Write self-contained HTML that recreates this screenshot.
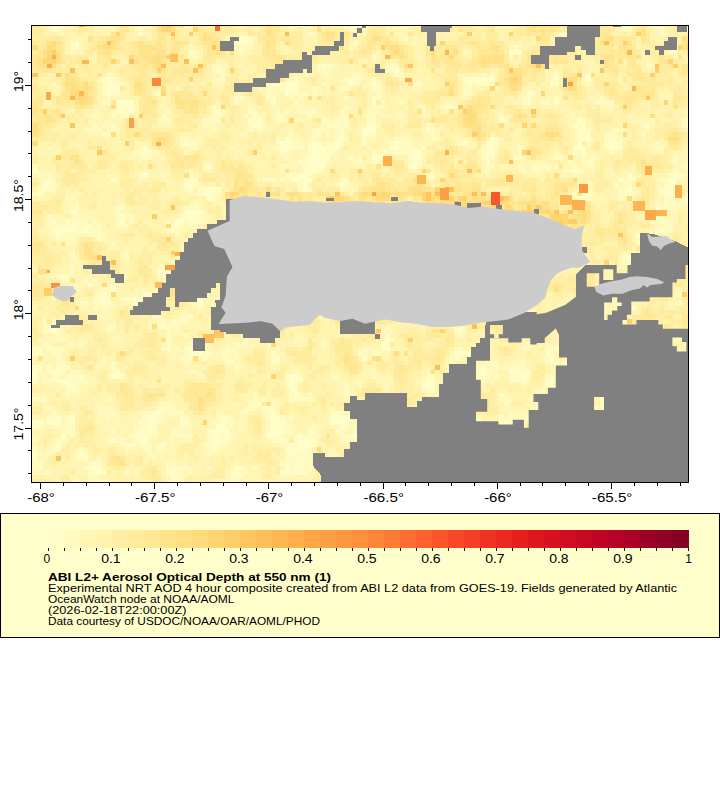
<!DOCTYPE html><html><head><meta charset="utf-8"><style>html,body{margin:0;padding:0;background:#fff;}svg{display:block;}text{font-family:"Liberation Sans",sans-serif;}</style></head><body><svg width="720" height="800" viewBox="0 0 720 800" shape-rendering="crispEdges"><rect width="720" height="800" fill="#fff"/><defs><clipPath id="mc"><rect x="32" y="26" width="656" height="456"/></clipPath></defs><g clip-path="url(#mc)"><rect x="32" y="26" width="656" height="456" fill="#ffeea6"/><g id="cells"><path fill="#fffdc8" d="M61 26h4v1h-4zM294 26h4v1h-4zM349 26h13v1h-13zM408 26h5v1h-5zM682 26h6v1h-6zM52 27h4v5h-4zM358 27h4v5h-4zM139 32h4v4h-4zM239 36h9v5h-9zM75 41h4v4h-4zM239 41h9v4h-9zM75 45h4v5h-4zM668 45h10v5h-10zM189 50h4v5h-4zM509 50h13v5h-13zM193 55h5v4h-5zM509 55h4v4h-4zM321 64h5v4h-5zM390 64h4v4h-4zM216 68h5v5h-5zM394 68h5v5h-5zM394 73h5v4h-5zM554 73h5v4h-5zM102 77h9v5h-9zM349 77h4v5h-4zM463 77h32v5h-32zM554 77h5v5h-5zM586 77h5v5h-5zM107 82h13v4h-13zM262 82h4v4h-4zM285 82h13v4h-13zM349 82h4v4h-4zM372 82h4v4h-4zM417 82h5v4h-5zM467 82h5v4h-5zM477 82h13v4h-13zM550 82h4v4h-4zM107 86h13v5h-13zM285 86h13v5h-13zM372 86h4v5h-4zM107 91h4v5h-4zM285 91h4v5h-4zM527 91h4v5h-4zM271 96h5v4h-5zM372 96h4v4h-4zM527 96h4v4h-4zM116 100h18v5h-18zM372 100h4v5h-4zM554 100h5v5h-5zM120 105h14v4h-14zM445 105h9v4h-9zM120 109h5v5h-5zM129 109h5v5h-5zM216 109h5v5h-5zM253 114h4v4h-4zM248 118h5v5h-5zM257 118h5v5h-5zM499 118h5v5h-5zM577 118h5v5h-5zM687 118h1v5h-1zM253 123h9v5h-9zM335 123h5v5h-5zM367 123h9v5h-9zM573 123h4v5h-4zM582 123h4v5h-4zM646 123h4v5h-4zM687 123h1v5h-1zM317 128h4v4h-4zM362 128h14v4h-14zM426 128h5v4h-5zM577 128h9v4h-9zM340 132h4v5h-4zM362 132h5v5h-5zM577 132h5v5h-5zM586 132h5v5h-5zM285 137h4v4h-4zM335 137h9v4h-9zM431 137h4v4h-4zM490 137h5v4h-5zM582 137h9v4h-9zM184 141h5v5h-5zM280 141h14v5h-14zM312 141h9v5h-9zM335 141h5v5h-5zM394 141h5v5h-5zM404 141h4v5h-4zM463 141h4v5h-4zM486 141h9v5h-9zM577 141h5v5h-5zM609 141h9v5h-9zM143 146h5v4h-5zM280 146h14v4h-14zM308 146h18v4h-18zM330 146h10v4h-10zM390 146h9v4h-9zM486 146h9v4h-9zM573 146h13v4h-13zM609 146h9v4h-9zM143 150h5v5h-5zM280 150h5v5h-5zM312 150h14v5h-14zM413 150h9v5h-9zM486 150h9v5h-9zM582 150h4v5h-4zM308 155h13v5h-13zM326 155h4v5h-4zM372 155h13v5h-13zM413 155h9v5h-9zM486 155h4v5h-4zM308 160h18v4h-18zM413 160h4v4h-4zM486 160h4v4h-4zM207 164h5v5h-5zM303 164h23v5h-23zM408 164h9v5h-9zM32 169h6v4h-6zM303 169h14v4h-14zM573 169h4v4h-4zM143 173h5v5h-5zM289 173h5v5h-5zM298 173h10v5h-10zM627 173h5v5h-5zM673 173h9v5h-9zM111 178h5v4h-5zM294 178h4v4h-4zM303 178h9v4h-9zM618 178h5v4h-5zM668 178h10v4h-10zM43 182h9v5h-9zM184 182h9v5h-9zM303 182h5v5h-5zM340 182h4v5h-4zM668 182h10v5h-10zM43 187h4v5h-4zM189 187h4v5h-4zM203 187h18v5h-18zM303 187h5v5h-5zM582 187h9v5h-9zM627 187h5v5h-5zM659 187h14v5h-14zM38 192h5v4h-5zM203 192h13v4h-13zM582 192h9v4h-9zM623 192h4v4h-4zM664 192h9v4h-9zM207 196h5v5h-5zM577 196h9v5h-9zM687 196h1v5h-1zM664 201h4v4h-4zM687 201h1v4h-1zM404 205h13v5h-13zM655 205h4v5h-4zM687 205h1v5h-1zM70 210h5v4h-5zM184 210h19v4h-19zM650 210h14v4h-14zM120 214h5v5h-5zM184 214h19v5h-19zM285 214h4v5h-4zM404 214h4v5h-4zM417 214h5v5h-5zM655 214h9v5h-9zM52 219h4v5h-4zM65 219h5v5h-5zM120 219h5v5h-5zM175 219h9v5h-9zM189 219h9v5h-9zM659 219h5v5h-5zM70 224h9v4h-9zM84 224h4v4h-4zM171 224h9v4h-9zM52 228h23v5h-23zM79 228h9v5h-9zM253 228h4v5h-4zM353 228h5v5h-5zM472 228h5v5h-5zM659 228h5v5h-5zM56 233h5v4h-5zM262 233h4v4h-4zM358 233h4v4h-4zM636 233h5v4h-5zM212 237h4v5h-4zM257 237h5v5h-5zM317 237h9v5h-9zM486 237h4v5h-4zM207 242h14v4h-14zM262 242h4v4h-4zM317 242h9v4h-9zM330 242h5v4h-5zM486 242h4v4h-4zM317 246h18v5h-18zM486 246h9v5h-9zM330 255h5v5h-5zM422 255h4v5h-4zM623 255h13v5h-13zM422 260h4v5h-4zM577 260h9v5h-9zM166 265h5v4h-5zM321 265h9v4h-9zM417 265h5v4h-5zM527 265h9v4h-9zM157 269h4v5h-4zM326 269h4v5h-4zM527 269h4v5h-4zM326 274h4v4h-4zM522 274h5v4h-5zM312 278h5v5h-5zM477 278h18v5h-18zM88 283h5v4h-5zM477 283h18v4h-18zM111 287h5v5h-5zM385 287h5v5h-5zM618 287h14v5h-14zM102 292h5v5h-5zM143 292h5v5h-5zM152 292h5v5h-5zM376 292h5v5h-5zM97 297h10v4h-10zM134 297h5v4h-5zM143 297h9v4h-9zM198 297h5v4h-5zM102 301h9v5h-9zM134 301h18v5h-18zM198 301h5v5h-5zM618 301h5v5h-5zM568 306h5v4h-5zM623 306h4v4h-4zM632 306h4v4h-4zM326 310h4v5h-4zM623 310h4v5h-4zM189 315h4v4h-4zM326 315h4v4h-4zM404 315h13v4h-13zM527 315h4v4h-4zM614 315h4v4h-4zM408 319h5v5h-5zM527 319h4v5h-4zM52 324h4v5h-4zM161 324h5v5h-5zM522 324h9v5h-9zM52 329h4v4h-4zM458 329h5v4h-5zM623 329h4v4h-4zM623 333h4v5h-4zM385 338h5v4h-5zM381 342h9v5h-9zM586 342h5v5h-5zM47 347h5v4h-5zM184 347h9v4h-9zM385 347h5v4h-5zM582 347h13v4h-13zM189 351h14v5h-14zM358 351h4v5h-4zM454 351h13v5h-13zM545 351h5v5h-5zM582 351h13v5h-13zM276 356h4v5h-4zM362 356h5v5h-5zM454 356h4v5h-4zM550 356h4v5h-4zM591 356h9v5h-9zM563 361h5v4h-5zM582 361h4v4h-4zM56 365h9v5h-9zM481 365h5v5h-5zM604 365h5v5h-5zM32 370h6v4h-6zM52 370h9v4h-9zM116 370h4v4h-4zM481 370h5v4h-5zM509 370h18v4h-18zM32 374h6v5h-6zM70 374h5v5h-5zM79 374h5v5h-5zM111 374h9v5h-9zM289 374h9v5h-9zM481 374h5v5h-5zM518 374h9v5h-9zM56 379h14v4h-14zM289 379h9v4h-9zM426 379h9v4h-9zM467 379h14v4h-14zM522 379h5v4h-5zM550 379h4v4h-4zM65 383h10v5h-10zM289 383h5v5h-5zM422 383h13v5h-13zM458 383h5v5h-5zM545 383h9v5h-9zM636 383h5v5h-5zM294 388h4v5h-4zM431 388h4v5h-4zM294 393h4v4h-4zM499 393h5v4h-5zM604 393h5v4h-5zM655 393h4v4h-4zM600 397h9v5h-9zM664 397h4v5h-4zM257 402h5v4h-5zM664 402h4v4h-4zM161 406h5v5h-5zM266 406h5v5h-5zM390 406h4v5h-4zM467 406h5v5h-5zM152 411h9v4h-9zM271 411h5v4h-5zM335 411h5v4h-5zM641 411h9v4h-9zM56 415h5v5h-5zM70 415h5v5h-5zM143 415h18v5h-18zM271 415h9v5h-9zM330 415h19v5h-19zM499 415h5v5h-5zM545 415h5v5h-5zM586 415h5v5h-5zM595 415h5v5h-5zM32 420h11v5h-11zM47 420h14v5h-14zM148 420h9v5h-9zM180 420h9v5h-9zM221 420h4v5h-4zM271 420h14v5h-14zM330 420h19v5h-19zM376 420h14v5h-14zM394 420h5v5h-5zM477 420h4v5h-4zM504 420h5v5h-5zM591 420h4v5h-4zM32 425h6v4h-6zM143 425h9v4h-9zM216 425h9v4h-9zM271 425h18v4h-18zM340 425h4v4h-4zM376 425h18v4h-18zM477 425h9v4h-9zM499 425h19v4h-19zM586 425h5v4h-5zM627 425h5v4h-5zM139 429h4v5h-4zM148 429h4v5h-4zM207 429h23v5h-23zM271 429h14v5h-14zM308 429h4v5h-4zM376 429h18v5h-18zM477 429h4v5h-4zM495 429h18v5h-18zM586 429h14v5h-14zM618 429h18v5h-18zM61 434h4v4h-4zM134 434h14v4h-14zM212 434h9v4h-9zM225 434h5v4h-5zM266 434h14v4h-14zM298 434h5v4h-5zM353 434h5v4h-5zM376 434h14v4h-14zM417 434h14v4h-14zM618 434h23v4h-23zM111 438h5v5h-5zM139 438h9v5h-9zM212 438h13v5h-13zM280 438h5v5h-5zM298 438h19v5h-19zM385 438h5v5h-5zM413 438h22v5h-22zM454 438h4v5h-4zM595 438h5v5h-5zM623 438h4v5h-4zM56 443h5v4h-5zM129 443h5v4h-5zM143 443h5v4h-5zM161 443h5v4h-5zM207 443h14v4h-14zM289 443h5v4h-5zM298 443h19v4h-19zM413 443h18v4h-18zM454 443h9v4h-9zM490 443h9v4h-9zM595 443h5v4h-5zM604 443h5v4h-5zM212 447h4v5h-4zM285 447h23v5h-23zM413 447h9v5h-9zM454 447h9v5h-9zM486 447h9v5h-9zM32 452h6v4h-6zM79 452h5v4h-5zM289 452h9v4h-9zM417 452h9v4h-9zM440 452h9v4h-9zM458 452h5v4h-5zM499 452h14v4h-14zM32 456h6v5h-6zM84 456h4v5h-4zM294 456h4v5h-4zM445 456h4v5h-4zM609 456h9v5h-9zM93 461h4v5h-4zM298 461h5v5h-5zM568 461h14v5h-14zM614 461h4v5h-4zM88 466h14v4h-14zM234 466h10v4h-10zM285 466h4v4h-4zM294 466h4v4h-4zM376 466h9v4h-9zM568 466h9v4h-9zM636 466h10v4h-10zM93 470h9v5h-9zM166 470h9v5h-9zM234 470h5v5h-5zM285 470h4v5h-4zM294 470h9v5h-9zM394 470h5v5h-5zM568 470h5v5h-5zM591 470h4v5h-4zM636 470h10v5h-10zM230 475h4v4h-4zM344 475h5v4h-5zM390 475h18v4h-18zM604 475h5v4h-5zM646 475h4v4h-4zM678 475h9v4h-9zM390 479h18v3h-18zM604 479h14v3h-14zM682 479h6v3h-6z"/><path fill="#fffac0" d="M52 26h9v1h-9zM289 26h5v1h-5zM298 26h5v1h-5zM330 26h5v1h-5zM344 26h5v1h-5zM362 26h5v1h-5zM404 26h4v1h-4zM627 26h5v1h-5zM655 26h4v1h-4zM56 27h5v5h-5zM139 27h4v5h-4zM349 27h9v5h-9zM577 27h9v5h-9zM623 27h9v5h-9zM659 27h5v5h-5zM687 27h1v5h-1zM308 32h9v4h-9zM399 32h5v4h-5zM559 32h9v4h-9zM577 32h9v4h-9zM659 32h9v4h-9zM248 36h5v5h-5zM404 36h4v5h-4zM559 36h9v5h-9zM577 36h9v5h-9zM70 41h5v4h-5zM234 41h5v4h-5zM248 41h5v4h-5zM353 41h5v4h-5zM518 41h4v4h-4zM668 41h10v4h-10zM70 45h5v5h-5zM239 45h14v5h-14zM513 45h5v5h-5zM70 50h5v5h-5zM193 50h5v5h-5zM239 50h5v5h-5zM463 50h4v5h-4zM668 50h10v5h-10zM189 55h4v4h-4zM372 55h4v4h-4zM212 64h13v4h-13zM317 64h4v4h-4zM326 64h9v4h-9zM385 64h5v4h-5zM394 64h5v4h-5zM646 64h9v4h-9zM212 68h4v5h-4zM221 68h4v5h-4zM317 68h13v5h-13zM385 68h9v5h-9zM107 73h4v4h-4zM221 73h4v4h-4zM303 73h5v4h-5zM321 73h9v4h-9zM353 73h9v4h-9zM399 73h5v4h-5zM481 73h5v4h-5zM490 73h5v4h-5zM586 73h5v4h-5zM97 77h5v5h-5zM111 77h9v5h-9zM216 77h9v5h-9zM294 77h4v5h-4zM344 77h5v5h-5zM353 77h9v5h-9zM372 77h4v5h-4zM550 77h4v5h-4zM582 77h4v5h-4zM52 82h4v4h-4zM102 82h5v4h-5zM120 82h5v4h-5zM266 82h19v4h-19zM321 82h9v4h-9zM353 82h5v4h-5zM367 82h5v4h-5zM376 82h5v4h-5zM413 82h4v4h-4zM463 82h4v4h-4zM472 82h5v4h-5zM490 82h5v4h-5zM554 82h5v4h-5zM586 82h5v4h-5zM102 86h5v5h-5zM266 86h10v5h-10zM280 86h5v5h-5zM312 86h5v5h-5zM326 86h4v5h-4zM340 86h9v5h-9zM376 86h5v5h-5zM463 86h9v5h-9zM102 91h5v5h-5zM111 91h9v5h-9zM157 91h4v5h-4zM266 91h10v5h-10zM289 91h19v5h-19zM312 91h5v5h-5zM376 91h5v5h-5zM463 91h9v5h-9zM531 91h5v5h-5zM107 96h4v4h-4zM234 96h10v4h-10zM266 96h5v4h-5zM289 96h5v4h-5zM298 96h5v4h-5zM344 96h5v4h-5zM376 96h5v4h-5zM522 96h5v4h-5zM554 96h5v4h-5zM600 96h4v4h-4zM102 100h9v5h-9zM234 100h5v5h-5zM271 100h5v5h-5zM294 100h4v5h-4zM381 100h4v5h-4zM399 100h5v5h-5zM445 100h4v5h-4zM522 100h9v5h-9zM541 100h9v5h-9zM595 100h19v5h-19zM116 105h4v4h-4zM134 105h5v4h-5zM212 105h4v4h-4zM248 105h5v4h-5zM298 105h5v4h-5zM344 105h5v4h-5zM372 105h13v4h-13zM422 105h4v4h-4zM440 105h5v4h-5zM454 105h4v4h-4zM609 105h5v4h-5zM111 109h9v5h-9zM125 109h4v5h-4zM166 109h5v5h-5zM212 109h4v5h-4zM221 109h4v5h-4zM248 109h9v5h-9zM276 109h4v5h-4zM285 109h4v5h-4zM298 109h19v5h-19zM340 109h4v5h-4zM367 109h14v5h-14zM422 109h4v5h-4zM93 114h4v4h-4zM111 114h5v4h-5zM120 114h9v4h-9zM161 114h5v4h-5zM212 114h9v4h-9zM244 114h4v4h-4zM257 114h5v4h-5zM276 114h9v4h-9zM308 114h4v4h-4zM340 114h9v4h-9zM367 114h9v4h-9zM381 114h4v4h-4zM399 114h5v4h-5zM422 114h4v4h-4zM499 114h5v4h-5zM687 114h1v4h-1zM161 118h10v5h-10zM203 118h18v5h-18zM253 118h4v5h-4zM276 118h9v5h-9zM294 118h4v5h-4zM321 118h9v5h-9zM335 118h14v5h-14zM367 118h9v5h-9zM504 118h5v5h-5zM582 118h4v5h-4zM650 118h5v5h-5zM682 118h5v5h-5zM93 123h4v5h-4zM102 123h14v5h-14zM203 123h4v5h-4zM248 123h5v5h-5zM262 123h4v5h-4zM321 123h14v5h-14zM340 123h9v5h-9zM426 123h5v5h-5zM577 123h5v5h-5zM641 123h5v5h-5zM682 123h5v5h-5zM84 128h18v4h-18zM107 128h9v4h-9zM212 128h4v4h-4zM248 128h5v4h-5zM257 128h5v4h-5zM312 128h5v4h-5zM321 128h5v4h-5zM335 128h9v4h-9zM431 128h4v4h-4zM586 128h5v4h-5zM614 128h9v4h-9zM646 128h4v4h-4zM102 132h9v5h-9zM239 132h5v5h-5zM289 132h5v5h-5zM312 132h9v5h-9zM326 132h4v5h-4zM335 132h5v5h-5zM367 132h9v5h-9zM431 132h4v5h-4zM582 132h4v5h-4zM604 132h14v5h-14zM641 132h5v5h-5zM180 137h9v4h-9zM198 137h5v4h-5zM276 137h4v4h-4zM289 137h9v4h-9zM312 137h5v4h-5zM344 137h5v4h-5zM362 137h5v4h-5zM394 137h14v4h-14zM435 137h5v4h-5zM495 137h4v4h-4zM577 137h5v4h-5zM604 137h19v4h-19zM180 141h4v5h-4zM189 141h9v5h-9zM276 141h4v5h-4zM294 141h9v5h-9zM308 141h4v5h-4zM326 141h9v5h-9zM340 141h4v5h-4zM362 141h5v5h-5zM390 141h4v5h-4zM399 141h5v5h-5zM408 141h5v5h-5zM458 141h5v5h-5zM495 141h4v5h-4zM586 141h5v5h-5zM604 141h5v5h-5zM618 141h5v5h-5zM655 141h4v5h-4zM47 146h5v4h-5zM139 146h4v4h-4zM189 146h9v4h-9zM230 146h4v4h-4zM276 146h4v4h-4zM294 146h9v4h-9zM326 146h4v4h-4zM399 146h18v4h-18zM422 146h4v4h-4zM481 146h5v4h-5zM495 146h4v4h-4zM518 146h4v4h-4zM604 146h5v4h-5zM618 146h5v4h-5zM655 146h9v4h-9zM134 150h9v5h-9zM148 150h4v5h-4zM184 150h5v5h-5zM285 150h4v5h-4zM308 150h4v5h-4zM326 150h9v5h-9zM372 150h4v5h-4zM381 150h9v5h-9zM394 150h19v5h-19zM481 150h5v5h-5zM518 150h4v5h-4zM573 150h9v5h-9zM609 150h5v5h-5zM139 155h13v5h-13zM285 155h4v5h-4zM303 155h5v5h-5zM321 155h5v5h-5zM349 155h4v5h-4zM358 155h4v5h-4zM408 155h5v5h-5zM481 155h5v5h-5zM490 155h5v5h-5zM513 155h9v5h-9zM554 155h9v5h-9zM582 155h4v5h-4zM591 155h4v5h-4zM673 155h5v5h-5zM298 160h10v4h-10zM326 160h4v4h-4zM353 160h9v4h-9zM372 160h9v4h-9zM408 160h5v4h-5zM417 160h5v4h-5zM568 160h5v4h-5zM582 160h13v4h-13zM673 160h5v4h-5zM687 160h1v4h-1zM32 164h6v5h-6zM203 164h4v5h-4zM280 164h9v5h-9zM417 164h5v5h-5zM486 164h9v5h-9zM518 164h4v5h-4zM531 164h19v5h-19zM554 164h5v5h-5zM573 164h4v5h-4zM586 164h9v5h-9zM682 164h6v5h-6zM189 169h4v4h-4zM280 169h5v4h-5zM317 169h4v4h-4zM486 169h4v4h-4zM522 169h5v4h-5zM531 169h10v4h-10zM563 169h10v4h-10zM577 169h5v4h-5zM673 169h5v4h-5zM38 173h5v5h-5zM47 173h5v5h-5zM107 173h4v5h-4zM139 173h4v5h-4zM161 173h5v5h-5zM189 173h4v5h-4zM285 173h4v5h-4zM294 173h4v5h-4zM308 173h4v5h-4zM426 173h9v5h-9zM668 173h5v5h-5zM682 173h5v5h-5zM43 178h13v4h-13zM139 178h4v4h-4zM184 178h14v4h-14zM262 178h14v4h-14zM280 178h5v4h-5zM289 178h5v4h-5zM298 178h5v4h-5zM340 178h9v4h-9zM431 178h4v4h-4zM623 178h13v4h-13zM659 178h9v4h-9zM678 178h4v4h-4zM52 182h4v5h-4zM193 182h5v5h-5zM298 182h5v5h-5zM335 182h5v5h-5zM344 182h5v5h-5zM582 182h9v5h-9zM614 182h4v5h-4zM623 182h9v5h-9zM664 182h4v5h-4zM38 187h5v5h-5zM47 187h9v5h-9zM184 187h5v5h-5zM198 187h5v5h-5zM298 187h5v5h-5zM308 187h4v5h-4zM340 187h4v5h-4zM349 187h4v5h-4zM577 187h5v5h-5zM618 187h9v5h-9zM673 187h5v5h-5zM32 192h6v4h-6zM189 192h14v4h-14zM216 192h5v4h-5zM573 192h4v4h-4zM591 192h4v4h-4zM618 192h5v4h-5zM627 192h9v4h-9zM659 192h5v4h-5zM673 192h5v4h-5zM65 196h10v5h-10zM212 196h4v5h-4zM563 196h14v5h-14zM586 196h5v5h-5zM600 196h4v5h-4zM618 196h5v5h-5zM664 196h23v5h-23zM75 201h4v4h-4zM193 201h5v4h-5zM280 201h5v4h-5zM655 201h4v4h-4zM668 201h19v4h-19zM70 205h9v5h-9zM116 205h9v5h-9zM189 205h9v5h-9zM280 205h5v5h-5zM417 205h5v5h-5zM659 205h19v5h-19zM75 210h4v4h-4zM116 210h4v4h-4zM203 210h4v4h-4zM285 210h9v4h-9zM404 210h18v4h-18zM687 210h1v4h-1zM47 214h5v5h-5zM75 214h4v5h-4zM116 214h4v5h-4zM125 214h9v5h-9zM180 214h4v5h-4zM203 214h4v5h-4zM280 214h5v5h-5zM289 214h5v5h-5zM385 214h9v5h-9zM399 214h5v5h-5zM413 214h4v5h-4zM426 214h5v5h-5zM650 214h5v5h-5zM47 219h5v5h-5zM70 219h18v5h-18zM93 219h4v5h-4zM116 219h4v5h-4zM129 219h5v5h-5zM166 219h5v5h-5zM184 219h5v5h-5zM198 219h9v5h-9zM253 219h4v5h-4zM289 219h5v5h-5zM385 219h5v5h-5zM413 219h9v5h-9zM426 219h5v5h-5zM650 219h9v5h-9zM664 219h9v5h-9zM47 224h23v4h-23zM79 224h5v4h-5zM88 224h5v4h-5zM97 224h5v4h-5zM116 224h13v4h-13zM180 224h4v4h-4zM189 224h9v4h-9zM253 224h4v4h-4zM276 224h4v4h-4zM353 224h9v4h-9zM417 224h9v4h-9zM463 224h4v4h-4zM655 224h4v4h-4zM664 224h9v4h-9zM75 228h4v5h-4zM88 228h14v5h-14zM166 228h14v5h-14zM285 228h4v5h-4zM344 228h9v5h-9zM362 228h5v5h-5zM431 228h4v5h-4zM467 228h5v5h-5zM655 228h4v5h-4zM664 228h9v5h-9zM52 233h4v4h-4zM61 233h18v4h-18zM88 233h19v4h-19zM175 233h5v4h-5zM253 233h9v4h-9zM266 233h5v4h-5zM326 233h9v4h-9zM349 233h9v4h-9zM477 233h4v4h-4zM486 233h4v4h-4zM641 233h9v4h-9zM655 233h4v4h-4zM56 237h19v5h-19zM97 237h5v5h-5zM262 237h4v5h-4zM330 237h5v5h-5zM490 237h5v5h-5zM636 237h14v5h-14zM65 242h5v4h-5zM111 242h5v4h-5zM184 242h9v4h-9zM294 242h4v4h-4zM312 242h5v4h-5zM481 242h5v4h-5zM490 242h9v4h-9zM550 242h13v4h-13zM636 242h10v4h-10zM184 246h14v5h-14zM207 246h5v5h-5zM262 246h4v5h-4zM340 246h4v5h-4zM495 246h14v5h-14zM559 246h4v5h-4zM70 251h5v4h-5zM125 251h4v4h-4zM189 251h4v4h-4zM203 251h4v4h-4zM244 251h4v4h-4zM298 251h5v4h-5zM317 251h9v4h-9zM330 251h10v4h-10zM362 251h10v4h-10zM486 251h13v4h-13zM632 251h4v4h-4zM70 255h5v5h-5zM125 255h4v5h-4zM207 255h5v5h-5zM303 255h5v5h-5zM321 255h9v5h-9zM335 255h5v5h-5zM372 255h9v5h-9zM486 255h4v5h-4zM563 255h10v5h-10zM577 255h9v5h-9zM673 255h5v5h-5zM321 260h14v5h-14zM372 260h4v5h-4zM404 260h4v5h-4zM417 260h5v5h-5zM477 260h13v5h-13zM522 260h5v5h-5zM568 260h9v5h-9zM623 260h9v5h-9zM70 265h5v4h-5zM161 265h5v4h-5zM216 265h14v4h-14zM330 265h5v4h-5zM367 265h5v4h-5zM422 265h4v4h-4zM445 265h4v4h-4zM481 265h9v4h-9zM522 265h5v4h-5zM600 265h4v4h-4zM627 265h5v4h-5zM668 265h10v4h-10zM70 269h5v5h-5zM161 269h14v5h-14zM216 269h5v5h-5zM317 269h9v5h-9zM330 269h10v5h-10zM449 269h5v5h-5zM486 269h4v5h-4zM518 269h9v5h-9zM531 269h5v5h-5zM56 274h14v4h-14zM120 274h5v4h-5zM157 274h9v4h-9zM280 274h5v4h-5zM303 274h23v4h-23zM330 274h5v4h-5zM340 274h4v4h-4zM481 274h14v4h-14zM513 274h9v4h-9zM527 274h4v4h-4zM61 278h9v5h-9zM84 278h4v5h-4zM93 278h4v5h-4zM116 278h4v5h-4zM280 278h5v5h-5zM308 278h4v5h-4zM604 278h5v5h-5zM618 278h5v5h-5zM627 278h9v5h-9zM70 283h9v4h-9zM111 283h5v4h-5zM225 283h14v4h-14zM376 283h14v4h-14zM467 283h10v4h-10zM604 283h32v4h-32zM102 287h9v5h-9zM225 287h5v5h-5zM362 287h10v5h-10zM376 287h5v5h-5zM486 287h4v5h-4zM614 287h4v5h-4zM97 292h5v5h-5zM107 292h4v5h-4zM148 292h4v5h-4zM157 292h4v5h-4zM353 292h5v5h-5zM362 292h10v5h-10zM422 292h9v5h-9zM618 292h9v5h-9zM678 292h4v5h-4zM93 297h4v4h-4zM107 297h4v4h-4zM120 297h14v4h-14zM139 297h4v4h-4zM152 297h5v4h-5zM193 297h5v4h-5zM271 297h9v4h-9zM362 297h10v4h-10zM381 297h4v4h-4zM413 297h4v4h-4zM422 297h13v4h-13zM618 297h9v4h-9zM79 301h9v5h-9zM93 301h9v5h-9zM125 301h4v5h-4zM193 301h5v5h-5zM271 301h9v5h-9zM285 301h4v5h-4zM317 301h9v5h-9zM358 301h4v5h-4zM381 301h9v5h-9zM408 301h14v5h-14zM518 301h4v5h-4zM614 301h4v5h-4zM627 301h5v5h-5zM668 301h5v5h-5zM678 301h4v5h-4zM93 306h4v4h-4zM102 306h5v4h-5zM134 306h18v4h-18zM198 306h5v4h-5zM212 306h4v4h-4zM289 306h5v4h-5zM317 306h4v4h-4zM326 306h4v4h-4zM385 306h9v4h-9zM404 306h18v4h-18zM563 306h5v4h-5zM627 306h5v4h-5zM212 310h4v5h-4zM317 310h9v5h-9zM404 310h13v5h-13zM527 310h4v5h-4zM614 310h9v5h-9zM627 310h5v5h-5zM152 315h9v4h-9zM180 315h9v4h-9zM212 315h4v4h-4zM417 315h5v4h-5zM522 315h5v4h-5zM531 315h5v4h-5zM618 315h9v4h-9zM43 319h4v5h-4zM52 319h4v5h-4zM157 319h9v5h-9zM171 319h18v5h-18zM358 319h4v5h-4zM404 319h4v5h-4zM413 319h4v5h-4zM522 319h5v5h-5zM531 319h10v5h-10zM614 319h13v5h-13zM43 324h9v5h-9zM56 324h5v5h-5zM107 324h9v5h-9zM148 324h4v5h-4zM157 324h4v5h-4zM166 324h14v5h-14zM353 324h9v5h-9zM454 324h9v5h-9zM531 324h5v5h-5zM614 324h13v5h-13zM655 324h4v5h-4zM43 329h9v4h-9zM56 329h9v4h-9zM107 329h4v4h-4zM166 329h5v4h-5zM175 329h5v4h-5zM349 329h9v4h-9zM381 329h4v4h-4zM390 329h4v4h-4zM454 329h4v4h-4zM522 329h5v4h-5zM614 329h9v4h-9zM650 329h14v4h-14zM56 333h5v5h-5zM166 333h5v5h-5zM184 333h5v5h-5zM248 333h5v5h-5zM385 333h5v5h-5zM458 333h5v5h-5zM650 333h9v5h-9zM673 333h15v5h-15zM56 338h9v4h-9zM166 338h5v4h-5zM244 338h4v4h-4zM262 338h4v4h-4zM390 338h4v4h-4zM481 338h5v4h-5zM586 338h5v4h-5zM650 338h5v4h-5zM659 338h29v4h-29zM43 342h9v5h-9zM70 342h5v5h-5zM79 342h5v5h-5zM166 342h5v5h-5zM189 342h9v5h-9zM203 342h9v5h-9zM234 342h14v5h-14zM266 342h5v5h-5zM321 342h5v5h-5zM481 342h9v5h-9zM527 342h4v5h-4zM577 342h9v5h-9zM591 342h9v5h-9zM650 342h5v5h-5zM668 342h5v5h-5zM32 347h11v4h-11zM52 347h13v4h-13zM161 347h10v4h-10zM175 347h5v4h-5zM193 347h14v4h-14zM225 347h9v4h-9zM276 347h4v4h-4zM362 347h10v4h-10zM381 347h4v4h-4zM458 347h5v4h-5zM522 347h5v4h-5zM545 347h14v4h-14zM577 347h5v4h-5zM595 347h5v4h-5zM32 351h11v5h-11zM52 351h9v5h-9zM184 351h5v5h-5zM203 351h9v5h-9zM221 351h9v5h-9zM234 351h5v5h-5zM271 351h5v5h-5zM362 351h5v5h-5zM372 351h9v5h-9zM467 351h5v5h-5zM550 351h4v5h-4zM559 351h4v5h-4zM573 351h4v5h-4zM595 351h5v5h-5zM650 351h5v5h-5zM673 351h5v5h-5zM43 356h4v5h-4zM56 356h5v5h-5zM102 356h5v5h-5zM180 356h13v5h-13zM203 356h4v5h-4zM221 356h18v5h-18zM271 356h5v5h-5zM449 356h5v5h-5zM458 356h5v5h-5zM467 356h10v5h-10zM545 356h5v5h-5zM563 356h5v5h-5zM573 356h18v5h-18zM600 356h9v5h-9zM673 356h5v5h-5zM56 361h9v4h-9zM102 361h5v4h-5zM111 361h5v4h-5zM184 361h5v4h-5zM225 361h9v4h-9zM271 361h9v4h-9zM449 361h5v4h-5zM472 361h5v4h-5zM486 361h13v4h-13zM513 361h14v4h-14zM550 361h9v4h-9zM568 361h14v4h-14zM586 361h23v4h-23zM668 361h5v4h-5zM32 365h11v5h-11zM47 365h5v5h-5zM65 365h5v5h-5zM111 365h5v5h-5zM234 365h5v5h-5zM477 365h4v5h-4zM490 365h9v5h-9zM504 365h23v5h-23zM554 365h5v5h-5zM563 365h10v5h-10zM577 365h5v5h-5zM586 365h5v5h-5zM600 365h4v5h-4zM687 365h1v5h-1zM38 370h5v4h-5zM47 370h5v4h-5zM61 370h4v4h-4zM70 370h9v4h-9zM111 370h5v4h-5zM189 370h9v4h-9zM294 370h4v4h-4zM372 370h4v4h-4zM477 370h4v4h-4zM486 370h9v4h-9zM527 370h4v4h-4zM554 370h9v4h-9zM582 370h13v4h-13zM604 370h10v4h-10zM627 370h5v4h-5zM43 374h4v5h-4zM52 374h9v5h-9zM65 374h5v5h-5zM75 374h4v5h-4zM120 374h5v5h-5zM198 374h5v5h-5zM285 374h4v5h-4zM298 374h5v5h-5zM330 374h10v5h-10zM372 374h4v5h-4zM426 374h9v5h-9zM467 374h14v5h-14zM486 374h4v5h-4zM495 374h4v5h-4zM509 374h9v5h-9zM527 374h4v5h-4zM545 374h18v5h-18zM582 374h32v5h-32zM618 374h14v5h-14zM687 374h1v5h-1zM32 379h6v4h-6zM43 379h13v4h-13zM70 379h18v4h-18zM285 379h4v4h-4zM298 379h5v4h-5zM358 379h4v4h-4zM422 379h4v4h-4zM454 379h13v4h-13zM481 379h5v4h-5zM509 379h13v4h-13zM545 379h5v4h-5zM554 379h9v4h-9zM600 379h4v4h-4zM646 379h4v4h-4zM61 383h4v5h-4zM75 383h4v5h-4zM285 383h4v5h-4zM294 383h4v5h-4zM344 383h5v5h-5zM358 383h4v5h-4zM385 383h5v5h-5zM454 383h4v5h-4zM472 383h5v5h-5zM554 383h9v5h-9zM632 383h4v5h-4zM65 388h14v5h-14zM289 388h5v5h-5zM344 388h5v5h-5zM422 388h9v5h-9zM445 388h4v5h-4zM454 388h4v5h-4zM541 388h4v5h-4zM550 388h9v5h-9zM65 393h5v4h-5zM253 393h4v4h-4zM289 393h5v4h-5zM298 393h5v4h-5zM308 393h4v4h-4zM344 393h9v4h-9zM536 393h5v4h-5zM554 393h5v4h-5zM595 393h5v4h-5zM659 393h5v4h-5zM32 397h15v5h-15zM107 397h4v5h-4zM253 397h4v5h-4zM262 397h4v5h-4zM289 397h23v5h-23zM390 397h4v5h-4zM499 397h10v5h-10zM550 397h4v5h-4zM609 397h5v5h-5zM655 397h9v5h-9zM161 402h10v4h-10zM248 402h9v4h-9zM271 402h5v4h-5zM390 402h9v4h-9zM472 402h5v4h-5zM504 402h5v4h-5zM527 402h4v4h-4zM536 402h5v4h-5zM600 402h9v4h-9zM659 402h5v4h-5zM47 406h5v5h-5zM97 406h14v5h-14zM157 406h4v5h-4zM166 406h9v5h-9zM244 406h13v5h-13zM262 406h4v5h-4zM271 406h5v5h-5zM394 406h5v5h-5zM435 406h5v5h-5zM536 406h14v5h-14zM595 406h9v5h-9zM641 406h9v5h-9zM664 406h9v5h-9zM682 406h6v5h-6zM52 411h4v4h-4zM97 411h19v4h-19zM139 411h13v4h-13zM161 411h23v4h-23zM239 411h9v4h-9zM262 411h9v4h-9zM330 411h5v4h-5zM340 411h4v4h-4zM385 411h5v4h-5zM435 411h5v4h-5zM449 411h9v4h-9zM463 411h4v4h-4zM509 411h4v4h-4zM531 411h5v4h-5zM541 411h9v4h-9zM586 411h18v4h-18zM650 411h5v4h-5zM687 411h1v4h-1zM47 415h9v5h-9zM65 415h5v5h-5zM107 415h4v5h-4zM116 415h4v5h-4zM161 415h5v5h-5zM180 415h9v5h-9zM216 415h14v5h-14zM266 415h5v5h-5zM280 415h5v5h-5zM289 415h5v5h-5zM349 415h4v5h-4zM385 415h5v5h-5zM394 415h5v5h-5zM454 415h13v5h-13zM472 415h9v5h-9zM509 415h27v5h-27zM541 415h4v5h-4zM591 415h4v5h-4zM646 415h4v5h-4zM673 415h5v5h-5zM687 415h1v5h-1zM65 420h10v5h-10zM116 420h4v5h-4zM139 420h9v5h-9zM157 420h4v5h-4zM212 420h9v5h-9zM225 420h9v5h-9zM285 420h4v5h-4zM349 420h4v5h-4zM390 420h4v5h-4zM399 420h5v5h-5zM458 420h5v5h-5zM472 420h5v5h-5zM490 420h5v5h-5zM499 420h5v5h-5zM509 420h13v5h-13zM586 420h5v5h-5zM595 420h9v5h-9zM673 420h5v5h-5zM38 425h5v4h-5zM52 425h23v4h-23zM134 425h9v4h-9zM152 425h5v4h-5zM180 425h13v4h-13zM225 425h9v4h-9zM239 425h5v4h-5zM266 425h5v4h-5zM289 425h5v4h-5zM312 425h5v4h-5zM344 425h5v4h-5zM353 425h5v4h-5zM372 425h4v4h-4zM394 425h5v4h-5zM472 425h5v4h-5zM490 425h5v4h-5zM591 425h13v4h-13zM614 425h13v4h-13zM632 425h4v4h-4zM61 429h14v5h-14zM111 429h5v5h-5zM134 429h5v5h-5zM143 429h5v5h-5zM152 429h5v5h-5zM171 429h13v5h-13zM266 429h5v5h-5zM285 429h9v5h-9zM312 429h5v5h-5zM335 429h9v5h-9zM353 429h5v5h-5zM372 429h4v5h-4zM394 429h5v5h-5zM413 429h4v5h-4zM422 429h13v5h-13zM481 429h14v5h-14zM582 429h4v5h-4zM600 429h4v5h-4zM614 429h4v5h-4zM636 429h10v5h-10zM655 429h4v5h-4zM70 434h5v4h-5zM129 434h5v4h-5zM148 434h9v4h-9zM171 434h22v4h-22zM207 434h5v4h-5zM221 434h4v4h-4zM230 434h4v4h-4zM280 434h9v4h-9zM294 434h4v4h-4zM303 434h18v4h-18zM340 434h13v4h-13zM358 434h4v4h-4zM390 434h9v4h-9zM413 434h4v4h-4zM431 434h4v4h-4zM495 434h4v4h-4zM504 434h9v4h-9zM586 434h9v4h-9zM604 434h14v4h-14zM32 438h6v5h-6zM56 438h9v5h-9zM107 438h4v5h-4zM116 438h9v5h-9zM134 438h5v5h-5zM207 438h5v5h-5zM225 438h5v5h-5zM271 438h9v5h-9zM285 438h4v5h-4zM294 438h4v5h-4zM340 438h22v5h-22zM381 438h4v5h-4zM390 438h4v5h-4zM449 438h5v5h-5zM458 438h5v5h-5zM486 438h13v5h-13zM518 438h4v5h-4zM600 438h23v5h-23zM627 438h14v5h-14zM650 438h5v5h-5zM52 443h4v4h-4zM120 443h9v4h-9zM134 443h9v4h-9zM148 443h4v4h-4zM157 443h4v4h-4zM171 443h4v4h-4zM203 443h4v4h-4zM221 443h4v4h-4zM280 443h9v4h-9zM294 443h4v4h-4zM390 443h9v4h-9zM431 443h4v4h-4zM449 443h5v4h-5zM463 443h4v4h-4zM486 443h4v4h-4zM600 443h4v4h-4zM614 443h4v4h-4zM632 443h4v4h-4zM32 447h6v5h-6zM52 447h9v5h-9zM79 447h5v5h-5zM125 447h4v5h-4zM143 447h9v5h-9zM157 447h9v5h-9zM207 447h5v5h-5zM216 447h5v5h-5zM308 447h4v5h-4zM422 447h4v5h-4zM435 447h5v5h-5zM445 447h9v5h-9zM495 447h4v5h-4zM509 447h9v5h-9zM609 447h5v5h-5zM38 452h5v4h-5zM47 452h5v4h-5zM75 452h4v4h-4zM84 452h4v4h-4zM148 452h4v4h-4zM207 452h5v4h-5zM285 452h4v4h-4zM298 452h14v4h-14zM413 452h4v4h-4zM435 452h5v4h-5zM449 452h9v4h-9zM490 452h9v4h-9zM513 452h5v4h-5zM522 452h5v4h-5zM559 452h4v4h-4zM604 452h19v4h-19zM75 456h9v5h-9zM152 456h5v5h-5zM285 456h9v5h-9zM298 456h14v5h-14zM326 456h9v5h-9zM390 456h9v5h-9zM422 456h4v5h-4zM431 456h4v5h-4zM440 456h5v5h-5zM472 456h5v5h-5zM499 456h14v5h-14zM518 456h4v5h-4zM527 456h4v5h-4zM577 456h5v5h-5zM604 456h5v5h-5zM618 456h5v5h-5zM659 456h9v5h-9zM32 461h11v5h-11zM88 461h5v5h-5zM97 461h5v5h-5zM166 461h9v5h-9zM280 461h18v5h-18zM303 461h9v5h-9zM376 461h5v5h-5zM390 461h9v5h-9zM563 461h5v5h-5zM582 461h4v5h-4zM604 461h10v5h-10zM627 461h14v5h-14zM659 461h5v5h-5zM32 466h11v4h-11zM84 466h4v4h-4zM166 466h27v4h-27zM207 466h5v4h-5zM253 466h4v4h-4zM289 466h5v4h-5zM298 466h14v4h-14zM390 466h14v4h-14zM559 466h9v4h-9zM577 466h9v4h-9zM591 466h23v4h-23zM623 466h9v4h-9zM32 470h6v5h-6zM43 470h9v5h-9zM88 470h5v5h-5zM102 470h5v5h-5zM125 470h4v5h-4zM134 470h5v5h-5zM175 470h9v5h-9zM189 470h4v5h-4zM230 470h4v5h-4zM239 470h9v5h-9zM280 470h5v5h-5zM289 470h5v5h-5zM303 470h5v5h-5zM340 470h4v5h-4zM376 470h5v5h-5zM399 470h9v5h-9zM573 470h4v5h-4zM586 470h5v5h-5zM595 470h19v5h-19zM659 470h5v5h-5zM682 470h5v5h-5zM88 475h9v4h-9zM171 475h13v4h-13zM234 475h10v4h-10zM335 475h5v4h-5zM385 475h5v4h-5zM591 475h13v4h-13zM614 475h9v4h-9zM641 475h5v4h-5zM668 475h5v4h-5zM687 475h1v4h-1zM75 479h4v3h-4zM102 479h5v3h-5zM171 479h9v3h-9zM221 479h4v3h-4zM230 479h9v3h-9zM340 479h13v3h-13zM408 479h5v3h-5zM472 479h9v3h-9zM600 479h4v3h-4zM636 479h10v3h-10zM678 479h4v3h-4z"/><path fill="#fff6b6" d="M47 26h5v1h-5zM102 26h9v1h-9zM139 26h9v1h-9zM184 26h5v1h-5zM239 26h5v1h-5zM285 26h4v1h-4zM303 26h9v1h-9zM326 26h4v1h-4zM399 26h5v1h-5zM413 26h4v1h-4zM495 26h9v1h-9zM509 26h4v1h-4zM577 26h9v1h-9zM618 26h9v1h-9zM650 26h5v1h-5zM659 26h5v1h-5zM47 27h5v5h-5zM61 27h9v5h-9zM102 27h5v5h-5zM111 27h5v5h-5zM134 27h5v5h-5zM289 27h5v5h-5zM308 27h4v5h-4zM362 27h5v5h-5zM394 27h14v5h-14zM422 27h4v5h-4zM568 27h5v5h-5zM586 27h5v5h-5zM618 27h5v5h-5zM655 27h4v5h-4zM47 32h5v4h-5zM56 32h19v4h-19zM102 32h9v4h-9zM129 32h10v4h-10zM143 32h9v4h-9zM239 32h9v4h-9zM303 32h5v4h-5zM353 32h5v4h-5zM362 32h5v4h-5zM385 32h5v4h-5zM394 32h5v4h-5zM404 32h4v4h-4zM431 32h4v4h-4zM440 32h14v4h-14zM568 32h9v4h-9zM586 32h5v4h-5zM650 32h9v4h-9zM70 36h18v5h-18zM225 36h5v5h-5zM234 36h5v5h-5zM253 36h4v5h-4zM303 36h14v5h-14zM353 36h5v5h-5zM399 36h5v5h-5zM413 36h13v5h-13zM440 36h5v5h-5zM499 36h5v5h-5zM554 36h5v5h-5zM568 36h9v5h-9zM655 36h9v5h-9zM79 41h5v4h-5zM189 41h4v4h-4zM230 41h4v4h-4zM253 41h4v4h-4zM335 41h5v4h-5zM349 41h4v4h-4zM408 41h14v4h-14zM509 41h4v4h-4zM531 41h5v4h-5zM563 41h5v4h-5zM577 41h9v4h-9zM65 45h5v5h-5zM79 45h5v5h-5zM189 45h4v5h-4zM234 45h5v5h-5zM280 45h9v5h-9zM335 45h5v5h-5zM349 45h9v5h-9zM417 45h5v5h-5zM509 45h4v5h-4zM518 45h4v5h-4zM582 45h4v5h-4zM636 45h5v5h-5zM664 45h4v5h-4zM75 50h9v5h-9zM198 50h5v5h-5zM234 50h5v5h-5zM244 50h9v5h-9zM285 50h4v5h-4zM376 50h5v5h-5zM467 50h5v5h-5zM641 50h5v5h-5zM198 55h5v4h-5zM239 55h5v4h-5zM376 55h5v4h-5zM417 55h5v4h-5zM467 55h5v4h-5zM518 55h4v4h-4zM673 55h5v4h-5zM682 55h5v4h-5zM120 59h5v5h-5zM189 59h4v5h-4zM216 59h9v5h-9zM326 59h4v5h-4zM358 59h9v5h-9zM372 59h4v5h-4zM390 59h4v5h-4zM513 59h5v5h-5zM586 59h9v5h-9zM641 59h9v5h-9zM116 64h4v4h-4zM225 64h5v4h-5zM239 64h5v4h-5zM253 64h4v4h-4zM312 64h5v4h-5zM335 64h5v4h-5zM344 64h5v4h-5zM358 64h4v4h-4zM586 64h9v4h-9zM244 68h4v5h-4zM308 68h4v5h-4zM330 68h10v5h-10zM344 68h9v5h-9zM358 68h4v5h-4zM417 68h5v5h-5zM440 68h5v5h-5zM490 68h5v5h-5zM545 68h5v5h-5zM554 68h5v5h-5zM586 68h14v5h-14zM111 73h5v4h-5zM212 73h9v4h-9zM225 73h5v4h-5zM244 73h4v4h-4zM294 73h9v4h-9zM308 73h4v4h-4zM330 73h5v4h-5zM344 73h9v4h-9zM362 73h5v4h-5zM404 73h9v4h-9zM458 73h5v4h-5zM472 73h9v4h-9zM486 73h4v4h-4zM545 73h9v4h-9zM582 73h4v4h-4zM212 77h4v5h-4zM262 77h9v5h-9zM285 77h9v5h-9zM298 77h5v5h-5zM317 77h4v5h-4zM326 77h18v5h-18zM367 77h5v5h-5zM376 77h5v5h-5zM399 77h14v5h-14zM417 77h5v5h-5zM426 77h5v5h-5zM458 77h5v5h-5zM545 77h5v5h-5zM591 77h4v5h-4zM618 77h5v5h-5zM125 82h4v4h-4zM189 82h4v4h-4zM212 82h13v4h-13zM257 82h5v4h-5zM298 82h10v4h-10zM330 82h5v4h-5zM340 82h9v4h-9zM362 82h5v4h-5zM404 82h4v4h-4zM422 82h9v4h-9zM582 82h4v4h-4zM591 82h4v4h-4zM623 82h4v4h-4zM52 86h9v5h-9zM125 86h4v5h-4zM152 86h5v5h-5zM175 86h5v5h-5zM257 86h9v5h-9zM276 86h4v5h-4zM298 86h14v5h-14zM317 86h4v5h-4zM335 86h5v5h-5zM349 86h4v5h-4zM362 86h10v5h-10zM381 86h4v5h-4zM408 86h23v5h-23zM472 86h9v5h-9zM495 86h4v5h-4zM522 86h19v5h-19zM550 86h9v5h-9zM120 91h9v5h-9zM152 91h5v5h-5zM234 91h5v5h-5zM262 91h4v5h-4zM276 91h9v5h-9zM308 91h4v5h-4zM317 91h13v5h-13zM335 91h9v5h-9zM367 91h9v5h-9zM381 91h4v5h-4zM399 91h5v5h-5zM522 91h5v5h-5zM536 91h5v5h-5zM595 91h5v5h-5zM659 91h14v5h-14zM47 96h5v4h-5zM97 96h10v4h-10zM111 96h18v4h-18zM161 96h5v4h-5zM244 96h4v4h-4zM276 96h9v4h-9zM294 96h4v4h-4zM303 96h5v4h-5zM312 96h5v4h-5zM340 96h4v4h-4zM349 96h4v4h-4zM367 96h5v4h-5zM381 96h4v4h-4zM390 96h14v4h-14zM463 96h4v4h-4zM509 96h4v4h-4zM518 96h4v4h-4zM531 96h10v4h-10zM545 96h9v4h-9zM559 96h4v4h-4zM586 96h14v4h-14zM659 96h14v4h-14zM47 100h5v5h-5zM134 100h5v5h-5zM161 100h5v5h-5zM216 100h5v5h-5zM239 100h14v5h-14zM276 100h4v5h-4zM298 100h10v5h-10zM312 100h9v5h-9zM344 100h14v5h-14zM367 100h5v5h-5zM394 100h5v5h-5zM449 100h9v5h-9zM504 100h5v5h-5zM513 100h9v5h-9zM531 100h5v5h-5zM550 100h4v5h-4zM559 100h9v5h-9zM591 100h4v5h-4zM97 105h10v4h-10zM161 105h5v4h-5zM216 105h5v4h-5zM244 105h4v4h-4zM253 105h9v4h-9zM271 105h9v4h-9zM289 105h9v4h-9zM303 105h23v4h-23zM349 105h9v4h-9zM367 105h5v4h-5zM385 105h5v4h-5zM404 105h4v4h-4zM417 105h5v4h-5zM541 105h18v4h-18zM591 105h4v4h-4zM600 105h9v4h-9zM614 105h4v4h-4zM65 109h5v5h-5zM93 109h9v5h-9zM134 109h5v5h-5zM161 109h5v5h-5zM271 109h5v5h-5zM280 109h5v5h-5zM289 109h9v5h-9zM317 109h4v5h-4zM344 109h14v5h-14zM381 109h9v5h-9zM394 109h10v5h-10zM445 109h4v5h-4zM499 109h5v5h-5zM559 109h4v5h-4zM568 109h5v5h-5zM582 109h4v5h-4zM609 109h5v5h-5zM655 109h4v5h-4zM682 109h6v5h-6zM84 114h9v4h-9zM97 114h5v4h-5zM107 114h4v4h-4zM116 114h4v4h-4zM134 114h5v4h-5zM166 114h5v4h-5zM203 114h4v4h-4zM221 114h4v4h-4zM248 114h5v4h-5zM262 114h4v4h-4zM271 114h5v4h-5zM285 114h23v4h-23zM312 114h14v4h-14zM335 114h5v4h-5zM362 114h5v4h-5zM376 114h5v4h-5zM385 114h14v4h-14zM404 114h4v4h-4zM426 114h5v4h-5zM495 114h4v4h-4zM504 114h5v4h-5zM563 114h19v4h-19zM614 114h4v4h-4zM627 114h9v4h-9zM673 114h5v4h-5zM88 118h14v5h-14zM107 118h18v5h-18zM157 118h4v5h-4zM244 118h4v5h-4zM262 118h4v5h-4zM285 118h4v5h-4zM298 118h14v5h-14zM330 118h5v5h-5zM376 118h5v5h-5zM394 118h14v5h-14zM563 118h14v5h-14zM586 118h5v5h-5zM614 118h4v5h-4zM627 118h23v5h-23zM659 118h9v5h-9zM678 118h4v5h-4zM65 123h5v5h-5zM88 123h5v5h-5zM97 123h5v5h-5zM116 123h4v5h-4zM157 123h14v5h-14zM198 123h5v5h-5zM207 123h18v5h-18zM239 123h9v5h-9zM276 123h4v5h-4zM303 123h5v5h-5zM317 123h4v5h-4zM358 123h9v5h-9zM376 123h5v5h-5zM399 123h5v5h-5zM431 123h4v5h-4zM440 123h5v5h-5zM504 123h5v5h-5zM568 123h5v5h-5zM586 123h5v5h-5zM618 123h5v5h-5zM650 123h5v5h-5zM56 128h9v4h-9zM70 128h5v4h-5zM116 128h4v4h-4zM198 128h14v4h-14zM216 128h5v4h-5zM244 128h4v4h-4zM253 128h4v4h-4zM262 128h14v4h-14zM280 128h14v4h-14zM326 128h9v4h-9zM344 128h9v4h-9zM358 128h4v4h-4zM376 128h5v4h-5zM422 128h4v4h-4zM435 128h14v4h-14zM518 128h4v4h-4zM573 128h4v4h-4zM609 128h5v4h-5zM623 128h4v4h-4zM636 128h10v4h-10zM88 132h14v5h-14zM116 132h4v5h-4zM180 132h13v5h-13zM198 132h5v5h-5zM207 132h5v5h-5zM244 132h4v5h-4zM285 132h4v5h-4zM294 132h4v5h-4zM308 132h4v5h-4zM330 132h5v5h-5zM344 132h5v5h-5zM358 132h4v5h-4zM376 132h9v5h-9zM399 132h14v5h-14zM422 132h9v5h-9zM435 132h5v5h-5zM513 132h5v5h-5zM573 132h4v5h-4zM618 132h5v5h-5zM627 132h5v5h-5zM107 137h13v4h-13zM189 137h9v4h-9zM234 137h5v4h-5zM280 137h5v4h-5zM298 137h14v4h-14zM317 137h4v4h-4zM330 137h5v4h-5zM367 137h9v4h-9zM381 137h13v4h-13zM408 137h5v4h-5zM417 137h14v4h-14zM454 137h18v4h-18zM573 137h4v4h-4zM591 137h4v4h-4zM623 137h4v4h-4zM641 137h5v4h-5zM43 141h4v5h-4zM70 141h14v5h-14zM116 141h9v5h-9zM134 141h5v5h-5zM143 141h5v5h-5zM198 141h5v5h-5zM234 141h5v5h-5zM266 141h5v5h-5zM303 141h5v5h-5zM321 141h5v5h-5zM385 141h5v5h-5zM413 141h18v5h-18zM454 141h4v5h-4zM467 141h10v5h-10zM499 141h5v5h-5zM513 141h9v5h-9zM573 141h4v5h-4zM636 141h10v5h-10zM650 141h5v5h-5zM659 141h9v5h-9zM38 146h5v4h-5zM52 146h4v4h-4zM79 146h5v4h-5zM111 146h5v4h-5zM120 146h5v4h-5zM134 146h5v4h-5zM148 146h4v4h-4zM180 146h9v4h-9zM234 146h5v4h-5zM262 146h14v4h-14zM303 146h5v4h-5zM340 146h4v4h-4zM358 146h4v4h-4zM367 146h5v4h-5zM376 146h14v4h-14zM417 146h5v4h-5zM463 146h9v4h-9zM522 146h5v4h-5zM586 146h5v4h-5zM646 146h9v4h-9zM682 146h5v4h-5zM38 150h23v5h-23zM152 150h5v5h-5zM234 150h10v5h-10zM266 150h5v5h-5zM276 150h4v5h-4zM289 150h19v5h-19zM335 150h5v5h-5zM344 150h5v5h-5zM362 150h5v5h-5zM376 150h5v5h-5zM390 150h4v5h-4zM422 150h9v5h-9zM477 150h4v5h-4zM495 150h4v5h-4zM513 150h5v5h-5zM554 150h5v5h-5zM568 150h5v5h-5zM586 150h9v5h-9zM614 150h9v5h-9zM650 150h14v5h-14zM673 150h5v5h-5zM682 150h6v5h-6zM47 155h5v5h-5zM84 155h4v5h-4zM93 155h4v5h-4zM116 155h4v5h-4zM125 155h14v5h-14zM152 155h14v5h-14zM234 155h5v5h-5zM244 155h4v5h-4zM257 155h5v5h-5zM276 155h9v5h-9zM289 155h5v5h-5zM298 155h5v5h-5zM330 155h10v5h-10zM344 155h5v5h-5zM353 155h5v5h-5zM367 155h5v5h-5zM385 155h5v5h-5zM404 155h4v5h-4zM422 155h4v5h-4zM522 155h5v5h-5zM550 155h4v5h-4zM563 155h5v5h-5zM573 155h9v5h-9zM586 155h5v5h-5zM595 155h5v5h-5zM678 155h10v5h-10zM139 160h4v4h-4zM152 160h9v4h-9zM203 160h9v4h-9zM257 160h9v4h-9zM285 160h13v4h-13zM330 160h23v4h-23zM362 160h10v4h-10zM381 160h4v4h-4zM404 160h4v4h-4zM422 160h4v4h-4zM454 160h4v4h-4zM481 160h5v4h-5zM490 160h5v4h-5zM513 160h14v4h-14zM536 160h9v4h-9zM668 160h5v4h-5zM678 160h9v4h-9zM43 164h4v5h-4zM111 164h5v5h-5zM157 164h4v5h-4zM212 164h4v5h-4zM257 164h9v5h-9zM289 164h14v5h-14zM340 164h9v5h-9zM353 164h14v5h-14zM381 164h9v5h-9zM426 164h5v5h-5zM481 164h5v5h-5zM499 164h19v5h-19zM522 164h9v5h-9zM550 164h4v5h-4zM563 164h10v5h-10zM577 164h9v5h-9zM632 164h4v5h-4zM673 164h9v5h-9zM38 169h9v4h-9zM52 169h4v4h-4zM102 169h9v4h-9zM139 169h32v4h-32zM203 169h9v4h-9zM253 169h4v4h-4zM262 169h14v4h-14zM289 169h14v4h-14zM321 169h5v4h-5zM385 169h5v4h-5zM408 169h9v4h-9zM431 169h4v4h-4zM481 169h5v4h-5zM495 169h4v4h-4zM518 169h4v4h-4zM541 169h9v4h-9zM559 169h4v4h-4zM582 169h4v4h-4zM591 169h4v4h-4zM609 169h5v4h-5zM623 169h13v4h-13zM678 169h10v4h-10zM32 173h6v5h-6zM43 173h4v5h-4zM52 173h4v5h-4zM111 173h9v5h-9zM129 173h10v5h-10zM148 173h13v5h-13zM166 173h5v5h-5zM193 173h5v5h-5zM257 173h14v5h-14zM276 173h9v5h-9zM312 173h5v5h-5zM340 173h4v5h-4zM486 173h4v5h-4zM527 173h4v5h-4zM536 173h9v5h-9zM563 173h19v5h-19zM586 173h5v5h-5zM604 173h23v5h-23zM632 173h9v5h-9zM659 173h9v5h-9zM687 173h1v5h-1zM38 178h5v4h-5zM93 178h18v4h-18zM116 178h4v4h-4zM143 178h5v4h-5zM161 178h10v4h-10zM257 178h5v4h-5zM276 178h4v4h-4zM285 178h4v4h-4zM614 178h4v4h-4zM655 178h4v4h-4zM682 178h6v4h-6zM38 182h5v5h-5zM93 182h23v5h-23zM166 182h5v5h-5zM180 182h4v5h-4zM198 182h5v5h-5zM212 182h4v5h-4zM271 182h9v5h-9zM285 182h4v5h-4zM294 182h4v5h-4zM308 182h4v5h-4zM326 182h4v5h-4zM349 182h4v5h-4zM618 182h5v5h-5zM655 182h9v5h-9zM678 182h4v5h-4zM32 187h6v5h-6zM65 187h5v5h-5zM107 187h4v5h-4zM180 187h4v5h-4zM285 187h4v5h-4zM344 187h5v5h-5zM353 187h5v5h-5zM495 187h4v5h-4zM504 187h5v5h-5zM591 187h4v5h-4zM614 187h4v5h-4zM632 187h9v5h-9zM655 187h4v5h-4zM678 187h4v5h-4zM43 192h13v4h-13zM65 192h19v4h-19zM102 192h5v4h-5zM116 192h4v4h-4zM161 192h23v4h-23zM349 192h4v4h-4zM568 192h5v4h-5zM600 192h4v4h-4zM609 192h9v4h-9zM636 192h5v4h-5zM678 192h4v4h-4zM687 192h1v4h-1zM38 196h9v5h-9zM75 196h4v5h-4zM107 196h4v5h-4zM116 196h4v5h-4zM166 196h5v5h-5zM198 196h5v5h-5zM216 196h5v5h-5zM591 196h9v5h-9zM604 196h5v5h-5zM623 196h4v5h-4zM632 196h4v5h-4zM659 196h5v5h-5zM65 201h10v4h-10zM97 201h5v4h-5zM120 201h5v4h-5zM189 201h4v4h-4zM198 201h5v4h-5zM212 201h13v4h-13zM262 201h14v4h-14zM568 201h5v4h-5zM595 201h5v4h-5zM659 201h5v4h-5zM65 205h5v5h-5zM84 205h4v5h-4zM111 205h5v5h-5zM184 205h5v5h-5zM198 205h5v5h-5zM221 205h13v5h-13zM266 205h5v5h-5zM285 205h9v5h-9zM376 205h9v5h-9zM595 205h5v5h-5zM650 205h5v5h-5zM678 205h9v5h-9zM65 210h5v4h-5zM79 210h14v4h-14zM97 210h5v4h-5zM107 210h9v4h-9zM120 210h9v4h-9zM139 210h4v4h-4zM152 210h9v4h-9zM180 210h4v4h-4zM221 210h18v4h-18zM280 210h5v4h-5zM376 210h9v4h-9zM399 210h5v4h-5zM422 210h4v4h-4zM600 210h4v4h-4zM636 210h5v4h-5zM646 210h4v4h-4zM664 210h14v4h-14zM52 214h9v5h-9zM70 214h5v5h-5zM79 214h18v5h-18zM111 214h5v5h-5zM139 214h4v5h-4zM171 214h9v5h-9zM207 214h5v5h-5zM271 214h9v5h-9zM381 214h4v5h-4zM394 214h5v5h-5zM422 214h4v5h-4zM431 214h4v5h-4zM600 214h9v5h-9zM636 214h14v5h-14zM664 214h14v5h-14zM43 219h4v5h-4zM56 219h9v5h-9zM88 219h5v5h-5zM97 219h5v5h-5zM125 219h4v5h-4zM161 219h5v5h-5zM171 219h4v5h-4zM207 219h5v5h-5zM225 219h5v5h-5zM248 219h5v5h-5zM276 219h13v5h-13zM294 219h4v5h-4zM358 219h9v5h-9zM390 219h14v5h-14zM408 219h5v5h-5zM422 219h4v5h-4zM467 219h5v5h-5zM604 219h5v5h-5zM673 219h5v5h-5zM687 219h1v5h-1zM43 224h4v4h-4zM93 224h4v4h-4zM111 224h5v4h-5zM157 224h4v4h-4zM184 224h5v4h-5zM198 224h5v4h-5zM221 224h9v4h-9zM248 224h5v4h-5zM257 224h5v4h-5zM271 224h5v4h-5zM289 224h5v4h-5zM349 224h4v4h-4zM362 224h32v4h-32zM413 224h4v4h-4zM426 224h5v4h-5zM467 224h14v4h-14zM495 224h4v4h-4zM659 224h5v4h-5zM673 224h5v4h-5zM38 228h14v5h-14zM102 228h9v5h-9zM120 228h5v5h-5zM161 228h5v5h-5zM180 228h9v5h-9zM193 228h5v5h-5zM244 228h4v5h-4zM257 228h9v5h-9zM271 228h14v5h-14zM289 228h5v5h-5zM298 228h5v5h-5zM308 228h13v5h-13zM367 228h27v5h-27zM422 228h9v5h-9zM463 228h4v5h-4zM477 228h4v5h-4zM490 228h5v5h-5zM632 228h4v5h-4zM650 228h5v5h-5zM47 233h5v4h-5zM79 233h9v4h-9zM107 233h9v4h-9zM193 233h5v4h-5zM203 233h9v4h-9zM248 233h5v4h-5zM285 233h13v4h-13zM303 233h5v4h-5zM312 233h14v4h-14zM335 233h5v4h-5zM344 233h5v4h-5zM362 233h5v4h-5zM426 233h9v4h-9zM481 233h5v4h-5zM490 233h9v4h-9zM541 233h9v4h-9zM554 233h5v4h-5zM650 233h5v4h-5zM664 233h4v4h-4zM52 237h4v5h-4zM75 237h4v5h-4zM102 237h14v5h-14zM134 237h9v5h-9zM207 237h5v5h-5zM253 237h4v5h-4zM266 237h10v5h-10zM294 237h9v5h-9zM312 237h5v5h-5zM335 237h5v5h-5zM344 237h5v5h-5zM477 237h9v5h-9zM495 237h4v5h-4zM550 237h18v5h-18zM687 237h1v5h-1zM56 242h5v4h-5zM70 242h5v4h-5zM107 242h4v4h-4zM125 242h18v4h-18zM180 242h4v4h-4zM203 242h4v4h-4zM221 242h4v4h-4zM230 242h4v4h-4zM239 242h5v4h-5zM266 242h5v4h-5zM298 242h5v4h-5zM340 242h4v4h-4zM477 242h4v4h-4zM504 242h5v4h-5zM563 242h5v4h-5zM687 242h1v4h-1zM61 246h4v5h-4zM70 246h5v5h-5zM107 246h13v5h-13zM125 246h18v5h-18zM148 246h4v5h-4zM180 246h4v5h-4zM203 246h4v5h-4zM212 246h9v5h-9zM234 246h14v5h-14zM257 246h5v5h-5zM266 246h5v5h-5zM298 246h19v5h-19zM335 246h5v5h-5zM458 246h5v5h-5zM467 246h5v5h-5zM481 246h5v5h-5zM509 246h9v5h-9zM550 246h9v5h-9zM563 246h5v5h-5zM632 246h4v5h-4zM682 246h5v5h-5zM65 251h5v4h-5zM120 251h5v4h-5zM180 251h9v4h-9zM193 251h10v4h-10zM207 251h5v4h-5zM239 251h5v4h-5zM257 251h9v4h-9zM271 251h5v4h-5zM294 251h4v4h-4zM303 251h9v4h-9zM326 251h4v4h-4zM340 251h4v4h-4zM413 251h13v4h-13zM431 251h9v4h-9zM458 251h14v4h-14zM481 251h5v4h-5zM504 251h9v4h-9zM563 251h10v4h-10zM600 251h4v4h-4zM623 251h9v4h-9zM636 251h5v4h-5zM668 251h5v4h-5zM682 251h6v4h-6zM75 255h4v5h-4zM120 255h5v5h-5zM161 255h5v5h-5zM184 255h5v5h-5zM198 255h9v5h-9zM212 255h4v5h-4zM239 255h9v5h-9zM266 255h10v5h-10zM308 255h4v5h-4zM317 255h4v5h-4zM362 255h10v5h-10zM413 255h9v5h-9zM426 255h23v5h-23zM490 255h5v5h-5zM559 255h4v5h-4zM573 255h4v5h-4zM618 255h5v5h-5zM636 255h5v5h-5zM668 255h5v5h-5zM70 260h9v5h-9zM125 260h4v5h-4zM152 260h5v5h-5zM161 260h14v5h-14zM198 260h5v5h-5zM207 260h18v5h-18zM230 260h18v5h-18zM266 260h5v5h-5zM312 260h5v5h-5zM335 260h9v5h-9zM362 260h10v5h-10zM376 260h5v5h-5zM408 260h9v5h-9zM426 260h5v5h-5zM435 260h14v5h-14zM550 260h4v5h-4zM563 260h5v5h-5zM586 260h5v5h-5zM618 260h5v5h-5zM632 260h9v5h-9zM668 260h10v5h-10zM65 265h5v4h-5zM75 265h9v4h-9zM120 265h5v4h-5zM157 265h4v4h-4zM193 265h5v4h-5zM234 265h5v4h-5zM253 265h18v4h-18zM335 265h14v4h-14zM362 265h5v4h-5zM372 265h4v4h-4zM399 265h9v4h-9zM413 265h4v4h-4zM440 265h5v4h-5zM472 265h9v4h-9zM536 265h5v4h-5zM545 265h5v4h-5zM554 265h5v4h-5zM568 265h18v4h-18zM618 265h9v4h-9zM655 265h4v4h-4zM47 269h9v5h-9zM61 269h9v5h-9zM125 269h4v5h-4zM221 269h13v5h-13zM257 269h5v5h-5zM303 269h5v5h-5zM340 269h9v5h-9zM367 269h5v5h-5zM404 269h4v5h-4zM417 269h5v5h-5zM440 269h9v5h-9zM454 269h4v5h-4zM467 269h10v5h-10zM481 269h5v5h-5zM513 269h5v5h-5zM600 269h14v5h-14zM650 269h14v5h-14zM668 269h10v5h-10zM47 274h9v4h-9zM70 274h23v4h-23zM125 274h4v4h-4zM171 274h4v4h-4zM212 274h13v4h-13zM262 274h4v4h-4zM289 274h5v4h-5zM449 274h9v4h-9zM472 274h5v4h-5zM531 274h5v4h-5zM545 274h5v4h-5zM600 274h14v4h-14zM627 274h5v4h-5zM655 274h4v4h-4zM56 278h5v5h-5zM75 278h9v5h-9zM88 278h5v5h-5zM97 278h5v5h-5zM111 278h5v5h-5zM120 278h5v5h-5zM157 278h9v5h-9zM221 278h4v5h-4zM230 278h9v5h-9zM253 278h4v5h-4zM276 278h4v5h-4zM285 278h4v5h-4zM303 278h5v5h-5zM317 278h4v5h-4zM326 278h14v5h-14zM362 278h5v5h-5zM467 278h5v5h-5zM495 278h4v5h-4zM600 278h4v5h-4zM609 278h9v5h-9zM623 278h4v5h-4zM79 283h9v4h-9zM93 283h9v4h-9zM107 283h4v4h-4zM116 283h4v4h-4zM157 283h4v4h-4zM221 283h4v4h-4zM239 283h9v4h-9zM253 283h4v4h-4zM303 283h9v4h-9zM362 283h14v4h-14zM495 283h9v4h-9zM541 283h4v4h-4zM600 283h4v4h-4zM687 283h1v4h-1zM70 287h14v5h-14zM97 287h5v5h-5zM116 287h4v5h-4zM134 287h27v5h-27zM184 287h5v5h-5zM193 287h5v5h-5zM212 287h9v5h-9zM230 287h23v5h-23zM271 287h9v5h-9zM349 287h4v5h-4zM381 287h4v5h-4zM390 287h4v5h-4zM467 287h19v5h-19zM490 287h9v5h-9zM504 287h5v5h-5zM541 287h4v5h-4zM609 287h5v5h-5zM632 287h4v5h-4zM678 287h4v5h-4zM93 292h4v5h-4zM116 292h4v5h-4zM125 292h18v5h-18zM193 292h10v5h-10zM212 292h4v5h-4zM230 292h4v5h-4zM271 292h9v5h-9zM358 292h4v5h-4zM372 292h4v5h-4zM381 292h13v5h-13zM417 292h5v5h-5zM431 292h9v5h-9zM454 292h4v5h-4zM499 292h10v5h-10zM541 292h4v5h-4zM568 292h5v5h-5zM614 292h4v5h-4zM627 292h9v5h-9zM673 292h5v5h-5zM52 297h4v4h-4zM79 297h9v4h-9zM116 297h4v4h-4zM157 297h4v4h-4zM203 297h18v4h-18zM234 297h5v4h-5zM244 297h4v4h-4zM280 297h5v4h-5zM289 297h9v4h-9zM321 297h23v4h-23zM358 297h4v4h-4zM372 297h9v4h-9zM385 297h5v4h-5zM417 297h5v4h-5zM435 297h5v4h-5zM563 297h10v4h-10zM614 297h4v4h-4zM627 297h9v4h-9zM641 297h5v4h-5zM673 297h9v4h-9zM75 301h4v5h-4zM88 301h5v5h-5zM111 301h5v5h-5zM120 301h5v5h-5zM129 301h5v5h-5zM152 301h9v5h-9zM189 301h4v5h-4zM203 301h13v5h-13zM225 301h5v5h-5zM280 301h5v5h-5zM289 301h9v5h-9zM326 301h4v5h-4zM349 301h4v5h-4zM367 301h5v5h-5zM376 301h5v5h-5zM390 301h4v5h-4zM404 301h4v5h-4zM422 301h18v5h-18zM522 301h5v5h-5zM545 301h5v5h-5zM559 301h18v5h-18zM582 301h4v5h-4zM604 301h10v5h-10zM623 301h4v5h-4zM632 301h4v5h-4zM673 301h5v5h-5zM32 306h6v4h-6zM79 306h9v4h-9zM97 306h5v4h-5zM107 306h9v4h-9zM152 306h5v4h-5zM216 306h5v4h-5zM225 306h5v4h-5zM234 306h5v4h-5zM276 306h4v4h-4zM285 306h4v4h-4zM294 306h4v4h-4zM312 306h5v4h-5zM321 306h5v4h-5zM330 306h5v4h-5zM353 306h9v4h-9zM376 306h9v4h-9zM422 306h9v4h-9zM435 306h5v4h-5zM463 306h4v4h-4zM490 306h5v4h-5zM513 306h14v4h-14zM554 306h9v4h-9zM573 306h4v4h-4zM582 306h9v4h-9zM604 306h19v4h-19zM636 306h5v4h-5zM668 306h5v4h-5zM88 310h23v5h-23zM134 310h23v5h-23zM180 310h9v5h-9zM203 310h4v5h-4zM216 310h5v5h-5zM289 310h5v5h-5zM330 310h5v5h-5zM417 310h9v5h-9zM490 310h5v5h-5zM513 310h14v5h-14zM531 310h5v5h-5zM550 310h9v5h-9zM563 310h23v5h-23zM604 310h10v5h-10zM632 310h4v5h-4zM43 315h4v4h-4zM61 315h14v4h-14zM93 315h18v4h-18zM175 315h5v4h-5zM207 315h5v4h-5zM216 315h5v4h-5zM294 315h4v4h-4zM321 315h5v4h-5zM358 315h4v4h-4zM513 315h9v4h-9zM536 315h5v4h-5zM554 315h5v4h-5zM568 315h5v4h-5zM609 315h5v4h-5zM56 319h5v5h-5zM97 319h19v5h-19zM148 319h9v5h-9zM166 319h5v5h-5zM189 319h14v5h-14zM207 319h14v5h-14zM326 319h4v5h-4zM353 319h5v5h-5zM362 319h5v5h-5zM458 319h5v5h-5zM554 319h5v5h-5zM65 324h5v5h-5zM102 324h5v5h-5zM180 324h23v5h-23zM207 324h5v5h-5zM344 324h9v5h-9zM385 324h9v5h-9zM422 324h4v5h-4zM449 324h5v5h-5zM463 324h4v5h-4zM518 324h4v5h-4zM536 324h5v5h-5zM545 324h5v5h-5zM659 324h5v5h-5zM38 329h5v4h-5zM102 329h5v4h-5zM111 329h5v4h-5zM120 329h5v4h-5zM171 329h4v4h-4zM189 329h4v4h-4zM244 329h9v4h-9zM294 329h4v4h-4zM326 329h23v4h-23zM358 329h4v4h-4zM385 329h5v4h-5zM404 329h4v4h-4zM417 329h5v4h-5zM463 329h4v4h-4zM518 329h4v4h-4zM527 329h9v4h-9zM586 329h5v4h-5zM627 329h5v4h-5zM641 329h9v4h-9zM678 329h4v4h-4zM43 333h13v5h-13zM61 333h9v5h-9zM88 333h5v5h-5zM111 333h14v5h-14zM171 333h13v5h-13zM189 333h4v5h-4zM225 333h5v5h-5zM239 333h5v5h-5zM257 333h9v5h-9zM276 333h4v5h-4zM294 333h9v5h-9zM321 333h5v5h-5zM335 333h5v5h-5zM390 333h4v5h-4zM454 333h4v5h-4zM463 333h4v5h-4zM481 333h9v5h-9zM518 333h9v5h-9zM550 333h4v5h-4zM577 333h5v5h-5zM586 333h5v5h-5zM614 333h9v5h-9zM627 333h9v5h-9zM641 333h9v5h-9zM664 333h4v5h-4zM38 338h18v4h-18zM65 338h5v4h-5zM79 338h9v4h-9zM111 338h14v4h-14zM129 338h10v4h-10zM171 338h4v4h-4zM184 338h14v4h-14zM225 338h14v4h-14zM253 338h4v4h-4zM266 338h10v4h-10zM294 338h14v4h-14zM321 338h5v4h-5zM381 338h4v4h-4zM394 338h5v4h-5zM463 338h4v4h-4zM477 338h4v4h-4zM486 338h13v4h-13zM518 338h4v4h-4zM554 338h5v4h-5zM563 338h10v4h-10zM577 338h9v4h-9zM591 338h9v4h-9zM618 338h9v4h-9zM641 338h9v4h-9zM655 338h4v4h-4zM52 342h4v5h-4zM65 342h5v5h-5zM75 342h4v5h-4zM84 342h4v5h-4zM111 342h14v5h-14zM161 342h5v5h-5zM171 342h4v5h-4zM184 342h5v5h-5zM198 342h5v5h-5zM225 342h9v5h-9zM248 342h9v5h-9zM262 342h4v5h-4zM276 342h9v5h-9zM289 342h14v5h-14zM317 342h4v5h-4zM372 342h4v5h-4zM394 342h5v5h-5zM426 342h5v5h-5zM472 342h9v5h-9zM490 342h5v5h-5zM522 342h5v5h-5zM531 342h5v5h-5zM541 342h22v5h-22zM573 342h4v5h-4zM623 342h4v5h-4zM641 342h9v5h-9zM655 342h13v5h-13zM682 342h5v5h-5zM43 347h4v4h-4zM65 347h5v4h-5zM171 347h4v4h-4zM207 347h9v4h-9zM221 347h4v4h-4zM234 347h19v4h-19zM266 347h10v4h-10zM321 347h9v4h-9zM358 347h4v4h-4zM372 347h9v4h-9zM390 347h9v4h-9zM454 347h4v4h-4zM463 347h9v4h-9zM481 347h5v4h-5zM490 347h5v4h-5zM518 347h4v4h-4zM527 347h4v4h-4zM559 347h4v4h-4zM573 347h4v4h-4zM632 347h4v4h-4zM641 347h18v4h-18zM668 347h14v4h-14zM43 351h9v5h-9zM61 351h4v5h-4zM166 351h18v5h-18zM212 351h9v5h-9zM230 351h4v5h-4zM276 351h9v5h-9zM317 351h13v5h-13zM367 351h5v5h-5zM381 351h9v5h-9zM449 351h5v5h-5zM486 351h9v5h-9zM518 351h9v5h-9zM541 351h4v5h-4zM554 351h5v5h-5zM563 351h5v5h-5zM577 351h5v5h-5zM600 351h4v5h-4zM641 351h9v5h-9zM678 351h4v5h-4zM32 356h6v5h-6zM47 356h9v5h-9zM61 356h4v5h-4zM107 356h4v5h-4zM166 356h14v5h-14zM198 356h5v5h-5zM207 356h14v5h-14zM266 356h5v5h-5zM280 356h5v5h-5zM317 356h4v5h-4zM326 356h4v5h-4zM358 356h4v5h-4zM367 356h5v5h-5zM385 356h5v5h-5zM404 356h4v5h-4zM445 356h4v5h-4zM463 356h4v5h-4zM490 356h9v5h-9zM518 356h9v5h-9zM541 356h4v5h-4zM554 356h5v5h-5zM568 356h5v5h-5zM646 356h4v5h-4zM668 356h5v5h-5zM678 356h4v5h-4zM32 361h11v4h-11zM47 361h9v4h-9zM65 361h5v4h-5zM97 361h5v4h-5zM107 361h4v4h-4zM171 361h4v4h-4zM180 361h4v4h-4zM189 361h4v4h-4zM207 361h5v4h-5zM234 361h10v4h-10zM321 361h5v4h-5zM372 361h4v4h-4zM445 361h4v4h-4zM463 361h9v4h-9zM477 361h9v4h-9zM504 361h9v4h-9zM527 361h4v4h-4zM545 361h5v4h-5zM559 361h4v4h-4zM609 361h5v4h-5zM650 361h18v4h-18zM673 361h5v4h-5zM682 361h5v4h-5zM43 365h4v5h-4zM52 365h4v5h-4zM93 365h18v5h-18zM116 365h4v5h-4zM184 365h14v5h-14zM203 365h4v5h-4zM225 365h5v5h-5zM239 365h5v5h-5zM271 365h5v5h-5zM289 365h9v5h-9zM367 365h9v5h-9zM422 365h4v5h-4zM445 365h4v5h-4zM472 365h5v5h-5zM486 365h4v5h-4zM499 365h5v5h-5zM527 365h4v5h-4zM559 365h4v5h-4zM573 365h4v5h-4zM582 365h4v5h-4zM591 365h9v5h-9zM609 365h5v5h-5zM623 365h4v5h-4zM650 365h18v5h-18zM43 370h4v4h-4zM65 370h5v4h-5zM79 370h5v4h-5zM93 370h4v4h-4zM120 370h5v4h-5zM184 370h5v4h-5zM198 370h5v4h-5zM234 370h14v4h-14zM253 370h4v4h-4zM289 370h5v4h-5zM298 370h5v4h-5zM330 370h10v4h-10zM362 370h10v4h-10zM422 370h9v4h-9zM445 370h4v4h-4zM472 370h5v4h-5zM495 370h4v4h-4zM504 370h5v4h-5zM550 370h4v4h-4zM563 370h19v4h-19zM595 370h9v4h-9zM614 370h4v4h-4zM623 370h4v4h-4zM650 370h5v4h-5zM687 370h1v4h-1zM38 374h5v5h-5zM47 374h5v5h-5zM61 374h4v5h-4zM84 374h9v5h-9zM107 374h4v5h-4zM161 374h5v5h-5zM171 374h4v5h-4zM180 374h4v5h-4zM189 374h4v5h-4zM203 374h4v5h-4zM234 374h5v5h-5zM262 374h9v5h-9zM358 374h14v5h-14zM376 374h18v5h-18zM422 374h4v5h-4zM445 374h4v5h-4zM454 374h9v5h-9zM490 374h5v5h-5zM504 374h5v5h-5zM614 374h4v5h-4zM632 374h9v5h-9zM646 374h4v5h-4zM38 379h5v4h-5zM88 379h9v4h-9zM134 379h5v4h-5zM143 379h5v4h-5zM152 379h5v4h-5zM161 379h10v4h-10zM230 379h4v4h-4zM257 379h5v4h-5zM321 379h23v4h-23zM353 379h5v4h-5zM362 379h5v4h-5zM376 379h18v4h-18zM417 379h5v4h-5zM435 379h5v4h-5zM445 379h9v4h-9zM486 379h9v4h-9zM563 379h5v4h-5zM591 379h9v4h-9zM604 379h14v4h-14zM627 379h5v4h-5zM636 379h10v4h-10zM650 379h5v4h-5zM687 379h1v4h-1zM43 383h18v5h-18zM79 383h18v5h-18zM152 383h5v5h-5zM335 383h9v5h-9zM349 383h9v5h-9zM381 383h4v5h-4zM440 383h5v5h-5zM449 383h5v5h-5zM463 383h9v5h-9zM477 383h9v5h-9zM499 383h5v5h-5zM522 383h5v5h-5zM541 383h4v5h-4zM563 383h5v5h-5zM591 383h13v5h-13zM641 383h5v5h-5zM655 383h4v5h-4zM43 388h4v5h-4zM56 388h5v5h-5zM79 388h9v5h-9zM102 388h5v5h-5zM225 388h5v5h-5zM248 388h9v5h-9zM285 388h4v5h-4zM335 388h9v5h-9zM349 388h4v5h-4zM385 388h5v5h-5zM435 388h10v5h-10zM449 388h5v5h-5zM458 388h5v5h-5zM536 388h5v5h-5zM545 388h5v5h-5zM559 388h4v5h-4zM595 388h5v5h-5zM604 388h5v5h-5zM636 388h5v5h-5zM650 388h18v5h-18zM32 393h15v4h-15zM61 393h4v4h-4zM70 393h9v4h-9zM84 393h4v4h-4zM102 393h9v4h-9zM166 393h5v4h-5zM230 393h4v4h-4zM239 393h5v4h-5zM248 393h5v4h-5zM303 393h5v4h-5zM335 393h9v4h-9zM353 393h5v4h-5zM385 393h5v4h-5zM394 393h5v4h-5zM426 393h37v4h-37zM504 393h5v4h-5zM513 393h5v4h-5zM541 393h13v4h-13zM600 393h4v4h-4zM609 393h5v4h-5zM650 393h5v4h-5zM664 393h4v4h-4zM56 397h5v5h-5zM70 397h5v5h-5zM93 397h4v5h-4zM102 397h5v5h-5zM111 397h5v5h-5zM166 397h9v5h-9zM244 397h9v5h-9zM257 397h5v5h-5zM266 397h14v5h-14zM312 397h5v5h-5zM344 397h9v5h-9zM435 397h23v5h-23zM467 397h5v5h-5zM509 397h4v5h-4zM527 397h23v5h-23zM43 402h4v4h-4zM70 402h5v4h-5zM88 402h28v4h-28zM157 402h4v4h-4zM171 402h9v4h-9zM221 402h23v4h-23zM276 402h4v4h-4zM308 402h4v4h-4zM435 402h23v4h-23zM463 402h9v4h-9zM499 402h5v4h-5zM531 402h5v4h-5zM541 402h13v4h-13zM650 402h9v4h-9zM668 402h5v4h-5zM43 406h4v5h-4zM52 406h4v5h-4zM75 406h4v5h-4zM93 406h4v5h-4zM111 406h5v5h-5zM152 406h5v5h-5zM175 406h9v5h-9zM221 406h18v5h-18zM257 406h5v5h-5zM276 406h4v5h-4zM330 406h5v5h-5zM385 406h5v5h-5zM422 406h4v5h-4zM445 406h22v5h-22zM472 406h5v5h-5zM499 406h19v5h-19zM527 406h9v5h-9zM550 406h4v5h-4zM604 406h5v5h-5zM636 406h5v5h-5zM650 406h14v5h-14zM673 406h9v5h-9zM43 411h4v4h-4zM56 411h5v4h-5zM70 411h9v4h-9zM93 411h4v4h-4zM116 411h4v4h-4zM134 411h5v4h-5zM216 411h9v4h-9zM248 411h5v4h-5zM276 411h4v4h-4zM312 411h5v4h-5zM344 411h18v4h-18zM390 411h9v4h-9zM413 411h9v4h-9zM426 411h9v4h-9zM440 411h9v4h-9zM458 411h5v4h-5zM467 411h5v4h-5zM499 411h10v4h-10zM513 411h18v4h-18zM536 411h5v4h-5zM550 411h9v4h-9zM582 411h4v4h-4zM604 411h5v4h-5zM636 411h5v4h-5zM664 411h23v4h-23zM32 415h15v5h-15zM61 415h4v5h-4zM97 415h10v5h-10zM111 415h5v5h-5zM120 415h5v5h-5zM129 415h14v5h-14zM166 415h14v5h-14zM189 415h9v5h-9zM207 415h5v5h-5zM230 415h4v5h-4zM239 415h9v5h-9zM285 415h4v5h-4zM294 415h4v5h-4zM317 415h4v5h-4zM326 415h4v5h-4zM381 415h4v5h-4zM390 415h4v5h-4zM399 415h5v5h-5zM417 415h5v5h-5zM467 415h5v5h-5zM504 415h5v5h-5zM536 415h5v5h-5zM550 415h4v5h-4zM582 415h4v5h-4zM600 415h4v5h-4zM632 415h14v5h-14zM650 415h9v5h-9zM664 415h4v5h-4zM678 415h9v5h-9zM43 420h4v5h-4zM61 420h4v5h-4zM97 420h19v5h-19zM120 420h19v5h-19zM161 420h5v5h-5zM175 420h5v5h-5zM189 420h4v5h-4zM207 420h5v5h-5zM234 420h14v5h-14zM266 420h5v5h-5zM289 420h5v5h-5zM303 420h5v5h-5zM317 420h13v5h-13zM353 420h5v5h-5zM372 420h4v5h-4zM404 420h4v5h-4zM413 420h4v5h-4zM431 420h9v5h-9zM454 420h4v5h-4zM463 420h9v5h-9zM481 420h9v5h-9zM495 420h4v5h-4zM522 420h5v5h-5zM541 420h13v5h-13zM577 420h5v5h-5zM614 420h4v5h-4zM632 420h9v5h-9zM668 420h5v5h-5zM678 420h10v5h-10zM43 425h9v4h-9zM102 425h32v4h-32zM171 425h9v4h-9zM193 425h23v4h-23zM234 425h5v4h-5zM244 425h4v4h-4zM262 425h4v4h-4zM294 425h4v4h-4zM303 425h9v4h-9zM317 425h9v4h-9zM330 425h10v4h-10zM349 425h4v4h-4zM399 425h18v4h-18zM431 425h9v4h-9zM463 425h9v4h-9zM486 425h4v4h-4zM495 425h4v4h-4zM518 425h9v4h-9zM541 425h9v4h-9zM582 425h4v4h-4zM609 425h5v4h-5zM636 425h10v4h-10zM650 425h5v4h-5zM659 425h5v4h-5zM673 425h5v4h-5zM682 425h6v4h-6zM32 429h15v5h-15zM56 429h5v5h-5zM102 429h9v5h-9zM120 429h9v5h-9zM157 429h4v5h-4zM184 429h9v5h-9zM230 429h18v5h-18zM294 429h14v5h-14zM317 429h4v5h-4zM344 429h9v5h-9zM358 429h4v5h-4zM399 429h5v5h-5zM408 429h5v5h-5zM417 429h5v5h-5zM435 429h5v5h-5zM445 429h4v5h-4zM467 429h10v5h-10zM513 429h9v5h-9zM541 429h4v5h-4zM609 429h5v5h-5zM646 429h4v5h-4zM659 429h14v5h-14zM678 429h9v5h-9zM32 434h11v4h-11zM56 434h5v4h-5zM65 434h5v4h-5zM97 434h28v4h-28zM157 434h4v4h-4zM166 434h5v4h-5zM234 434h5v4h-5zM244 434h4v4h-4zM262 434h4v4h-4zM289 434h5v4h-5zM335 434h5v4h-5zM372 434h4v4h-4zM399 434h5v4h-5zM408 434h5v4h-5zM445 434h9v4h-9zM458 434h5v4h-5zM472 434h23v4h-23zM513 434h9v4h-9zM577 434h5v4h-5zM595 434h9v4h-9zM641 434h9v4h-9zM655 434h4v4h-4zM52 438h4v5h-4zM65 438h5v5h-5zM102 438h5v5h-5zM125 438h9v5h-9zM148 438h9v5h-9zM161 438h32v5h-32zM203 438h4v5h-4zM230 438h4v5h-4zM248 438h5v5h-5zM262 438h9v5h-9zM317 438h4v5h-4zM376 438h5v5h-5zM394 438h19v5h-19zM477 438h9v5h-9zM563 438h5v5h-5zM591 438h4v5h-4zM646 438h4v5h-4zM655 438h9v5h-9zM32 443h6v4h-6zM47 443h5v4h-5zM61 443h4v4h-4zM97 443h5v4h-5zM107 443h4v4h-4zM116 443h4v4h-4zM152 443h5v4h-5zM166 443h5v4h-5zM175 443h5v4h-5zM225 443h14v4h-14zM271 443h9v4h-9zM317 443h9v4h-9zM340 443h4v4h-4zM353 443h9v4h-9zM385 443h5v4h-5zM399 443h9v4h-9zM435 443h5v4h-5zM481 443h5v4h-5zM499 443h23v4h-23zM591 443h4v4h-4zM609 443h5v4h-5zM627 443h5v4h-5zM646 443h4v4h-4zM38 447h14v5h-14zM75 447h4v5h-4zM84 447h4v5h-4zM116 447h4v5h-4zM129 447h10v5h-10zM152 447h5v5h-5zM166 447h9v5h-9zM203 447h4v5h-4zM221 447h13v5h-13zM312 447h5v5h-5zM326 447h9v5h-9zM353 447h9v5h-9zM390 447h14v5h-14zM408 447h5v5h-5zM426 447h5v5h-5zM440 447h5v5h-5zM463 447h4v5h-4zM481 447h5v5h-5zM499 447h10v5h-10zM568 447h5v5h-5zM591 447h18v5h-18zM614 447h9v5h-9zM655 447h9v5h-9zM678 447h4v5h-4zM43 452h4v4h-4zM125 452h4v4h-4zM143 452h5v4h-5zM152 452h23v4h-23zM203 452h4v4h-4zM212 452h9v4h-9zM225 452h9v4h-9zM280 452h5v4h-5zM312 452h5v4h-5zM321 452h19v4h-19zM394 452h5v4h-5zM404 452h9v4h-9zM426 452h9v4h-9zM467 452h10v4h-10zM481 452h9v4h-9zM518 452h4v4h-4zM527 452h9v4h-9zM541 452h9v4h-9zM554 452h5v4h-5zM563 452h5v4h-5zM573 452h4v4h-4zM586 452h5v4h-5zM595 452h9v4h-9zM623 452h4v4h-4zM632 452h4v4h-4zM655 452h23v4h-23zM38 456h9v5h-9zM70 456h5v5h-5zM88 456h5v5h-5zM97 456h5v5h-5zM143 456h9v5h-9zM157 456h18v5h-18zM184 456h5v5h-5zM203 456h4v5h-4zM276 456h4v5h-4zM312 456h5v5h-5zM321 456h5v5h-5zM335 456h5v5h-5zM385 456h5v5h-5zM399 456h5v5h-5zM413 456h9v5h-9zM426 456h5v5h-5zM435 456h5v5h-5zM449 456h14v5h-14zM467 456h5v5h-5zM477 456h4v5h-4zM513 456h5v5h-5zM531 456h10v5h-10zM563 456h14v5h-14zM582 456h4v5h-4zM591 456h4v5h-4zM600 456h4v5h-4zM623 456h18v5h-18zM668 456h5v5h-5zM43 461h4v5h-4zM65 461h23v5h-23zM102 461h5v5h-5zM161 461h5v5h-5zM175 461h14v5h-14zM198 461h5v5h-5zM230 461h14v5h-14zM312 461h5v5h-5zM326 461h27v5h-27zM381 461h4v5h-4zM399 461h5v5h-5zM408 461h5v5h-5zM440 461h9v5h-9zM454 461h4v5h-4zM463 461h4v5h-4zM472 461h5v5h-5zM509 461h27v5h-27zM586 461h18v5h-18zM618 461h9v5h-9zM641 461h5v5h-5zM664 461h4v5h-4zM47 466h5v4h-5zM65 466h19v4h-19zM102 466h5v4h-5zM125 466h14v4h-14zM193 466h10v4h-10zM230 466h4v4h-4zM244 466h9v4h-9zM257 466h5v4h-5zM280 466h5v4h-5zM312 466h5v4h-5zM340 466h13v4h-13zM372 466h4v4h-4zM385 466h5v4h-5zM404 466h4v4h-4zM431 466h4v4h-4zM467 466h5v4h-5zM504 466h5v4h-5zM586 466h5v4h-5zM614 466h9v4h-9zM632 466h4v4h-4zM655 466h9v4h-9zM38 470h5v5h-5zM56 470h9v5h-9zM75 470h13v5h-13zM129 470h5v5h-5zM161 470h5v5h-5zM184 470h5v5h-5zM193 470h5v5h-5zM225 470h5v5h-5zM248 470h9v5h-9zM308 470h4v5h-4zM335 470h5v5h-5zM344 470h9v5h-9zM372 470h4v5h-4zM381 470h13v5h-13zM449 470h5v5h-5zM467 470h10v5h-10zM559 470h9v5h-9zM577 470h5v5h-5zM614 470h9v5h-9zM627 470h9v5h-9zM646 470h13v5h-13zM664 470h4v5h-4zM678 470h4v5h-4zM687 470h1v5h-1zM70 475h9v4h-9zM97 475h5v4h-5zM166 475h5v4h-5zM225 475h5v4h-5zM248 475h14v4h-14zM276 475h36v4h-36zM330 475h5v4h-5zM349 475h4v4h-4zM381 475h4v4h-4zM422 475h4v4h-4zM472 475h14v4h-14zM527 475h9v4h-9zM559 475h9v4h-9zM586 475h5v4h-5zM609 475h5v4h-5zM623 475h4v4h-4zM632 475h9v4h-9zM650 475h5v4h-5zM659 475h9v4h-9zM673 475h5v4h-5zM88 479h14v3h-14zM107 479h4v3h-4zM166 479h5v3h-5zM216 479h5v3h-5zM225 479h5v3h-5zM257 479h5v3h-5zM266 479h5v3h-5zM285 479h4v3h-4zM294 479h4v3h-4zM326 479h14v3h-14zM381 479h9v3h-9zM413 479h13v3h-13zM467 479h5v3h-5zM481 479h5v3h-5zM527 479h9v3h-9zM559 479h4v3h-4zM582 479h9v3h-9zM595 479h5v3h-5zM618 479h9v3h-9zM664 479h14v3h-14z"/><path fill="#fff3ae" d="M65 26h10v1h-10zM93 26h9v1h-9zM111 26h5v1h-5zM134 26h5v1h-5zM148 26h4v1h-4zM189 26h4v1h-4zM203 26h13v1h-13zM234 26h5v1h-5zM244 26h4v1h-4zM321 26h5v1h-5zM335 26h9v1h-9zM367 26h5v1h-5zM385 26h14v1h-14zM417 26h5v1h-5zM504 26h5v1h-5zM586 26h5v1h-5zM632 26h4v1h-4zM664 26h4v1h-4zM678 26h4v1h-4zM70 27h5v5h-5zM93 27h9v5h-9zM107 27h4v5h-4zM143 27h9v5h-9zM184 27h9v5h-9zM239 27h5v5h-5zM253 27h4v5h-4zM294 27h4v5h-4zM303 27h5v5h-5zM312 27h5v5h-5zM344 27h5v5h-5zM385 27h9v5h-9zM408 27h5v5h-5zM426 27h5v5h-5zM454 27h4v5h-4zM477 27h4v5h-4zM495 27h18v5h-18zM573 27h4v5h-4zM614 27h4v5h-4zM650 27h5v5h-5zM664 27h4v5h-4zM682 27h5v5h-5zM43 32h4v4h-4zM52 32h4v4h-4zM75 32h4v4h-4zM84 32h18v4h-18zM184 32h5v4h-5zM230 32h9v4h-9zM280 32h5v4h-5zM358 32h4v4h-4zM413 32h4v4h-4zM422 32h9v4h-9zM435 32h5v4h-5zM454 32h9v4h-9zM472 32h5v4h-5zM481 32h5v4h-5zM499 32h10v4h-10zM554 32h5v4h-5zM591 32h4v4h-4zM614 32h9v4h-9zM627 32h5v4h-5zM668 32h5v4h-5zM678 32h10v4h-10zM65 36h5v5h-5zM125 36h14v5h-14zM148 36h4v5h-4zM189 36h9v5h-9zM230 36h4v5h-4zM358 36h4v5h-4zM390 36h9v5h-9zM408 36h5v5h-5zM426 36h5v5h-5zM435 36h5v5h-5zM445 36h13v5h-13zM481 36h5v5h-5zM504 36h5v5h-5zM522 36h5v5h-5zM531 36h5v5h-5zM550 36h4v5h-4zM586 36h5v5h-5zM636 36h5v5h-5zM650 36h5v5h-5zM664 36h18v5h-18zM65 41h5v4h-5zM84 41h4v4h-4zM280 41h5v4h-5zM303 41h14v4h-14zM340 41h4v4h-4zM358 41h4v4h-4zM399 41h9v4h-9zM422 41h4v4h-4zM504 41h5v4h-5zM513 41h5v4h-5zM522 41h9v4h-9zM550 41h13v4h-13zM586 41h5v4h-5zM636 41h5v4h-5zM655 41h13v4h-13zM678 41h4v4h-4zM84 45h4v5h-4zM184 45h5v5h-5zM193 45h10v5h-10zM253 45h9v5h-9zM276 45h4v5h-4zM289 45h5v5h-5zM303 45h9v5h-9zM330 45h5v5h-5zM344 45h5v5h-5zM413 45h4v5h-4zM422 45h4v5h-4zM463 45h4v5h-4zM522 45h9v5h-9zM563 45h5v5h-5zM586 45h9v5h-9zM614 45h4v5h-4zM641 45h5v5h-5zM65 50h5v5h-5zM93 50h4v5h-4zM184 50h5v5h-5zM253 50h9v5h-9zM280 50h5v5h-5zM289 50h9v5h-9zM303 50h9v5h-9zM335 50h5v5h-5zM349 50h4v5h-4zM372 50h4v5h-4zM413 50h13v5h-13zM577 50h14v5h-14zM664 50h4v5h-4zM678 50h4v5h-4zM88 55h9v4h-9zM116 55h9v4h-9zM184 55h5v4h-5zM234 55h5v4h-5zM244 55h4v4h-4zM303 55h5v4h-5zM349 55h4v4h-4zM381 55h4v4h-4zM413 55h4v4h-4zM422 55h4v4h-4zM463 55h4v4h-4zM582 55h9v4h-9zM641 55h9v4h-9zM88 59h9v5h-9zM125 59h4v5h-4zM193 59h5v5h-5zM225 59h5v5h-5zM234 59h19v5h-19zM317 59h9v5h-9zM330 59h10v5h-10zM367 59h5v5h-5zM376 59h5v5h-5zM385 59h5v5h-5zM394 59h5v5h-5zM417 59h9v5h-9zM509 59h4v5h-4zM518 59h4v5h-4zM577 59h9v5h-9zM623 59h4v5h-4zM636 59h5v5h-5zM650 59h5v5h-5zM687 59h1v5h-1zM61 64h4v4h-4zM75 64h4v4h-4zM111 64h5v4h-5zM120 64h5v4h-5zM207 64h5v4h-5zM234 64h5v4h-5zM244 64h9v4h-9zM340 64h4v4h-4zM349 64h9v4h-9zM367 64h5v4h-5zM417 64h9v4h-9zM513 64h5v4h-5zM545 64h9v4h-9zM559 64h4v4h-4zM582 64h4v4h-4zM595 64h5v4h-5zM618 64h9v4h-9zM641 64h5v4h-5zM93 68h9v5h-9zM111 68h5v5h-5zM207 68h5v5h-5zM225 68h5v5h-5zM239 68h5v5h-5zM248 68h9v5h-9zM303 68h5v5h-5zM312 68h5v5h-5zM340 68h4v5h-4zM353 68h5v5h-5zM362 68h5v5h-5zM399 68h5v5h-5zM413 68h4v5h-4zM422 68h9v5h-9zM435 68h5v5h-5zM495 68h4v5h-4zM550 68h4v5h-4zM559 68h4v5h-4zM573 68h4v5h-4zM582 68h4v5h-4zM641 68h14v5h-14zM673 68h5v5h-5zM47 73h9v4h-9zM79 73h9v4h-9zM93 73h4v4h-4zM102 73h5v4h-5zM116 73h4v4h-4zM152 73h5v4h-5zM207 73h5v4h-5zM239 73h5v4h-5zM257 73h9v4h-9zM312 73h9v4h-9zM335 73h9v4h-9zM367 73h5v4h-5zM390 73h4v4h-4zM413 73h22v4h-22zM463 73h9v4h-9zM495 73h4v4h-4zM559 73h4v4h-4zM595 73h5v4h-5zM604 73h5v4h-5zM618 73h9v4h-9zM673 73h5v4h-5zM38 77h23v5h-23zM120 77h5v5h-5zM203 77h9v5h-9zM239 77h9v5h-9zM257 77h5v5h-5zM276 77h4v5h-4zM303 77h5v5h-5zM321 77h5v5h-5zM362 77h5v5h-5zM381 77h4v5h-4zM413 77h4v5h-4zM422 77h4v5h-4zM431 77h9v5h-9zM495 77h4v5h-4zM559 77h4v5h-4zM627 77h5v5h-5zM673 77h9v5h-9zM687 77h1v5h-1zM38 82h14v4h-14zM56 82h5v4h-5zM97 82h5v4h-5zM152 82h5v4h-5zM180 82h4v4h-4zM193 82h14v4h-14zM225 82h5v4h-5zM308 82h4v4h-4zM317 82h4v4h-4zM335 82h5v4h-5zM358 82h4v4h-4zM381 82h4v4h-4zM431 82h14v4h-14zM458 82h5v4h-5zM527 82h9v4h-9zM541 82h9v4h-9zM559 82h4v4h-4zM618 82h5v4h-5zM687 82h1v4h-1zM47 86h5v5h-5zM97 86h5v5h-5zM157 86h4v5h-4zM166 86h5v5h-5zM193 86h5v5h-5zM212 86h13v5h-13zM239 86h5v5h-5zM321 86h5v5h-5zM353 86h5v5h-5zM399 86h9v5h-9zM431 86h9v5h-9zM458 86h5v5h-5zM481 86h9v5h-9zM541 86h9v5h-9zM586 86h9v5h-9zM623 86h9v5h-9zM664 86h4v5h-4zM687 86h1v5h-1zM43 91h18v5h-18zM97 91h5v5h-5zM166 91h5v5h-5zM212 91h9v5h-9zM239 91h5v5h-5zM330 91h5v5h-5zM344 91h5v5h-5zM385 91h5v5h-5zM394 91h5v5h-5zM404 91h18v5h-18zM458 91h5v5h-5zM472 91h5v5h-5zM490 91h5v5h-5zM518 91h4v5h-4zM545 91h18v5h-18zM586 91h9v5h-9zM600 91h4v5h-4zM43 96h4v4h-4zM129 96h10v4h-10zM157 96h4v4h-4zM166 96h5v4h-5zM230 96h4v4h-4zM248 96h5v4h-5zM285 96h4v4h-4zM326 96h4v4h-4zM335 96h5v4h-5zM353 96h5v4h-5zM385 96h5v4h-5zM404 96h13v4h-13zM440 96h5v4h-5zM449 96h14v4h-14zM467 96h5v4h-5zM504 96h5v4h-5zM541 96h4v4h-4zM604 96h5v4h-5zM43 100h4v5h-4zM97 100h5v5h-5zM157 100h4v5h-4zM166 100h5v5h-5zM230 100h4v5h-4zM253 100h4v5h-4zM266 100h5v5h-5zM280 100h14v5h-14zM308 100h4v5h-4zM321 100h5v5h-5zM335 100h9v5h-9zM358 100h4v5h-4zM385 100h9v5h-9zM404 100h4v5h-4zM413 100h9v5h-9zM440 100h5v5h-5zM458 100h5v5h-5zM509 100h4v5h-4zM536 100h5v5h-5zM568 100h5v5h-5zM577 100h14v5h-14zM641 100h9v5h-9zM659 100h5v5h-5zM668 100h5v5h-5zM43 105h4v4h-4zM52 105h4v4h-4zM93 105h4v4h-4zM107 105h4v4h-4zM157 105h4v4h-4zM166 105h9v4h-9zM207 105h5v4h-5zM239 105h5v4h-5zM266 105h5v4h-5zM280 105h9v4h-9zM326 105h4v4h-4zM340 105h4v4h-4zM390 105h14v4h-14zM413 105h4v4h-4zM435 105h5v4h-5zM499 105h5v4h-5zM518 105h23v4h-23zM559 105h14v4h-14zM582 105h4v4h-4zM641 105h9v4h-9zM659 105h14v4h-14zM687 105h1v4h-1zM70 109h5v5h-5zM84 109h9v5h-9zM102 109h9v5h-9zM157 109h4v5h-4zM207 109h5v5h-5zM225 109h5v5h-5zM239 109h9v5h-9zM257 109h14v5h-14zM321 109h9v5h-9zM335 109h5v5h-5zM362 109h5v5h-5zM390 109h4v5h-4zM404 109h4v5h-4zM413 109h4v5h-4zM426 109h5v5h-5zM440 109h5v5h-5zM454 109h4v5h-4zM490 109h9v5h-9zM541 109h4v5h-4zM554 109h5v5h-5zM563 109h5v5h-5zM573 109h9v5h-9zM600 109h9v5h-9zM614 109h9v5h-9zM632 109h23v5h-23zM659 109h9v5h-9zM673 109h9v5h-9zM75 114h4v4h-4zM102 114h5v4h-5zM171 114h9v4h-9zM207 114h5v4h-5zM225 114h5v4h-5zM234 114h10v4h-10zM326 114h9v4h-9zM353 114h5v4h-5zM417 114h5v4h-5zM509 114h4v4h-4zM582 114h4v4h-4zM618 114h9v4h-9zM636 114h14v4h-14zM655 114h9v4h-9zM678 114h9v4h-9zM61 118h4v5h-4zM70 118h5v5h-5zM79 118h5v5h-5zM102 118h5v5h-5zM139 118h4v5h-4zM171 118h4v5h-4zM193 118h10v5h-10zM225 118h5v5h-5zM234 118h10v5h-10zM271 118h5v5h-5zM349 118h4v5h-4zM358 118h9v5h-9zM381 118h13v5h-13zM422 118h4v5h-4zM495 118h4v5h-4zM531 118h10v5h-10zM559 118h4v5h-4zM618 118h9v5h-9zM668 118h10v5h-10zM56 123h9v5h-9zM75 123h13v5h-13zM120 123h5v5h-5zM139 123h4v5h-4zM152 123h5v5h-5zM171 123h4v5h-4zM184 123h5v5h-5zM230 123h9v5h-9zM266 123h10v5h-10zM285 123h13v5h-13zM308 123h9v5h-9zM349 123h9v5h-9zM394 123h5v5h-5zM422 123h4v5h-4zM509 123h4v5h-4zM518 123h4v5h-4zM563 123h5v5h-5zM591 123h4v5h-4zM600 123h18v5h-18zM627 123h14v5h-14zM655 123h9v5h-9zM673 123h9v5h-9zM52 128h4v4h-4zM65 128h5v4h-5zM75 128h9v4h-9zM102 128h5v4h-5zM120 128h5v4h-5zM193 128h5v4h-5zM221 128h23v4h-23zM276 128h4v4h-4zM298 128h14v4h-14zM353 128h5v4h-5zM381 128h4v4h-4zM394 128h28v4h-28zM454 128h4v4h-4zM504 128h5v4h-5zM513 128h5v4h-5zM522 128h5v4h-5zM563 128h10v4h-10zM591 128h4v4h-4zM600 128h9v4h-9zM627 128h5v4h-5zM650 128h5v4h-5zM682 128h6v4h-6zM61 132h9v5h-9zM75 132h13v5h-13zM175 132h5v5h-5zM193 132h5v5h-5zM203 132h4v5h-4zM212 132h9v5h-9zM230 132h9v5h-9zM248 132h5v5h-5zM257 132h14v5h-14zM276 132h9v5h-9zM298 132h10v5h-10zM321 132h5v5h-5zM353 132h5v5h-5zM385 132h5v5h-5zM394 132h5v5h-5zM445 132h18v5h-18zM490 132h5v5h-5zM509 132h4v5h-4zM518 132h4v5h-4zM563 132h10v5h-10zM591 132h13v5h-13zM636 132h5v5h-5zM646 132h9v5h-9zM75 137h32v4h-32zM175 137h5v4h-5zM203 137h4v4h-4zM216 137h5v4h-5zM230 137h4v4h-4zM239 137h14v4h-14zM257 137h5v4h-5zM266 137h5v4h-5zM321 137h9v4h-9zM353 137h9v4h-9zM376 137h5v4h-5zM413 137h4v4h-4zM440 137h5v4h-5zM449 137h5v4h-5zM486 137h4v4h-4zM499 137h5v4h-5zM513 137h14v4h-14zM568 137h5v4h-5zM595 137h9v4h-9zM627 137h5v4h-5zM636 137h5v4h-5zM646 137h9v4h-9zM659 137h5v4h-5zM38 141h5v5h-5zM47 141h14v5h-14zM84 141h4v5h-4zM93 141h4v5h-4zM107 141h9v5h-9zM139 141h4v5h-4zM148 141h4v5h-4zM175 141h5v5h-5zM203 141h4v5h-4zM221 141h13v5h-13zM239 141h9v5h-9zM253 141h4v5h-4zM262 141h4v5h-4zM271 141h5v5h-5zM344 141h18v5h-18zM367 141h18v5h-18zM431 141h9v5h-9zM481 141h5v5h-5zM504 141h9v5h-9zM522 141h5v5h-5zM563 141h10v5h-10zM591 141h4v5h-4zM600 141h4v5h-4zM623 141h4v5h-4zM632 141h4v5h-4zM646 141h4v5h-4zM687 141h1v5h-1zM32 146h6v4h-6zM43 146h4v4h-4zM56 146h5v4h-5zM65 146h14v4h-14zM84 146h4v4h-4zM102 146h5v4h-5zM116 146h4v4h-4zM125 146h4v4h-4zM152 146h5v4h-5zM198 146h5v4h-5zM207 146h5v4h-5zM216 146h5v4h-5zM225 146h5v4h-5zM239 146h18v4h-18zM349 146h9v4h-9zM362 146h5v4h-5zM372 146h4v4h-4zM435 146h10v4h-10zM458 146h5v4h-5zM472 146h5v4h-5zM499 146h19v4h-19zM550 146h9v4h-9zM568 146h5v4h-5zM600 146h4v4h-4zM636 146h10v4h-10zM664 146h4v4h-4zM687 146h1v4h-1zM32 150h6v5h-6zM79 150h18v5h-18zM111 150h23v5h-23zM157 150h9v5h-9zM189 150h4v5h-4zM203 150h13v5h-13zM221 150h13v5h-13zM244 150h4v5h-4zM257 150h9v5h-9zM271 150h5v5h-5zM340 150h4v5h-4zM349 150h13v5h-13zM367 150h5v5h-5zM431 150h4v5h-4zM463 150h4v5h-4zM509 150h4v5h-4zM550 150h4v5h-4zM559 150h4v5h-4zM595 150h14v5h-14zM646 150h4v5h-4zM668 150h5v5h-5zM678 150h4v5h-4zM38 155h9v5h-9zM88 155h5v5h-5zM120 155h5v5h-5zM207 155h9v5h-9zM221 155h4v5h-4zM230 155h4v5h-4zM239 155h5v5h-5zM248 155h9v5h-9zM262 155h9v5h-9zM294 155h4v5h-4zM340 155h4v5h-4zM390 155h14v5h-14zM454 155h9v5h-9zM477 155h4v5h-4zM495 155h4v5h-4zM541 155h9v5h-9zM600 155h9v5h-9zM614 155h9v5h-9zM668 155h5v5h-5zM38 160h14v4h-14zM84 160h13v4h-13zM111 160h9v4h-9zM134 160h5v4h-5zM143 160h5v4h-5zM161 160h5v4h-5zM212 160h4v4h-4zM244 160h13v4h-13zM266 160h19v4h-19zM463 160h4v4h-4zM495 160h4v4h-4zM527 160h9v4h-9zM545 160h23v4h-23zM573 160h9v4h-9zM595 160h5v4h-5zM604 160h10v4h-10zM38 164h5v5h-5zM47 164h9v5h-9zM88 164h5v5h-5zM134 164h5v5h-5zM143 164h5v5h-5zM161 164h10v5h-10zM253 164h4v5h-4zM266 164h5v5h-5zM276 164h4v5h-4zM326 164h14v5h-14zM349 164h4v5h-4zM372 164h4v5h-4zM422 164h4v5h-4zM431 164h4v5h-4zM454 164h9v5h-9zM495 164h4v5h-4zM595 164h5v5h-5zM604 164h10v5h-10zM627 164h5v5h-5zM47 169h5v4h-5zM70 169h5v4h-5zM97 169h5v4h-5zM111 169h9v4h-9zM134 169h5v4h-5zM184 169h5v4h-5zM193 169h5v4h-5zM212 169h4v4h-4zM257 169h5v4h-5zM276 169h4v4h-4zM326 169h4v4h-4zM335 169h14v4h-14zM381 169h4v4h-4zM417 169h5v4h-5zM435 169h5v4h-5zM490 169h5v4h-5zM499 169h19v4h-19zM527 169h4v4h-4zM550 169h9v4h-9zM586 169h5v4h-5zM604 169h5v4h-5zM618 169h5v4h-5zM664 169h9v4h-9zM56 173h5v5h-5zM88 173h19v5h-19zM120 173h5v5h-5zM198 173h5v5h-5zM221 173h4v5h-4zM253 173h4v5h-4zM271 173h5v5h-5zM317 173h13v5h-13zM344 173h5v5h-5zM353 173h5v5h-5zM381 173h4v5h-4zM390 173h4v5h-4zM404 173h4v5h-4zM417 173h9v5h-9zM435 173h10v5h-10zM472 173h14v5h-14zM490 173h5v5h-5zM522 173h5v5h-5zM531 173h5v5h-5zM550 173h4v5h-4zM559 173h4v5h-4zM582 173h4v5h-4zM591 173h4v5h-4zM650 173h9v5h-9zM32 178h6v4h-6zM88 178h5v4h-5zM134 178h5v4h-5zM148 178h13v4h-13zM171 178h13v4h-13zM312 178h5v4h-5zM321 178h19v4h-19zM353 178h5v4h-5zM367 178h5v4h-5zM399 178h5v4h-5zM422 178h9v4h-9zM435 178h5v4h-5zM541 178h4v4h-4zM577 178h14v4h-14zM604 178h10v4h-10zM56 182h5v5h-5zM79 182h14v5h-14zM116 182h4v5h-4zM134 182h9v5h-9zM148 182h4v5h-4zM171 182h9v5h-9zM203 182h9v5h-9zM221 182h4v5h-4zM257 182h9v5h-9zM280 182h5v5h-5zM289 182h5v5h-5zM317 182h4v5h-4zM330 182h5v5h-5zM353 182h9v5h-9zM431 182h9v5h-9zM481 182h5v5h-5zM577 182h5v5h-5zM591 182h4v5h-4zM609 182h5v5h-5zM632 182h4v5h-4zM682 182h5v5h-5zM56 187h9v5h-9zM70 187h9v5h-9zM84 187h23v5h-23zM111 187h14v5h-14zM129 187h5v5h-5zM161 187h19v5h-19zM193 187h5v5h-5zM221 187h9v5h-9zM289 187h5v5h-5zM486 187h9v5h-9zM499 187h5v5h-5zM541 187h4v5h-4zM573 187h4v5h-4zM604 187h10v5h-10zM682 187h5v5h-5zM56 192h9v4h-9zM88 192h5v4h-5zM97 192h5v4h-5zM107 192h9v4h-9zM143 192h5v4h-5zM157 192h4v4h-4zM184 192h5v4h-5zM221 192h4v4h-4zM280 192h5v4h-5zM490 192h5v4h-5zM522 192h5v4h-5zM541 192h4v4h-4zM595 192h5v4h-5zM604 192h5v4h-5zM655 192h4v4h-4zM682 192h5v4h-5zM32 196h6v5h-6zM47 196h5v5h-5zM79 196h28v5h-28zM111 196h5v5h-5zM120 196h5v5h-5zM134 196h5v5h-5zM148 196h4v5h-4zM157 196h9v5h-9zM171 196h4v5h-4zM180 196h9v5h-9zM193 196h5v5h-5zM203 196h4v5h-4zM408 196h5v5h-5zM609 196h9v5h-9zM655 196h4v5h-4zM61 201h4v4h-4zM79 201h14v4h-14zM102 201h18v4h-18zM161 201h10v4h-10zM203 201h4v4h-4zM230 201h4v4h-4zM239 201h9v4h-9zM257 201h5v4h-5zM276 201h4v4h-4zM559 201h9v4h-9zM573 201h9v4h-9zM591 201h4v4h-4zM600 201h9v4h-9zM623 201h9v4h-9zM650 201h5v4h-5zM61 205h4v5h-4zM79 205h5v5h-5zM97 205h14v5h-14zM125 205h23v5h-23zM161 205h5v5h-5zM180 205h4v5h-4zM203 205h13v5h-13zM234 205h5v5h-5zM262 205h4v5h-4zM276 205h4v5h-4zM294 205h4v5h-4zM317 205h9v5h-9zM372 205h4v5h-4zM385 205h5v5h-5zM399 205h5v5h-5zM435 205h5v5h-5zM445 205h9v5h-9zM568 205h5v5h-5zM600 205h9v5h-9zM618 205h5v5h-5zM627 205h5v5h-5zM646 205h4v5h-4zM43 210h4v4h-4zM52 210h4v4h-4zM61 210h4v4h-4zM93 210h4v4h-4zM102 210h5v4h-5zM129 210h10v4h-10zM143 210h9v4h-9zM294 210h4v4h-4zM385 210h14v4h-14zM426 210h19v4h-19zM449 210h14v4h-14zM481 210h5v4h-5zM595 210h5v4h-5zM604 210h10v4h-10zM632 210h4v4h-4zM641 210h5v4h-5zM678 210h9v4h-9zM43 214h4v5h-4zM61 214h9v5h-9zM97 214h14v5h-14zM134 214h5v5h-5zM143 214h9v5h-9zM157 214h14v5h-14zM212 214h4v5h-4zM221 214h9v5h-9zM244 214h9v5h-9zM294 214h4v5h-4zM458 214h5v5h-5zM481 214h9v5h-9zM509 214h4v5h-4zM609 214h5v5h-5zM682 214h6v5h-6zM102 219h14v5h-14zM134 219h5v5h-5zM143 219h18v5h-18zM212 219h13v5h-13zM230 219h4v5h-4zM244 219h4v5h-4zM257 219h5v5h-5zM303 219h5v5h-5zM317 219h4v5h-4zM353 219h5v5h-5zM367 219h5v5h-5zM381 219h4v5h-4zM404 219h4v5h-4zM431 219h4v5h-4zM458 219h9v5h-9zM472 219h5v5h-5zM486 219h4v5h-4zM509 219h9v5h-9zM600 219h4v5h-4zM636 219h10v5h-10zM682 219h5v5h-5zM102 224h5v4h-5zM129 224h5v4h-5zM139 224h4v4h-4zM148 224h9v4h-9zM161 224h5v4h-5zM207 224h14v4h-14zM230 224h4v4h-4zM239 224h9v4h-9zM280 224h9v4h-9zM294 224h32v4h-32zM344 224h5v4h-5zM394 224h10v4h-10zM408 224h5v4h-5zM431 224h4v4h-4zM449 224h9v4h-9zM481 224h14v4h-14zM504 224h5v4h-5zM522 224h5v4h-5zM541 224h9v4h-9zM604 224h5v4h-5zM632 224h9v4h-9zM650 224h5v4h-5zM678 224h9v4h-9zM111 228h9v5h-9zM125 228h14v5h-14zM152 228h9v5h-9zM189 228h4v5h-4zM230 228h9v5h-9zM248 228h5v5h-5zM266 228h5v5h-5zM294 228h4v5h-4zM303 228h5v5h-5zM326 228h18v5h-18zM394 228h10v5h-10zM486 228h4v5h-4zM495 228h4v5h-4zM541 228h9v5h-9zM582 228h4v5h-4zM627 228h5v5h-5zM636 228h14v5h-14zM673 228h14v5h-14zM38 233h9v4h-9zM116 233h4v4h-4zM134 233h9v4h-9zM166 233h5v4h-5zM180 233h4v4h-4zM189 233h4v4h-4zM198 233h5v4h-5zM212 233h9v4h-9zM230 233h4v4h-4zM239 233h5v4h-5zM271 233h9v4h-9zM298 233h5v4h-5zM308 233h4v4h-4zM340 233h4v4h-4zM372 233h13v4h-13zM390 233h9v4h-9zM467 233h5v4h-5zM499 233h5v4h-5zM550 233h4v4h-4zM559 233h4v4h-4zM568 233h5v4h-5zM632 233h4v4h-4zM659 233h5v4h-5zM668 233h5v4h-5zM682 233h5v4h-5zM47 237h5v5h-5zM93 237h4v5h-4zM116 237h9v5h-9zM129 237h5v5h-5zM143 237h5v5h-5zM175 237h18v5h-18zM198 237h9v5h-9zM234 237h5v5h-5zM244 237h4v5h-4zM303 237h9v5h-9zM340 237h4v5h-4zM349 237h18v5h-18zM426 237h9v5h-9zM472 237h5v5h-5zM499 237h5v5h-5zM541 237h9v5h-9zM632 237h4v5h-4zM650 237h5v5h-5zM668 237h5v5h-5zM682 237h5v5h-5zM47 242h5v4h-5zM75 242h4v4h-4zM102 242h5v4h-5zM116 242h9v4h-9zM143 242h5v4h-5zM152 242h5v4h-5zM193 242h10v4h-10zM234 242h5v4h-5zM244 242h4v4h-4zM253 242h4v4h-4zM271 242h5v4h-5zM289 242h5v4h-5zM303 242h9v4h-9zM326 242h4v4h-4zM335 242h5v4h-5zM358 242h4v4h-4zM367 242h5v4h-5zM467 242h10v4h-10zM499 242h5v4h-5zM545 242h5v4h-5zM568 242h5v4h-5zM577 242h5v4h-5zM604 242h14v4h-14zM646 242h4v4h-4zM678 242h4v4h-4zM47 246h14v5h-14zM65 246h5v5h-5zM75 246h4v5h-4zM120 246h5v5h-5zM152 246h5v5h-5zM198 246h5v5h-5zM221 246h4v5h-4zM230 246h4v5h-4zM248 246h9v5h-9zM280 246h18v5h-18zM344 246h5v5h-5zM362 246h5v5h-5zM422 246h4v5h-4zM435 246h5v5h-5zM463 246h4v5h-4zM472 246h9v5h-9zM518 246h9v5h-9zM541 246h4v5h-4zM568 246h14v5h-14zM595 246h9v5h-9zM641 246h5v5h-5zM668 246h14v5h-14zM687 246h1v5h-1zM52 251h9v4h-9zM75 251h4v4h-4zM102 251h9v4h-9zM129 251h14v4h-14zM148 251h4v4h-4zM157 251h4v4h-4zM175 251h5v4h-5zM212 251h4v4h-4zM230 251h4v4h-4zM248 251h9v4h-9zM266 251h5v4h-5zM280 251h14v4h-14zM312 251h5v4h-5zM372 251h9v4h-9zM408 251h5v4h-5zM426 251h5v4h-5zM440 251h9v4h-9zM454 251h4v4h-4zM477 251h4v4h-4zM513 251h14v4h-14zM550 251h13v4h-13zM573 251h13v4h-13zM595 251h5v4h-5zM604 251h5v4h-5zM618 251h5v4h-5zM673 251h5v4h-5zM61 255h9v5h-9zM134 255h5v5h-5zM152 255h9v5h-9zM166 255h5v5h-5zM175 255h9v5h-9zM189 255h9v5h-9zM230 255h9v5h-9zM248 255h5v5h-5zM262 255h4v5h-4zM276 255h4v5h-4zM289 255h9v5h-9zM312 255h5v5h-5zM340 255h4v5h-4zM358 255h4v5h-4zM381 255h4v5h-4zM404 255h9v5h-9zM449 255h18v5h-18zM477 255h4v5h-4zM518 255h18v5h-18zM541 255h13v5h-13zM586 255h5v5h-5zM595 255h9v5h-9zM641 255h5v5h-5zM678 255h4v5h-4zM61 260h9v5h-9zM79 260h5v5h-5zM120 260h5v5h-5zM129 260h5v5h-5zM157 260h4v5h-4zM184 260h5v5h-5zM193 260h5v5h-5zM203 260h4v5h-4zM225 260h5v5h-5zM248 260h5v5h-5zM257 260h9v5h-9zM271 260h5v5h-5zM289 260h19v5h-19zM317 260h4v5h-4zM358 260h4v5h-4zM381 260h23v5h-23zM431 260h4v5h-4zM449 260h5v5h-5zM472 260h5v5h-5zM490 260h5v5h-5zM518 260h4v5h-4zM531 260h19v5h-19zM554 260h9v5h-9zM600 260h4v5h-4zM609 260h5v5h-5zM646 260h9v5h-9zM678 260h4v5h-4zM32 265h6v4h-6zM43 265h4v4h-4zM52 265h13v4h-13zM125 265h14v4h-14zM148 265h9v4h-9zM175 265h5v4h-5zM198 265h9v4h-9zM230 265h4v4h-4zM239 265h5v4h-5zM248 265h5v4h-5zM285 265h4v4h-4zM312 265h9v4h-9zM349 265h4v4h-4zM358 265h4v4h-4zM376 265h9v4h-9zM394 265h5v4h-5zM408 265h5v4h-5zM426 265h9v4h-9zM449 265h5v4h-5zM467 265h5v4h-5zM490 265h5v4h-5zM541 265h4v4h-4zM550 265h4v4h-4zM559 265h9v4h-9zM586 265h5v4h-5zM595 265h5v4h-5zM604 265h14v4h-14zM632 265h23v4h-23zM659 265h5v4h-5zM678 265h4v4h-4zM32 269h6v5h-6zM56 269h5v5h-5zM75 269h9v5h-9zM88 269h5v5h-5zM120 269h5v5h-5zM129 269h5v5h-5zM152 269h5v5h-5zM175 269h5v5h-5zM207 269h9v5h-9zM234 269h5v5h-5zM253 269h4v5h-4zM262 269h4v5h-4zM280 269h14v5h-14zM298 269h5v5h-5zM308 269h9v5h-9zM349 269h4v5h-4zM362 269h5v5h-5zM399 269h5v5h-5zM408 269h5v5h-5zM422 269h4v5h-4zM435 269h5v5h-5zM463 269h4v5h-4zM477 269h4v5h-4zM490 269h5v5h-5zM536 269h5v5h-5zM545 269h41v5h-41zM595 269h5v5h-5zM614 269h4v5h-4zM623 269h4v5h-4zM641 269h5v5h-5zM678 269h4v5h-4zM38 274h9v4h-9zM93 274h14v4h-14zM111 274h9v4h-9zM166 274h5v4h-5zM175 274h5v4h-5zM225 274h14v4h-14zM253 274h4v4h-4zM276 274h4v4h-4zM298 274h5v4h-5zM335 274h5v4h-5zM344 274h23v4h-23zM381 274h4v4h-4zM440 274h9v4h-9zM463 274h9v4h-9zM477 274h4v4h-4zM550 274h9v4h-9zM563 274h5v4h-5zM577 274h5v4h-5zM595 274h5v4h-5zM614 274h9v4h-9zM632 274h4v4h-4zM650 274h5v4h-5zM659 274h19v4h-19zM47 278h9v5h-9zM102 278h9v5h-9zM125 278h4v5h-4zM139 278h4v5h-4zM175 278h9v5h-9zM225 278h5v5h-5zM244 278h9v5h-9zM257 278h14v5h-14zM321 278h5v5h-5zM349 278h13v5h-13zM367 278h5v5h-5zM381 278h4v5h-4zM513 278h18v5h-18zM577 278h5v5h-5zM636 278h5v5h-5zM659 278h5v5h-5zM61 283h9v4h-9zM120 283h23v4h-23zM148 283h9v4h-9zM161 283h5v4h-5zM189 283h4v4h-4zM212 283h9v4h-9zM248 283h5v4h-5zM262 283h27v4h-27zM312 283h23v4h-23zM344 283h18v4h-18zM390 283h4v4h-4zM536 283h5v4h-5zM595 283h5v4h-5zM636 283h10v4h-10zM88 287h9v5h-9zM120 287h9v5h-9zM203 287h9v5h-9zM253 287h4v5h-4zM266 287h5v5h-5zM317 287h9v5h-9zM344 287h5v5h-5zM353 287h9v5h-9zM417 287h5v5h-5zM454 287h4v5h-4zM499 287h5v5h-5zM536 287h5v5h-5zM604 287h5v5h-5zM636 287h5v5h-5zM673 287h5v5h-5zM47 292h9v5h-9zM75 292h9v5h-9zM120 292h5v5h-5zM161 292h5v5h-5zM203 292h9v5h-9zM216 292h14v5h-14zM239 292h5v5h-5zM266 292h5v5h-5zM285 292h9v5h-9zM298 292h5v5h-5zM312 292h18v5h-18zM335 292h18v5h-18zM413 292h4v5h-4zM449 292h5v5h-5zM467 292h5v5h-5zM486 292h13v5h-13zM509 292h4v5h-4zM545 292h9v5h-9zM563 292h5v5h-5zM604 292h10v5h-10zM641 292h5v5h-5zM47 297h5v4h-5zM75 297h4v4h-4zM88 297h5v4h-5zM111 297h5v4h-5zM161 297h5v4h-5zM221 297h13v4h-13zM239 297h5v4h-5zM248 297h23v4h-23zM285 297h4v4h-4zM312 297h9v4h-9zM344 297h14v4h-14zM390 297h9v4h-9zM408 297h5v4h-5zM440 297h14v4h-14zM458 297h5v4h-5zM499 297h14v4h-14zM541 297h22v4h-22zM604 297h10v4h-10zM636 297h5v4h-5zM668 297h5v4h-5zM32 301h24v5h-24zM116 301h4v5h-4zM171 301h4v5h-4zM221 301h4v5h-4zM239 301h14v5h-14zM266 301h5v5h-5zM298 301h5v5h-5zM312 301h5v5h-5zM330 301h14v5h-14zM353 301h5v5h-5zM362 301h5v5h-5zM372 301h4v5h-4zM394 301h10v5h-10zM445 301h4v5h-4zM463 301h9v5h-9zM504 301h14v5h-14zM541 301h4v5h-4zM550 301h9v5h-9zM577 301h5v5h-5zM586 301h9v5h-9zM636 301h14v5h-14zM655 301h4v5h-4zM664 301h4v5h-4zM43 306h13v4h-13zM88 306h5v4h-5zM116 306h9v4h-9zM129 306h5v4h-5zM157 306h9v4h-9zM184 306h14v4h-14zM203 306h9v4h-9zM221 306h4v4h-4zM239 306h9v4h-9zM266 306h10v4h-10zM280 306h5v4h-5zM335 306h5v4h-5zM344 306h9v4h-9zM394 306h10v4h-10zM431 306h4v4h-4zM440 306h9v4h-9zM458 306h5v4h-5zM467 306h10v4h-10zM495 306h9v4h-9zM509 306h4v4h-4zM527 306h9v4h-9zM541 306h13v4h-13zM577 306h5v4h-5zM591 306h4v4h-4zM664 306h4v4h-4zM673 306h5v4h-5zM32 310h20v5h-20zM70 310h18v5h-18zM111 310h5v5h-5zM157 310h9v5h-9zM175 310h5v5h-5zM189 310h14v5h-14zM221 310h4v5h-4zM230 310h4v5h-4zM248 310h5v5h-5zM266 310h10v5h-10zM280 310h9v5h-9zM294 310h14v5h-14zM344 310h9v5h-9zM358 310h4v5h-4zM372 310h18v5h-18zM399 310h5v5h-5zM426 310h5v5h-5zM467 310h5v5h-5zM486 310h4v5h-4zM495 310h9v5h-9zM541 310h9v5h-9zM559 310h4v5h-4zM586 310h5v5h-5zM636 310h5v5h-5zM32 315h6v4h-6zM47 315h9v4h-9zM75 315h4v4h-4zM88 315h5v4h-5zM111 315h9v4h-9zM139 315h9v4h-9zM161 315h5v4h-5zM171 315h4v4h-4zM193 315h5v4h-5zM203 315h4v4h-4zM221 315h4v4h-4zM285 315h9v4h-9zM298 315h5v4h-5zM317 315h4v4h-4zM330 315h5v4h-5zM399 315h5v4h-5zM463 315h9v4h-9zM486 315h4v4h-4zM495 315h4v4h-4zM545 315h9v4h-9zM573 315h4v4h-4zM582 315h9v4h-9zM604 315h5v4h-5zM627 315h5v4h-5zM673 315h9v4h-9zM38 319h5v5h-5zM61 319h18v5h-18zM88 319h9v5h-9zM120 319h5v5h-5zM134 319h9v5h-9zM203 319h4v5h-4zM221 319h4v5h-4zM280 319h5v5h-5zM294 319h4v5h-4zM321 319h5v5h-5zM349 319h4v5h-4zM367 319h5v5h-5zM394 319h10v5h-10zM417 319h5v5h-5zM426 319h5v5h-5zM454 319h4v5h-4zM463 319h4v5h-4zM513 319h5v5h-5zM545 319h9v5h-9zM559 319h4v5h-4zM582 319h13v5h-13zM609 319h5v5h-5zM655 319h4v5h-4zM664 319h4v5h-4zM38 324h5v5h-5zM61 324h4v5h-4zM93 324h9v5h-9zM116 324h9v5h-9zM143 324h5v5h-5zM203 324h4v5h-4zM212 324h4v5h-4zM244 324h9v5h-9zM271 324h9v5h-9zM289 324h14v5h-14zM317 324h18v5h-18zM362 324h23v5h-23zM394 324h28v5h-28zM426 324h5v5h-5zM513 324h5v5h-5zM550 324h9v5h-9zM586 324h18v5h-18zM609 324h5v5h-5zM627 324h5v5h-5zM650 324h5v5h-5zM673 324h5v5h-5zM97 329h5v4h-5zM116 329h4v4h-4zM129 329h5v4h-5zM139 329h4v4h-4zM148 329h4v4h-4zM157 329h9v4h-9zM180 329h4v4h-4zM193 329h5v4h-5zM203 329h13v4h-13zM266 329h14v4h-14zM285 329h9v4h-9zM298 329h10v4h-10zM321 329h5v4h-5zM394 329h10v4h-10zM422 329h4v4h-4zM477 329h18v4h-18zM536 329h5v4h-5zM545 329h23v4h-23zM577 329h9v4h-9zM591 329h4v4h-4zM609 329h5v4h-5zM664 329h4v4h-4zM682 329h5v4h-5zM70 333h5v5h-5zM79 333h9v5h-9zM107 333h4v5h-4zM125 333h18v5h-18zM157 333h9v5h-9zM193 333h5v5h-5zM207 333h9v5h-9zM221 333h4v5h-4zM244 333h4v5h-4zM253 333h4v5h-4zM266 333h10v5h-10zM285 333h4v5h-4zM303 333h9v5h-9zM317 333h4v5h-4zM326 333h9v5h-9zM340 333h13v5h-13zM381 333h4v5h-4zM394 333h5v5h-5zM422 333h4v5h-4zM467 333h14v5h-14zM490 333h9v5h-9zM513 333h5v5h-5zM527 333h14v5h-14zM545 333h5v5h-5zM554 333h19v5h-19zM582 333h4v5h-4zM591 333h23v5h-23zM636 333h5v5h-5zM668 333h5v5h-5zM70 338h9v4h-9zM88 338h5v4h-5zM107 338h4v4h-4zM125 338h4v4h-4zM157 338h4v4h-4zM175 338h9v4h-9zM198 338h18v4h-18zM221 338h4v4h-4zM239 338h5v4h-5zM248 338h5v4h-5zM257 338h5v4h-5zM276 338h18v4h-18zM312 338h9v4h-9zM326 338h4v4h-4zM376 338h5v4h-5zM399 338h5v4h-5zM435 338h5v4h-5zM454 338h9v4h-9zM472 338h5v4h-5zM509 338h9v4h-9zM522 338h19v4h-19zM550 338h4v4h-4zM559 338h4v4h-4zM573 338h4v4h-4zM600 338h4v4h-4zM609 338h5v4h-5zM627 338h9v4h-9zM32 342h11v5h-11zM56 342h9v5h-9zM88 342h9v5h-9zM107 342h4v5h-4zM125 342h9v5h-9zM157 342h4v5h-4zM175 342h9v5h-9zM212 342h13v5h-13zM257 342h5v5h-5zM285 342h4v5h-4zM303 342h5v5h-5zM326 342h4v5h-4zM362 342h10v5h-10zM376 342h5v5h-5zM399 342h5v5h-5zM422 342h4v5h-4zM431 342h9v5h-9zM454 342h18v5h-18zM495 342h14v5h-14zM513 342h9v5h-9zM536 342h5v5h-5zM563 342h10v5h-10zM600 342h4v5h-4zM618 342h5v5h-5zM627 342h5v5h-5zM636 342h5v5h-5zM673 342h9v5h-9zM687 342h1v5h-1zM70 347h18v4h-18zM97 347h5v4h-5zM111 347h18v4h-18zM134 347h5v4h-5zM143 347h5v4h-5zM180 347h4v4h-4zM216 347h5v4h-5zM257 347h9v4h-9zM280 347h5v4h-5zM298 347h5v4h-5zM312 347h9v4h-9zM353 347h5v4h-5zM399 347h9v4h-9zM426 347h5v4h-5zM449 347h5v4h-5zM472 347h9v4h-9zM486 347h4v4h-4zM495 347h4v4h-4zM513 347h5v4h-5zM531 347h10v4h-10zM563 347h10v4h-10zM600 347h9v4h-9zM627 347h5v4h-5zM636 347h5v4h-5zM664 347h4v4h-4zM682 347h5v4h-5zM65 351h5v5h-5zM79 351h9v5h-9zM97 351h10v5h-10zM111 351h5v5h-5zM134 351h5v5h-5zM161 351h5v5h-5zM239 351h14v5h-14zM266 351h5v5h-5zM312 351h5v5h-5zM330 351h5v5h-5zM353 351h5v5h-5zM399 351h5v5h-5zM408 351h5v5h-5zM472 351h5v5h-5zM495 351h4v5h-4zM513 351h5v5h-5zM531 351h10v5h-10zM568 351h5v5h-5zM604 351h5v5h-5zM664 351h9v5h-9zM682 351h5v5h-5zM97 356h5v5h-5zM111 356h5v5h-5zM125 356h18v5h-18zM239 356h5v5h-5zM285 356h9v5h-9zM321 356h5v5h-5zM330 356h5v5h-5zM381 356h4v5h-4zM399 356h5v5h-5zM477 356h4v5h-4zM486 356h4v5h-4zM499 356h19v5h-19zM527 356h14v5h-14zM559 356h4v5h-4zM609 356h5v5h-5zM641 356h5v5h-5zM650 356h5v5h-5zM664 356h4v5h-4zM682 356h5v5h-5zM43 361h4v4h-4zM70 361h9v4h-9zM88 361h5v4h-5zM116 361h9v4h-9zM129 361h5v4h-5zM143 361h14v4h-14zM166 361h5v4h-5zM175 361h5v4h-5zM193 361h10v4h-10zM212 361h13v4h-13zM244 361h4v4h-4zM266 361h5v4h-5zM280 361h14v4h-14zM312 361h9v4h-9zM326 361h9v4h-9zM362 361h5v4h-5zM404 361h4v4h-4zM422 361h4v4h-4zM454 361h9v4h-9zM499 361h5v4h-5zM531 361h14v4h-14zM646 361h4v4h-4zM678 361h4v4h-4zM687 361h1v4h-1zM70 365h14v5h-14zM120 365h9v5h-9zM148 365h36v5h-36zM198 365h5v5h-5zM230 365h4v5h-4zM244 365h13v5h-13zM266 365h5v5h-5zM276 365h4v5h-4zM298 365h10v5h-10zM312 365h5v5h-5zM330 365h10v5h-10zM362 365h5v5h-5zM390 365h4v5h-4zM426 365h5v5h-5zM440 365h5v5h-5zM449 365h9v5h-9zM531 365h5v5h-5zM545 365h9v5h-9zM614 365h9v5h-9zM627 365h23v5h-23zM668 365h5v5h-5zM682 365h5v5h-5zM84 370h9v4h-9zM97 370h5v4h-5zM107 370h4v4h-4zM148 370h36v4h-36zM225 370h9v4h-9zM248 370h5v4h-5zM266 370h10v4h-10zM285 370h4v4h-4zM303 370h9v4h-9zM326 370h4v4h-4zM340 370h4v4h-4zM376 370h5v4h-5zM385 370h5v4h-5zM413 370h9v4h-9zM435 370h5v4h-5zM449 370h9v4h-9zM463 370h9v4h-9zM499 370h5v4h-5zM545 370h5v4h-5zM632 370h4v4h-4zM655 370h4v4h-4zM664 370h4v4h-4zM682 370h5v4h-5zM93 374h4v5h-4zM125 374h4v5h-4zM134 374h9v5h-9zM148 374h9v5h-9zM166 374h5v5h-5zM175 374h5v5h-5zM184 374h5v5h-5zM193 374h5v5h-5zM225 374h9v5h-9zM239 374h9v5h-9zM253 374h9v5h-9zM303 374h5v5h-5zM317 374h13v5h-13zM340 374h9v5h-9zM353 374h5v5h-5zM408 374h14v5h-14zM435 374h10v5h-10zM449 374h5v5h-5zM463 374h4v5h-4zM499 374h5v5h-5zM563 374h14v5h-14zM641 374h5v5h-5zM650 374h5v5h-5zM682 374h5v5h-5zM97 379h5v4h-5zM107 379h22v4h-22zM139 379h4v4h-4zM148 379h4v4h-4zM171 379h13v4h-13zM193 379h14v4h-14zM216 379h14v4h-14zM234 379h5v4h-5zM244 379h13v4h-13zM262 379h23v4h-23zM303 379h18v4h-18zM344 379h9v4h-9zM367 379h9v4h-9zM408 379h9v4h-9zM440 379h5v4h-5zM495 379h14v4h-14zM527 379h4v4h-4zM541 379h4v4h-4zM568 379h5v4h-5zM577 379h14v4h-14zM618 379h9v4h-9zM655 379h4v4h-4zM664 379h4v4h-4zM32 383h11v5h-11zM102 383h5v5h-5zM134 383h5v5h-5zM143 383h9v5h-9zM157 383h9v5h-9zM171 383h13v5h-13zM221 383h13v5h-13zM253 383h9v5h-9zM266 383h10v5h-10zM280 383h5v5h-5zM298 383h5v5h-5zM308 383h13v5h-13zM326 383h9v5h-9zM362 383h5v5h-5zM376 383h5v5h-5zM390 383h4v5h-4zM413 383h9v5h-9zM435 383h5v5h-5zM445 383h4v5h-4zM490 383h9v5h-9zM504 383h18v5h-18zM527 383h14v5h-14zM568 383h5v5h-5zM586 383h5v5h-5zM604 383h10v5h-10zM627 383h5v5h-5zM646 383h9v5h-9zM659 383h5v5h-5zM668 383h5v5h-5zM687 383h1v5h-1zM38 388h5v5h-5zM47 388h9v5h-9zM61 388h4v5h-4zM88 388h9v5h-9zM134 388h9v5h-9zM166 388h9v5h-9zM180 388h4v5h-4zM221 388h4v5h-4zM230 388h4v5h-4zM266 388h5v5h-5zM298 388h5v5h-5zM308 388h27v5h-27zM353 388h9v5h-9zM381 388h4v5h-4zM390 388h4v5h-4zM413 388h9v5h-9zM463 388h9v5h-9zM477 388h13v5h-13zM495 388h14v5h-14zM513 388h14v5h-14zM531 388h5v5h-5zM563 388h5v5h-5zM600 388h4v5h-4zM609 388h5v5h-5zM632 388h4v5h-4zM641 388h9v5h-9zM47 393h9v4h-9zM79 393h5v4h-5zM88 393h5v4h-5zM97 393h5v4h-5zM111 393h5v4h-5zM171 393h9v4h-9zM221 393h9v4h-9zM234 393h5v4h-5zM244 393h4v4h-4zM257 393h5v4h-5zM266 393h5v4h-5zM285 393h4v4h-4zM312 393h14v4h-14zM330 393h5v4h-5zM390 393h4v4h-4zM463 393h4v4h-4zM472 393h5v4h-5zM495 393h4v4h-4zM509 393h4v4h-4zM518 393h18v4h-18zM559 393h9v4h-9zM573 393h9v4h-9zM591 393h4v4h-4zM47 397h9v5h-9zM61 397h9v5h-9zM75 397h18v5h-18zM97 397h5v5h-5zM157 397h9v5h-9zM175 397h9v5h-9zM221 397h13v5h-13zM239 397h5v5h-5zM280 397h9v5h-9zM326 397h18v5h-18zM353 397h9v5h-9zM372 397h4v5h-4zM381 397h9v5h-9zM431 397h4v5h-4zM458 397h9v5h-9zM472 397h9v5h-9zM495 397h4v5h-4zM513 397h14v5h-14zM554 397h5v5h-5zM577 397h5v5h-5zM595 397h5v5h-5zM650 397h5v5h-5zM668 397h5v5h-5zM32 402h11v4h-11zM47 402h5v4h-5zM56 402h5v4h-5zM75 402h13v4h-13zM116 402h4v4h-4zM134 402h5v4h-5zM152 402h5v4h-5zM180 402h9v4h-9zM216 402h5v4h-5zM244 402h4v4h-4zM280 402h5v4h-5zM289 402h19v4h-19zM317 402h4v4h-4zM326 402h4v4h-4zM335 402h5v4h-5zM353 402h9v4h-9zM381 402h9v4h-9zM399 402h5v4h-5zM426 402h9v4h-9zM458 402h5v4h-5zM477 402h4v4h-4zM495 402h4v4h-4zM509 402h4v4h-4zM522 402h5v4h-5zM554 402h5v4h-5zM595 402h5v4h-5zM609 402h5v4h-5zM673 402h9v4h-9zM56 406h5v5h-5zM70 406h5v5h-5zM88 406h5v5h-5zM116 406h4v5h-4zM143 406h9v5h-9zM184 406h5v5h-5zM207 406h14v5h-14zM239 406h5v5h-5zM289 406h5v5h-5zM308 406h13v5h-13zM326 406h4v5h-4zM335 406h18v5h-18zM399 406h5v5h-5zM413 406h9v5h-9zM426 406h9v5h-9zM440 406h5v5h-5zM518 406h9v5h-9zM591 406h4v5h-4zM609 406h5v5h-5zM632 406h4v5h-4zM47 411h5v4h-5zM61 411h9v4h-9zM79 411h5v4h-5zM120 411h14v4h-14zM184 411h9v4h-9zM207 411h5v4h-5zM225 411h14v4h-14zM253 411h9v4h-9zM285 411h13v4h-13zM308 411h4v4h-4zM317 411h13v4h-13zM362 411h5v4h-5zM381 411h4v4h-4zM422 411h4v4h-4zM472 411h5v4h-5zM577 411h5v4h-5zM609 411h5v4h-5zM632 411h4v4h-4zM655 411h9v4h-9zM75 415h4v5h-4zM88 415h9v5h-9zM125 415h4v5h-4zM198 415h9v5h-9zM212 415h4v5h-4zM234 415h5v5h-5zM262 415h4v5h-4zM298 415h14v5h-14zM321 415h5v5h-5zM353 415h5v5h-5zM376 415h5v5h-5zM404 415h13v5h-13zM422 415h9v5h-9zM435 415h5v5h-5zM481 415h18v5h-18zM554 415h5v5h-5zM577 415h5v5h-5zM604 415h10v5h-10zM659 415h5v5h-5zM668 415h5v5h-5zM75 420h4v5h-4zM93 420h4v5h-4zM166 420h9v5h-9zM193 420h10v5h-10zM262 420h4v5h-4zM294 420h9v5h-9zM308 420h9v5h-9zM358 420h4v5h-4zM408 420h5v5h-5zM417 420h9v5h-9zM527 420h14v5h-14zM582 420h4v5h-4zM604 420h10v5h-10zM618 420h9v5h-9zM641 420h23v5h-23zM75 425h4v4h-4zM97 425h5v4h-5zM157 425h14v4h-14zM248 425h5v4h-5zM298 425h5v4h-5zM326 425h4v4h-4zM358 425h9v4h-9zM417 425h14v4h-14zM440 425h5v4h-5zM454 425h9v4h-9zM536 425h5v4h-5zM550 425h4v4h-4zM577 425h5v4h-5zM604 425h5v4h-5zM646 425h4v4h-4zM655 425h4v4h-4zM664 425h9v4h-9zM678 425h4v4h-4zM47 429h9v5h-9zM75 429h4v5h-4zM97 429h5v5h-5zM116 429h4v5h-4zM129 429h5v5h-5zM161 429h10v5h-10zM193 429h14v5h-14zM248 429h5v5h-5zM262 429h4v5h-4zM321 429h5v5h-5zM362 429h10v5h-10zM404 429h4v5h-4zM440 429h5v5h-5zM449 429h5v5h-5zM458 429h9v5h-9zM536 429h5v5h-5zM545 429h18v5h-18zM577 429h5v5h-5zM604 429h5v5h-5zM650 429h5v5h-5zM687 429h1v5h-1zM43 434h4v4h-4zM52 434h4v4h-4zM75 434h4v4h-4zM93 434h4v4h-4zM125 434h4v4h-4zM161 434h5v4h-5zM198 434h9v4h-9zM239 434h5v4h-5zM248 434h14v4h-14zM321 434h5v4h-5zM330 434h5v4h-5zM362 434h5v4h-5zM404 434h4v4h-4zM435 434h10v4h-10zM454 434h4v4h-4zM467 434h5v4h-5zM499 434h5v4h-5zM522 434h5v4h-5zM541 434h4v4h-4zM554 434h23v4h-23zM582 434h4v4h-4zM650 434h5v4h-5zM659 434h19v4h-19zM682 434h6v4h-6zM38 438h5v5h-5zM47 438h5v5h-5zM75 438h4v5h-4zM93 438h9v5h-9zM157 438h4v5h-4zM234 438h14v5h-14zM253 438h9v5h-9zM335 438h5v5h-5zM362 438h5v5h-5zM372 438h4v5h-4zM445 438h4v5h-4zM463 438h4v5h-4zM472 438h5v5h-5zM499 438h19v5h-19zM522 438h19v5h-19zM559 438h4v5h-4zM568 438h9v5h-9zM641 438h5v5h-5zM664 438h9v5h-9zM682 438h6v5h-6zM38 443h5v4h-5zM70 443h5v4h-5zM79 443h5v4h-5zM88 443h5v4h-5zM102 443h5v4h-5zM111 443h5v4h-5zM198 443h5v4h-5zM239 443h5v4h-5zM248 443h5v4h-5zM257 443h14v4h-14zM330 443h10v4h-10zM344 443h9v4h-9zM362 443h5v4h-5zM381 443h4v4h-4zM408 443h5v4h-5zM440 443h9v4h-9zM472 443h9v4h-9zM522 443h9v4h-9zM536 443h9v4h-9zM563 443h10v4h-10zM618 443h9v4h-9zM641 443h5v4h-5zM650 443h14v4h-14zM668 443h20v4h-20zM70 447h5v5h-5zM88 447h5v5h-5zM102 447h5v5h-5zM120 447h5v5h-5zM139 447h4v5h-4zM175 447h5v5h-5zM193 447h10v5h-10zM234 447h10v5h-10zM248 447h5v5h-5zM280 447h5v5h-5zM321 447h5v5h-5zM335 447h14v5h-14zM385 447h5v5h-5zM404 447h4v5h-4zM431 447h4v5h-4zM467 447h14v5h-14zM518 447h4v5h-4zM527 447h4v5h-4zM541 447h4v5h-4zM559 447h9v5h-9zM623 447h23v5h-23zM650 447h5v5h-5zM664 447h14v5h-14zM52 452h4v4h-4zM61 452h4v4h-4zM70 452h5v4h-5zM88 452h5v4h-5zM97 452h10v4h-10zM129 452h14v4h-14zM175 452h5v4h-5zM184 452h5v4h-5zM193 452h10v4h-10zM221 452h4v4h-4zM234 452h10v4h-10zM248 452h9v4h-9zM271 452h5v4h-5zM317 452h4v4h-4zM344 452h18v4h-18zM399 452h5v4h-5zM477 452h4v4h-4zM536 452h5v4h-5zM550 452h4v4h-4zM568 452h5v4h-5zM577 452h9v4h-9zM591 452h4v4h-4zM627 452h5v4h-5zM636 452h19v4h-19zM687 452h1v4h-1zM47 456h5v5h-5zM61 456h4v5h-4zM93 456h4v5h-4zM102 456h5v5h-5zM129 456h5v5h-5zM175 456h9v5h-9zM189 456h4v5h-4zM198 456h5v5h-5zM207 456h14v5h-14zM225 456h5v5h-5zM234 456h19v5h-19zM271 456h5v5h-5zM280 456h5v5h-5zM317 456h4v5h-4zM340 456h13v5h-13zM376 456h9v5h-9zM404 456h9v5h-9zM463 456h4v5h-4zM490 456h9v5h-9zM541 456h22v5h-22zM595 456h5v5h-5zM641 456h18v5h-18zM673 456h5v5h-5zM47 461h5v5h-5zM56 461h9v5h-9zM129 461h5v5h-5zM143 461h5v5h-5zM152 461h9v5h-9zM189 461h9v5h-9zM203 461h18v5h-18zM225 461h5v5h-5zM244 461h22v5h-22zM276 461h4v5h-4zM317 461h9v5h-9zM358 461h4v5h-4zM372 461h4v5h-4zM385 461h5v5h-5zM404 461h4v5h-4zM413 461h27v5h-27zM449 461h5v5h-5zM458 461h5v5h-5zM467 461h5v5h-5zM477 461h4v5h-4zM499 461h10v5h-10zM536 461h5v5h-5zM559 461h4v5h-4zM646 461h13v5h-13zM668 461h5v5h-5zM43 466h4v4h-4zM52 466h13v4h-13zM107 466h4v4h-4zM139 466h4v4h-4zM157 466h9v4h-9zM203 466h4v4h-4zM212 466h4v4h-4zM225 466h5v4h-5zM271 466h5v4h-5zM317 466h23v4h-23zM408 466h14v4h-14zM426 466h5v4h-5zM445 466h13v4h-13zM463 466h4v4h-4zM472 466h5v4h-5zM531 466h5v4h-5zM550 466h9v4h-9zM646 466h9v4h-9zM664 466h4v4h-4zM682 466h6v4h-6zM52 470h4v5h-4zM65 470h5v5h-5zM111 470h14v5h-14zM198 470h14v5h-14zM257 470h9v5h-9zM271 470h5v5h-5zM312 470h5v5h-5zM321 470h9v5h-9zM408 470h5v5h-5zM422 470h9v5h-9zM454 470h13v5h-13zM477 470h9v5h-9zM531 470h5v5h-5zM554 470h5v5h-5zM582 470h4v5h-4zM623 470h4v5h-4zM668 470h10v5h-10zM32 475h29v4h-29zM79 475h9v4h-9zM102 475h14v4h-14zM120 475h23v4h-23zM161 475h5v4h-5zM184 475h5v4h-5zM193 475h14v4h-14zM244 475h4v4h-4zM271 475h5v4h-5zM312 475h5v4h-5zM326 475h4v4h-4zM353 475h5v4h-5zM408 475h14v4h-14zM426 475h5v4h-5zM467 475h5v4h-5zM509 475h4v4h-4zM536 475h5v4h-5zM554 475h5v4h-5zM568 475h18v4h-18zM627 475h5v4h-5zM655 475h4v4h-4zM56 479h5v3h-5zM70 479h5v3h-5zM79 479h9v3h-9zM111 479h9v3h-9zM125 479h14v3h-14zM143 479h5v3h-5zM180 479h4v3h-4zM193 479h5v3h-5zM207 479h9v3h-9zM239 479h18v3h-18zM262 479h4v3h-4zM276 479h9v3h-9zM289 479h5v3h-5zM298 479h14v3h-14zM426 479h5v3h-5zM504 479h9v3h-9zM522 479h5v3h-5zM536 479h5v3h-5zM563 479h5v3h-5zM573 479h9v3h-9zM591 479h4v3h-4zM627 479h9v3h-9zM646 479h9v3h-9zM659 479h5v3h-5z"/><path fill="#ffefa5" d="M43 26h4v1h-4zM152 26h5v1h-5zM193 26h5v1h-5zM257 26h5v1h-5zM280 26h5v1h-5zM312 26h5v1h-5zM372 26h4v1h-4zM426 26h5v1h-5zM472 26h14v1h-14zM490 26h5v1h-5zM513 26h9v1h-9zM614 26h4v1h-4zM636 26h5v1h-5zM646 26h4v1h-4zM43 27h4v5h-4zM75 27h4v5h-4zM88 27h5v5h-5zM116 27h4v5h-4zM129 27h5v5h-5zM152 27h5v5h-5zM180 27h4v5h-4zM207 27h14v5h-14zM234 27h5v5h-5zM244 27h9v5h-9zM257 27h5v5h-5zM280 27h9v5h-9zM298 27h5v5h-5zM321 27h5v5h-5zM330 27h14v5h-14zM367 27h5v5h-5zM413 27h9v5h-9zM445 27h4v5h-4zM472 27h5v5h-5zM481 27h5v5h-5zM513 27h5v5h-5zM559 27h9v5h-9zM591 27h4v5h-4zM632 27h4v5h-4zM646 27h4v5h-4zM668 27h14v5h-14zM38 32h5v4h-5zM79 32h5v4h-5zM125 32h4v4h-4zM152 32h5v4h-5zM175 32h9v4h-9zM193 32h5v4h-5zM216 32h14v4h-14zM253 32h4v4h-4zM289 32h14v4h-14zM317 32h4v4h-4zM349 32h4v4h-4zM417 32h5v4h-5zM463 32h4v4h-4zM477 32h4v4h-4zM495 32h4v4h-4zM513 32h5v4h-5zM609 32h5v4h-5zM623 32h4v4h-4zM632 32h4v4h-4zM673 32h5v4h-5zM32 36h20v5h-20zM61 36h4v5h-4zM93 36h9v5h-9zM139 36h9v5h-9zM152 36h5v5h-5zM166 36h5v5h-5zM180 36h9v5h-9zM221 36h4v5h-4zM276 36h4v5h-4zM298 36h5v5h-5zM317 36h4v5h-4zM335 36h5v5h-5zM349 36h4v5h-4zM362 36h5v5h-5zM431 36h4v5h-4zM467 36h14v5h-14zM495 36h4v5h-4zM509 36h13v5h-13zM527 36h4v5h-4zM591 36h4v5h-4zM38 41h5v4h-5zM88 41h5v4h-5zM120 41h9v4h-9zM166 41h5v4h-5zM193 41h10v4h-10zM225 41h5v4h-5zM257 41h5v4h-5zM276 41h4v4h-4zM294 41h9v4h-9zM317 41h4v4h-4zM330 41h5v4h-5zM344 41h5v4h-5zM362 41h5v4h-5zM426 41h14v4h-14zM445 41h13v4h-13zM536 41h5v4h-5zM568 41h9v4h-9zM632 41h4v4h-4zM650 41h5v4h-5zM88 45h5v5h-5zM125 45h4v5h-4zM230 45h4v5h-4zM298 45h5v5h-5zM312 45h5v5h-5zM321 45h9v5h-9zM376 45h5v5h-5zM408 45h5v5h-5zM458 45h5v5h-5zM467 45h10v5h-10zM504 45h5v5h-5zM531 45h10v5h-10zM550 45h4v5h-4zM568 45h14v5h-14zM646 45h9v5h-9zM84 50h4v5h-4zM116 50h13v5h-13zM166 50h5v5h-5zM180 50h4v5h-4zM203 50h4v5h-4zM225 50h5v5h-5zM276 50h4v5h-4zM298 50h5v5h-5zM312 50h5v5h-5zM326 50h9v5h-9zM340 50h4v5h-4zM353 50h5v5h-5zM381 50h4v5h-4zM408 50h5v5h-5zM458 50h5v5h-5zM472 50h5v5h-5zM504 50h5v5h-5zM522 50h5v5h-5zM563 50h10v5h-10zM591 50h4v5h-4zM636 50h5v5h-5zM646 50h13v5h-13zM682 50h5v5h-5zM70 55h9v4h-9zM111 55h5v4h-5zM125 55h4v4h-4zM216 55h18v4h-18zM248 55h14v4h-14zM285 55h18v4h-18zM308 55h4v4h-4zM317 55h32v4h-32zM353 55h9v4h-9zM367 55h5v4h-5zM408 55h5v4h-5zM426 55h5v4h-5zM458 55h5v4h-5zM513 55h5v4h-5zM522 55h5v4h-5zM568 55h5v4h-5zM577 55h5v4h-5zM591 55h9v4h-9zM650 55h5v4h-5zM664 55h9v4h-9zM687 55h1v4h-1zM65 59h5v5h-5zM171 59h4v5h-4zM198 59h5v5h-5zM207 59h9v5h-9zM230 59h4v5h-4zM253 59h18v5h-18zM285 59h4v5h-4zM303 59h14v5h-14zM340 59h9v5h-9zM353 59h5v5h-5zM381 59h4v5h-4zM413 59h4v5h-4zM426 59h5v5h-5zM463 59h4v5h-4zM568 59h9v5h-9zM595 59h9v5h-9zM614 59h4v5h-4zM655 59h4v5h-4zM678 59h9v5h-9zM70 64h5v4h-5zM88 64h14v4h-14zM107 64h4v4h-4zM125 64h4v4h-4zM166 64h5v4h-5zM175 64h5v4h-5zM189 64h4v4h-4zM230 64h4v4h-4zM257 64h14v4h-14zM298 64h14v4h-14zM372 64h13v4h-13zM399 64h5v4h-5zM413 64h4v4h-4zM440 64h5v4h-5zM554 64h5v4h-5zM563 64h19v4h-19zM600 64h4v4h-4zM678 64h4v4h-4zM56 68h14v5h-14zM75 68h9v5h-9zM88 68h5v5h-5zM102 68h9v5h-9zM116 68h4v5h-4zM125 68h9v5h-9zM148 68h4v5h-4zM234 68h5v5h-5zM257 68h5v5h-5zM266 68h5v5h-5zM285 68h18v5h-18zM376 68h9v5h-9zM408 68h5v5h-5zM458 68h9v5h-9zM477 68h13v5h-13zM499 68h5v5h-5zM568 68h5v5h-5zM604 68h5v5h-5zM618 68h9v5h-9zM668 68h5v5h-5zM678 68h4v5h-4zM38 73h9v4h-9zM88 73h5v4h-5zM120 73h19v4h-19zM148 73h4v4h-4zM184 73h5v4h-5zM203 73h4v4h-4zM230 73h9v4h-9zM248 73h9v4h-9zM266 73h10v4h-10zM280 73h14v4h-14zM372 73h4v4h-4zM381 73h9v4h-9zM435 73h14v4h-14zM454 73h4v4h-4zM536 73h9v4h-9zM600 73h4v4h-4zM609 73h5v4h-5zM655 73h4v4h-4zM664 73h9v4h-9zM32 77h6v5h-6zM88 77h9v5h-9zM125 77h4v5h-4zM148 77h9v5h-9zM175 77h14v5h-14zM193 77h10v5h-10zM225 77h14v5h-14zM248 77h9v5h-9zM271 77h5v5h-5zM308 77h4v5h-4zM394 77h5v5h-5zM440 77h5v5h-5zM522 77h9v5h-9zM536 77h9v5h-9zM595 77h23v5h-23zM659 77h9v5h-9zM682 77h5v5h-5zM32 82h6v4h-6zM129 82h5v4h-5zM148 82h4v4h-4zM171 82h9v4h-9zM184 82h5v4h-5zM230 82h14v4h-14zM253 82h4v4h-4zM312 82h5v4h-5zM399 82h5v4h-5zM536 82h5v4h-5zM577 82h5v4h-5zM595 82h9v4h-9zM627 82h9v4h-9zM664 82h23v4h-23zM38 86h9v5h-9zM61 86h4v5h-4zM129 86h5v5h-5zM148 86h4v5h-4zM171 86h4v5h-4zM180 86h4v5h-4zM189 86h4v5h-4zM198 86h14v5h-14zM234 86h5v5h-5zM253 86h4v5h-4zM358 86h4v5h-4zM385 86h5v5h-5zM394 86h5v5h-5zM440 86h5v5h-5zM499 86h5v5h-5zM559 86h4v5h-4zM582 86h4v5h-4zM595 86h9v5h-9zM618 86h5v5h-5zM655 86h9v5h-9zM668 86h10v5h-10zM682 86h5v5h-5zM129 91h5v5h-5zM148 91h4v5h-4zM193 91h10v5h-10zM207 91h5v5h-5zM225 91h9v5h-9zM253 91h9v5h-9zM353 91h14v5h-14zM390 91h4v5h-4zM422 91h13v5h-13zM477 91h9v5h-9zM495 91h9v5h-9zM563 91h5v5h-5zM582 91h4v5h-4zM618 91h5v5h-5zM655 91h4v5h-4zM682 91h6v5h-6zM52 96h4v4h-4zM93 96h4v4h-4zM139 96h4v4h-4zM152 96h5v4h-5zM203 96h4v4h-4zM212 96h9v4h-9zM253 96h4v4h-4zM262 96h4v4h-4zM321 96h5v4h-5zM330 96h5v4h-5zM358 96h9v4h-9zM417 96h5v4h-5zM445 96h4v4h-4zM490 96h14v4h-14zM513 96h5v4h-5zM568 96h5v4h-5zM582 96h4v4h-4zM609 96h5v4h-5zM655 96h4v4h-4zM687 96h1v4h-1zM52 100h4v5h-4zM70 100h5v5h-5zM171 100h4v5h-4zM207 100h9v5h-9zM221 100h4v5h-4zM262 100h4v5h-4zM326 100h9v5h-9zM362 100h5v5h-5zM376 100h5v5h-5zM408 100h5v5h-5zM422 100h4v5h-4zM435 100h5v5h-5zM463 100h4v5h-4zM490 100h14v5h-14zM573 100h4v5h-4zM614 100h9v5h-9zM636 100h5v5h-5zM650 100h9v5h-9zM682 100h6v5h-6zM47 105h5v4h-5zM56 105h19v4h-19zM225 105h14v4h-14zM262 105h4v4h-4zM330 105h10v4h-10zM358 105h9v4h-9zM408 105h5v4h-5zM426 105h5v4h-5zM495 105h4v4h-4zM504 105h5v4h-5zM513 105h5v4h-5zM573 105h9v4h-9zM586 105h5v4h-5zM595 105h5v4h-5zM618 105h5v4h-5zM632 105h9v4h-9zM650 105h9v4h-9zM678 105h9v4h-9zM61 109h4v5h-4zM79 109h5v5h-5zM171 109h13v5h-13zM198 109h5v5h-5zM230 109h9v5h-9zM330 109h5v5h-5zM408 109h5v5h-5zM431 109h9v5h-9zM504 109h9v5h-9zM522 109h9v5h-9zM536 109h5v5h-5zM545 109h9v5h-9zM586 109h14v5h-14zM623 109h9v5h-9zM668 109h5v5h-5zM65 114h10v4h-10zM79 114h5v4h-5zM129 114h5v4h-5zM143 114h9v4h-9zM157 114h4v4h-4zM180 114h13v4h-13zM198 114h5v4h-5zM266 114h5v4h-5zM358 114h4v4h-4zM408 114h9v4h-9zM435 114h5v4h-5zM449 114h9v4h-9zM481 114h5v4h-5zM490 114h5v4h-5zM527 114h4v4h-4zM536 114h9v4h-9zM559 114h4v4h-4zM586 114h9v4h-9zM600 114h14v4h-14zM664 114h9v4h-9zM65 118h5v5h-5zM75 118h4v5h-4zM84 118h4v5h-4zM129 118h10v5h-10zM143 118h14v5h-14zM184 118h9v5h-9zM266 118h5v5h-5zM312 118h5v5h-5zM353 118h5v5h-5zM408 118h9v5h-9zM426 118h5v5h-5zM445 118h9v5h-9zM486 118h9v5h-9zM527 118h4v5h-4zM541 118h9v5h-9zM554 118h5v5h-5zM591 118h4v5h-4zM600 118h4v5h-4zM609 118h5v5h-5zM655 118h4v5h-4zM52 123h4v5h-4zM134 123h5v5h-5zM143 123h5v5h-5zM175 123h9v5h-9zM189 123h4v5h-4zM225 123h5v5h-5zM280 123h5v5h-5zM298 123h5v5h-5zM381 123h9v5h-9zM404 123h4v5h-4zM435 123h5v5h-5zM445 123h13v5h-13zM486 123h4v5h-4zM495 123h4v5h-4zM513 123h5v5h-5zM527 123h4v5h-4zM536 123h9v5h-9zM559 123h4v5h-4zM595 123h5v5h-5zM664 123h9v5h-9zM47 128h5v4h-5zM125 128h4v4h-4zM134 128h5v4h-5zM148 128h32v4h-32zM184 128h9v4h-9zM294 128h4v4h-4zM385 128h9v4h-9zM449 128h5v4h-5zM458 128h9v4h-9zM499 128h5v4h-5zM531 128h5v4h-5zM541 128h4v4h-4zM595 128h5v4h-5zM632 128h4v4h-4zM655 128h13v4h-13zM678 128h4v4h-4zM43 132h18v5h-18zM70 132h5v5h-5zM120 132h5v5h-5zM143 132h5v5h-5zM171 132h4v5h-4zM221 132h9v5h-9zM253 132h4v5h-4zM271 132h5v5h-5zM349 132h4v5h-4zM390 132h4v5h-4zM413 132h9v5h-9zM440 132h5v5h-5zM463 132h4v5h-4zM495 132h14v5h-14zM522 132h5v5h-5zM632 132h4v5h-4zM655 132h9v5h-9zM687 132h1v5h-1zM38 137h5v4h-5zM47 137h5v4h-5zM56 137h19v4h-19zM120 137h32v4h-32zM207 137h9v4h-9zM221 137h9v4h-9zM253 137h4v4h-4zM262 137h4v4h-4zM271 137h5v4h-5zM349 137h4v4h-4zM445 137h4v4h-4zM504 137h9v4h-9zM527 137h4v4h-4zM563 137h5v4h-5zM632 137h4v4h-4zM655 137h4v4h-4zM682 137h6v4h-6zM65 141h5v5h-5zM88 141h5v5h-5zM97 141h10v5h-10zM129 141h5v5h-5zM207 141h14v5h-14zM248 141h5v5h-5zM257 141h5v5h-5zM440 141h14v5h-14zM527 141h4v5h-4zM541 141h4v5h-4zM550 141h9v5h-9zM582 141h4v5h-4zM627 141h5v5h-5zM682 141h5v5h-5zM61 146h4v4h-4zM107 146h4v4h-4zM129 146h5v4h-5zM171 146h9v4h-9zM203 146h4v4h-4zM212 146h4v4h-4zM221 146h4v4h-4zM257 146h5v4h-5zM344 146h5v4h-5zM426 146h9v4h-9zM477 146h4v4h-4zM541 146h9v4h-9zM559 146h4v4h-4zM591 146h4v4h-4zM623 146h13v4h-13zM668 146h5v4h-5zM678 146h4v4h-4zM61 150h4v5h-4zM75 150h4v5h-4zM107 150h4v5h-4zM175 150h9v5h-9zM193 150h10v5h-10zM216 150h5v5h-5zM248 150h5v5h-5zM458 150h5v5h-5zM467 150h5v5h-5zM499 150h5v5h-5zM545 150h5v5h-5zM563 150h5v5h-5zM623 150h4v5h-4zM636 150h10v5h-10zM664 150h4v5h-4zM32 155h6v5h-6zM52 155h4v5h-4zM79 155h5v5h-5zM97 155h19v5h-19zM166 155h5v5h-5zM203 155h4v5h-4zM216 155h5v5h-5zM225 155h5v5h-5zM271 155h5v5h-5zM362 155h5v5h-5zM426 155h9v5h-9zM463 155h4v5h-4zM472 155h5v5h-5zM509 155h4v5h-4zM527 155h4v5h-4zM536 155h5v5h-5zM609 155h5v5h-5zM646 155h4v5h-4zM659 155h9v5h-9zM32 160h6v4h-6zM52 160h18v4h-18zM107 160h4v4h-4zM120 160h14v4h-14zM148 160h4v4h-4zM166 160h5v4h-5zM198 160h5v4h-5zM216 160h5v4h-5zM225 160h19v4h-19zM390 160h4v4h-4zM431 160h4v4h-4zM449 160h5v4h-5zM477 160h4v4h-4zM504 160h5v4h-5zM600 160h4v4h-4zM623 160h4v4h-4zM632 160h4v4h-4zM659 160h9v4h-9zM61 164h9v5h-9zM93 164h4v5h-4zM107 164h4v5h-4zM116 164h4v5h-4zM129 164h5v5h-5zM139 164h4v5h-4zM152 164h5v5h-5zM193 164h10v5h-10zM216 164h5v5h-5zM234 164h5v5h-5zM244 164h9v5h-9zM271 164h5v5h-5zM367 164h5v5h-5zM404 164h4v5h-4zM435 164h5v5h-5zM477 164h4v5h-4zM600 164h4v5h-4zM618 164h9v5h-9zM664 164h9v5h-9zM56 169h9v4h-9zM75 169h4v4h-4zM84 169h13v4h-13zM120 169h5v4h-5zM129 169h5v4h-5zM175 169h9v4h-9zM198 169h5v4h-5zM216 169h5v4h-5zM248 169h5v4h-5zM349 169h9v4h-9zM362 169h19v4h-19zM390 169h4v4h-4zM404 169h4v4h-4zM595 169h9v4h-9zM614 169h4v4h-4zM636 169h5v4h-5zM650 169h14v4h-14zM61 173h4v5h-4zM79 173h9v5h-9zM125 173h4v5h-4zM171 173h13v5h-13zM207 173h14v5h-14zM225 173h9v5h-9zM330 173h10v5h-10zM349 173h4v5h-4zM362 173h10v5h-10zM385 173h5v5h-5zM394 173h10v5h-10zM408 173h5v5h-5zM445 173h4v5h-4zM495 173h27v5h-27zM545 173h5v5h-5zM595 173h9v5h-9zM641 173h9v5h-9zM56 178h5v4h-5zM75 178h13v4h-13zM120 178h14v4h-14zM198 178h5v4h-5zM216 178h18v4h-18zM253 178h4v4h-4zM349 178h4v4h-4zM358 178h9v4h-9zM394 178h5v4h-5zM463 178h9v4h-9zM477 178h13v4h-13zM518 178h9v4h-9zM536 178h5v4h-5zM550 178h4v4h-4zM559 178h9v4h-9zM591 178h13v4h-13zM636 178h5v4h-5zM646 178h9v4h-9zM61 182h4v5h-4zM70 182h5v5h-5zM120 182h14v5h-14zM143 182h5v5h-5zM152 182h5v5h-5zM216 182h5v5h-5zM230 182h4v5h-4zM266 182h5v5h-5zM312 182h5v5h-5zM321 182h5v5h-5zM362 182h10v5h-10zM394 182h5v5h-5zM404 182h4v5h-4zM426 182h5v5h-5zM518 182h4v5h-4zM536 182h14v5h-14zM595 182h14v5h-14zM646 182h9v5h-9zM687 182h1v5h-1zM79 187h5v5h-5zM125 187h4v5h-4zM134 187h18v5h-18zM271 187h5v5h-5zM280 187h5v5h-5zM294 187h4v5h-4zM312 187h5v5h-5zM321 187h19v5h-19zM481 187h5v5h-5zM509 187h13v5h-13zM536 187h5v5h-5zM545 187h5v5h-5zM568 187h5v5h-5zM595 187h9v5h-9zM641 187h5v5h-5zM650 187h5v5h-5zM687 187h1v5h-1zM84 192h4v4h-4zM93 192h4v4h-4zM120 192h9v4h-9zM134 192h9v4h-9zM148 192h9v4h-9zM262 192h4v4h-4zM344 192h5v4h-5zM499 192h10v4h-10zM513 192h9v4h-9zM536 192h5v4h-5zM563 192h5v4h-5zM650 192h5v4h-5zM52 196h13v5h-13zM139 196h9v5h-9zM152 196h5v5h-5zM175 196h5v5h-5zM189 196h4v5h-4zM221 196h4v5h-4zM266 196h5v5h-5zM280 196h9v5h-9zM312 196h14v5h-14zM513 196h5v5h-5zM527 196h4v5h-4zM541 196h4v5h-4zM559 196h4v5h-4zM636 196h5v5h-5zM650 196h5v5h-5zM38 201h18v4h-18zM93 201h4v4h-4zM125 201h4v4h-4zM134 201h27v4h-27zM171 201h4v4h-4zM180 201h9v4h-9zM207 201h5v4h-5zM234 201h5v4h-5zM248 201h9v4h-9zM285 201h4v4h-4zM413 201h9v4h-9zM609 201h5v4h-5zM618 201h5v4h-5zM632 201h9v4h-9zM47 205h14v5h-14zM88 205h9v5h-9zM148 205h13v5h-13zM166 205h5v5h-5zM175 205h5v5h-5zM216 205h5v5h-5zM239 205h14v5h-14zM271 205h5v5h-5zM298 205h5v5h-5zM344 205h5v5h-5zM362 205h10v5h-10zM394 205h5v5h-5zM426 205h9v5h-9zM440 205h5v5h-5zM559 205h9v5h-9zM591 205h4v5h-4zM614 205h4v5h-4zM632 205h14v5h-14zM47 210h5v4h-5zM56 210h5v4h-5zM161 210h19v4h-19zM207 210h14v4h-14zM244 210h9v4h-9zM262 210h18v4h-18zM298 210h5v4h-5zM321 210h5v4h-5zM340 210h4v4h-4zM372 210h4v4h-4zM445 210h4v4h-4zM463 210h4v4h-4zM472 210h9v4h-9zM486 210h4v4h-4zM591 210h4v4h-4zM627 210h5v4h-5zM38 214h5v5h-5zM216 214h5v5h-5zM230 214h14v5h-14zM253 214h9v5h-9zM266 214h5v5h-5zM298 214h5v5h-5zM317 214h4v5h-4zM344 214h5v5h-5zM353 214h9v5h-9zM367 214h14v5h-14zM435 214h5v5h-5zM454 214h4v5h-4zM463 214h9v5h-9zM477 214h4v5h-4zM504 214h5v5h-5zM513 214h9v5h-9zM531 214h5v5h-5zM595 214h5v5h-5zM627 214h9v5h-9zM678 214h4v5h-4zM32 219h11v5h-11zM139 219h4v5h-4zM234 219h10v5h-10zM262 219h9v5h-9zM344 219h9v5h-9zM372 219h9v5h-9zM440 219h9v5h-9zM454 219h4v5h-4zM477 219h9v5h-9zM490 219h9v5h-9zM504 219h5v5h-5zM518 219h4v5h-4zM527 219h23v5h-23zM591 219h9v5h-9zM609 219h5v5h-5zM627 219h9v5h-9zM646 219h4v5h-4zM678 219h4v5h-4zM32 224h11v4h-11zM107 224h4v4h-4zM134 224h5v4h-5zM143 224h5v4h-5zM203 224h4v4h-4zM234 224h5v4h-5zM262 224h9v4h-9zM340 224h4v4h-4zM404 224h4v4h-4zM435 224h14v4h-14zM458 224h5v4h-5zM527 224h14v4h-14zM586 224h9v4h-9zM600 224h4v4h-4zM609 224h5v4h-5zM627 224h5v4h-5zM687 224h1v4h-1zM32 228h6v5h-6zM139 228h13v5h-13zM198 228h32v5h-32zM239 228h5v5h-5zM321 228h5v5h-5zM358 228h4v5h-4zM404 228h4v5h-4zM413 228h9v5h-9zM435 228h28v5h-28zM481 228h5v5h-5zM499 228h10v5h-10zM522 228h9v5h-9zM536 228h5v5h-5zM550 228h4v5h-4zM577 228h5v5h-5zM586 228h9v5h-9zM687 228h1v5h-1zM120 233h9v4h-9zM143 233h5v4h-5zM152 233h14v4h-14zM171 233h4v4h-4zM184 233h5v4h-5zM221 233h4v4h-4zM234 233h5v4h-5zM244 233h4v4h-4zM280 233h5v4h-5zM367 233h5v4h-5zM399 233h5v4h-5zM422 233h4v4h-4zM440 233h5v4h-5zM536 233h5v4h-5zM563 233h5v4h-5zM577 233h18v4h-18zM627 233h5v4h-5zM673 233h9v4h-9zM687 233h1v4h-1zM38 237h9v5h-9zM79 237h14v5h-14zM125 237h4v5h-4zM148 237h4v5h-4zM171 237h4v5h-4zM193 237h5v5h-5zM221 237h13v5h-13zM239 237h5v5h-5zM248 237h5v5h-5zM276 237h9v5h-9zM381 237h27v5h-27zM422 237h4v5h-4zM467 237h5v5h-5zM568 237h9v5h-9zM582 237h18v5h-18zM604 237h14v5h-14zM627 237h5v5h-5zM655 237h4v5h-4zM664 237h4v5h-4zM678 237h4v5h-4zM43 242h4v4h-4zM52 242h4v4h-4zM97 242h5v4h-5zM148 242h4v4h-4zM175 242h5v4h-5zM225 242h5v4h-5zM248 242h5v4h-5zM280 242h9v4h-9zM344 242h5v4h-5zM362 242h5v4h-5zM372 242h4v4h-4zM417 242h18v4h-18zM509 242h4v4h-4zM518 242h4v4h-4zM573 242h4v4h-4zM582 242h4v4h-4zM595 242h9v4h-9zM632 242h4v4h-4zM664 242h14v4h-14zM682 242h5v4h-5zM102 246h5v5h-5zM143 246h5v5h-5zM171 246h9v5h-9zM225 246h5v5h-5zM271 246h9v5h-9zM358 246h4v5h-4zM372 246h13v5h-13zM408 246h14v5h-14zM426 246h9v5h-9zM531 246h5v5h-5zM582 246h13v5h-13zM604 246h19v5h-19zM627 246h5v5h-5zM664 246h4v5h-4zM47 251h5v4h-5zM61 251h4v4h-4zM97 251h5v4h-5zM111 251h9v4h-9zM143 251h5v4h-5zM152 251h5v4h-5zM161 251h10v4h-10zM216 251h14v4h-14zM276 251h4v4h-4zM344 251h5v4h-5zM358 251h4v4h-4zM381 251h4v4h-4zM449 251h5v4h-5zM472 251h5v4h-5zM527 251h23v4h-23zM586 251h9v4h-9zM609 251h9v4h-9zM641 251h9v4h-9zM664 251h4v4h-4zM32 255h11v5h-11zM56 255h5v5h-5zM107 255h13v5h-13zM129 255h5v5h-5zM139 255h9v5h-9zM171 255h4v5h-4zM216 255h14v5h-14zM253 255h9v5h-9zM280 255h9v5h-9zM344 255h5v5h-5zM353 255h5v5h-5zM385 255h9v5h-9zM467 255h10v5h-10zM495 255h4v5h-4zM509 255h9v5h-9zM536 255h5v5h-5zM554 255h5v5h-5zM591 255h4v5h-4zM604 255h5v5h-5zM614 255h4v5h-4zM646 255h4v5h-4zM659 255h9v5h-9zM682 255h6v5h-6zM32 260h11v5h-11zM52 260h9v5h-9zM84 260h4v5h-4zM107 260h4v5h-4zM116 260h4v5h-4zM134 260h5v5h-5zM143 260h9v5h-9zM175 260h9v5h-9zM189 260h4v5h-4zM253 260h4v5h-4zM276 260h4v5h-4zM285 260h4v5h-4zM308 260h4v5h-4zM344 260h14v5h-14zM454 260h18v5h-18zM591 260h9v5h-9zM641 260h5v5h-5zM655 260h4v5h-4zM664 260h4v5h-4zM84 265h9v4h-9zM116 265h4v4h-4zM180 265h4v4h-4zM207 265h5v4h-5zM244 265h4v4h-4zM271 265h5v4h-5zM280 265h5v4h-5zM289 265h5v4h-5zM303 265h9v4h-9zM353 265h5v4h-5zM385 265h5v4h-5zM454 265h4v4h-4zM463 265h4v4h-4zM513 265h5v4h-5zM664 265h4v4h-4zM84 269h4v5h-4zM93 269h4v5h-4zM107 269h9v5h-9zM134 269h5v5h-5zM180 269h4v5h-4zM189 269h18v5h-18zM266 269h5v5h-5zM353 269h5v5h-5zM372 269h9v5h-9zM385 269h5v5h-5zM413 269h4v5h-4zM426 269h9v5h-9zM509 269h4v5h-4zM541 269h4v5h-4zM618 269h5v5h-5zM627 269h14v5h-14zM682 269h5v5h-5zM129 274h14v4h-14zM152 274h5v4h-5zM180 274h9v4h-9zM198 274h14v4h-14zM257 274h5v4h-5zM266 274h5v4h-5zM294 274h4v4h-4zM367 274h9v4h-9zM399 274h5v4h-5zM458 274h5v4h-5zM495 274h4v4h-4zM536 274h5v4h-5zM559 274h4v4h-4zM568 274h9v4h-9zM623 274h4v4h-4zM636 274h5v4h-5zM646 274h4v4h-4zM678 274h4v4h-4zM687 274h1v4h-1zM32 278h15v5h-15zM129 278h10v5h-10zM143 278h14v5h-14zM166 278h9v5h-9zM184 278h9v5h-9zM207 278h14v5h-14zM271 278h5v5h-5zM289 278h14v5h-14zM340 278h9v5h-9zM372 278h9v5h-9zM385 278h5v5h-5zM449 278h5v5h-5zM458 278h9v5h-9zM541 278h27v5h-27zM591 278h9v5h-9zM641 278h5v5h-5zM650 278h9v5h-9zM664 278h4v5h-4zM682 278h6v5h-6zM47 283h14v4h-14zM143 283h5v4h-5zM175 283h14v4h-14zM193 283h5v4h-5zM257 283h5v4h-5zM298 283h5v4h-5zM335 283h9v4h-9zM454 283h4v4h-4zM504 283h14v4h-14zM531 283h5v4h-5zM545 283h5v4h-5zM563 283h14v4h-14zM682 283h5v4h-5zM47 287h9v5h-9zM65 287h5v5h-5zM84 287h4v5h-4zM129 287h5v5h-5zM161 287h5v5h-5zM189 287h4v5h-4zM198 287h5v5h-5zM257 287h9v5h-9zM280 287h9v5h-9zM303 287h14v5h-14zM335 287h9v5h-9zM413 287h4v5h-4zM422 287h9v5h-9zM435 287h5v5h-5zM445 287h4v5h-4zM458 287h9v5h-9zM509 287h4v5h-4zM545 287h5v5h-5zM563 287h10v5h-10zM595 287h9v5h-9zM641 287h9v5h-9zM682 287h5v5h-5zM43 292h4v5h-4zM56 292h5v5h-5zM70 292h5v5h-5zM84 292h4v5h-4zM184 292h5v5h-5zM234 292h5v5h-5zM244 292h4v5h-4zM253 292h13v5h-13zM280 292h5v5h-5zM294 292h4v5h-4zM303 292h9v5h-9zM330 292h5v5h-5zM440 292h9v5h-9zM458 292h5v5h-5zM472 292h14v5h-14zM513 292h5v5h-5zM522 292h5v5h-5zM536 292h5v5h-5zM554 292h9v5h-9zM573 292h4v5h-4zM600 292h4v5h-4zM636 292h5v5h-5zM646 292h9v5h-9zM664 292h9v5h-9zM43 297h4v4h-4zM56 297h5v4h-5zM70 297h5v4h-5zM189 297h4v4h-4zM298 297h5v4h-5zM308 297h4v4h-4zM399 297h9v4h-9zM454 297h4v4h-4zM463 297h14v4h-14zM490 297h9v4h-9zM513 297h14v4h-14zM573 297h18v4h-18zM600 297h4v4h-4zM650 297h9v4h-9zM682 297h5v4h-5zM56 301h5v5h-5zM161 301h10v5h-10zM175 301h5v5h-5zM184 301h5v5h-5zM253 301h13v5h-13zM303 301h9v5h-9zM344 301h5v5h-5zM449 301h5v5h-5zM458 301h5v5h-5zM472 301h5v5h-5zM490 301h14v5h-14zM527 301h4v5h-4zM536 301h5v5h-5zM595 301h9v5h-9zM650 301h5v5h-5zM659 301h5v5h-5zM682 301h5v5h-5zM38 306h5v4h-5zM70 306h5v4h-5zM125 306h4v4h-4zM166 306h9v4h-9zM180 306h4v4h-4zM248 306h18v4h-18zM303 306h9v4h-9zM340 306h4v4h-4zM367 306h9v4h-9zM454 306h4v4h-4zM477 306h4v4h-4zM486 306h4v4h-4zM504 306h5v4h-5zM536 306h5v4h-5zM595 306h5v4h-5zM641 306h5v4h-5zM650 306h14v4h-14zM678 306h9v4h-9zM52 310h9v5h-9zM65 310h5v5h-5zM116 310h4v5h-4zM129 310h5v5h-5zM166 310h9v5h-9zM207 310h5v5h-5zM225 310h5v5h-5zM253 310h13v5h-13zM276 310h4v5h-4zM308 310h9v5h-9zM340 310h4v5h-4zM353 310h5v5h-5zM362 310h5v5h-5zM390 310h9v5h-9zM458 310h9v5h-9zM472 310h14v5h-14zM504 310h9v5h-9zM536 310h5v5h-5zM591 310h13v5h-13zM655 310h4v5h-4zM664 310h4v5h-4zM673 310h9v5h-9zM687 310h1v5h-1zM38 315h5v4h-5zM56 315h5v4h-5zM79 315h9v4h-9zM125 315h14v4h-14zM148 315h4v4h-4zM166 315h5v4h-5zM198 315h5v4h-5zM225 315h9v4h-9zM244 315h4v4h-4zM271 315h14v4h-14zM303 315h9v4h-9zM335 315h9v4h-9zM349 315h9v4h-9zM367 315h14v4h-14zM385 315h5v4h-5zM394 315h5v4h-5zM422 315h9v4h-9zM435 315h5v4h-5zM454 315h9v4h-9zM481 315h5v4h-5zM490 315h5v4h-5zM499 315h5v4h-5zM509 315h4v4h-4zM541 315h4v4h-4zM559 315h9v4h-9zM577 315h5v4h-5zM595 315h9v4h-9zM659 315h5v4h-5zM32 319h6v5h-6zM79 319h9v5h-9zM116 319h4v5h-4zM143 319h5v5h-5zM271 319h9v5h-9zM285 319h9v5h-9zM298 319h10v5h-10zM317 319h4v5h-4zM330 319h5v5h-5zM344 319h5v5h-5zM372 319h4v5h-4zM385 319h9v5h-9zM431 319h9v5h-9zM445 319h9v5h-9zM481 319h9v5h-9zM541 319h4v5h-4zM563 319h19v5h-19zM595 319h14v5h-14zM646 319h4v5h-4zM659 319h5v5h-5zM668 319h10v5h-10zM32 324h6v5h-6zM70 324h9v5h-9zM125 324h9v5h-9zM139 324h4v5h-4zM216 324h9v5h-9zM239 324h5v5h-5zM280 324h9v5h-9zM303 324h14v5h-14zM335 324h9v5h-9zM431 324h18v5h-18zM467 324h5v5h-5zM477 324h13v5h-13zM504 324h9v5h-9zM541 324h4v5h-4zM559 324h27v5h-27zM604 324h5v5h-5zM641 324h9v5h-9zM678 324h4v5h-4zM65 329h14v4h-14zM84 329h13v4h-13zM134 329h5v4h-5zM143 329h5v4h-5zM152 329h5v4h-5zM184 329h5v4h-5zM198 329h5v4h-5zM216 329h5v4h-5zM225 329h5v4h-5zM239 329h5v4h-5zM253 329h4v4h-4zM308 329h4v4h-4zM317 329h4v4h-4zM362 329h10v4h-10zM408 329h9v4h-9zM426 329h5v4h-5zM449 329h5v4h-5zM467 329h10v4h-10zM504 329h14v4h-14zM541 329h4v4h-4zM568 329h9v4h-9zM595 329h14v4h-14zM632 329h9v4h-9zM668 329h5v4h-5zM687 329h1v4h-1zM32 333h11v5h-11zM75 333h4v5h-4zM93 333h14v5h-14zM143 333h5v5h-5zM203 333h4v5h-4zM230 333h9v5h-9zM280 333h5v5h-5zM289 333h5v5h-5zM312 333h5v5h-5zM353 333h14v5h-14zM376 333h5v5h-5zM417 333h5v5h-5zM499 333h14v5h-14zM541 333h4v5h-4zM32 338h6v4h-6zM93 338h4v4h-4zM102 338h5v4h-5zM139 338h9v4h-9zM216 338h5v4h-5zM330 338h10v4h-10zM353 338h9v4h-9zM367 338h5v4h-5zM413 338h22v4h-22zM440 338h5v4h-5zM467 338h5v4h-5zM499 338h10v4h-10zM545 338h5v4h-5zM604 338h5v4h-5zM614 338h4v4h-4zM97 342h5v5h-5zM134 342h9v5h-9zM312 342h5v5h-5zM330 342h5v5h-5zM353 342h9v5h-9zM404 342h4v5h-4zM413 342h9v5h-9zM440 342h5v5h-5zM509 342h4v5h-4zM604 342h5v5h-5zM614 342h4v5h-4zM632 342h4v5h-4zM88 347h9v4h-9zM102 347h9v4h-9zM129 347h5v4h-5zM139 347h4v4h-4zM148 347h13v4h-13zM253 347h4v4h-4zM285 347h13v4h-13zM330 347h5v4h-5zM408 347h5v4h-5zM422 347h4v4h-4zM431 347h4v4h-4zM445 347h4v4h-4zM509 347h4v4h-4zM541 347h4v4h-4zM609 347h5v4h-5zM623 347h4v4h-4zM659 347h5v4h-5zM70 351h9v5h-9zM88 351h9v5h-9zM107 351h4v5h-4zM129 351h5v5h-5zM139 351h9v5h-9zM152 351h9v5h-9zM262 351h4v5h-4zM285 351h4v5h-4zM390 351h4v5h-4zM422 351h9v5h-9zM445 351h4v5h-4zM477 351h4v5h-4zM499 351h5v5h-5zM509 351h4v5h-4zM527 351h4v5h-4zM627 351h14v5h-14zM655 351h9v5h-9zM65 356h5v5h-5zM75 356h9v5h-9zM93 356h4v5h-4zM143 356h9v5h-9zM157 356h9v5h-9zM294 356h4v5h-4zM312 356h5v5h-5zM335 356h5v5h-5zM390 356h9v5h-9zM408 356h5v5h-5zM481 356h5v5h-5zM655 356h9v5h-9zM84 361h4v4h-4zM93 361h4v4h-4zM125 361h4v4h-4zM134 361h9v4h-9zM157 361h9v4h-9zM203 361h4v4h-4zM248 361h9v4h-9zM262 361h4v4h-4zM298 361h14v4h-14zM340 361h4v4h-4zM358 361h4v4h-4zM376 361h5v4h-5zM385 361h9v4h-9zM408 361h5v4h-5zM426 361h5v4h-5zM440 361h5v4h-5zM614 361h9v4h-9zM641 361h5v4h-5zM84 365h4v5h-4zM129 365h5v5h-5zM143 365h5v5h-5zM207 365h5v5h-5zM257 365h9v5h-9zM280 365h9v5h-9zM308 365h4v5h-4zM317 365h13v5h-13zM340 365h4v5h-4zM376 365h5v5h-5zM385 365h5v5h-5zM413 365h4v5h-4zM431 365h4v5h-4zM458 365h14v5h-14zM536 365h5v5h-5zM678 365h4v5h-4zM102 370h5v4h-5zM125 370h9v4h-9zM139 370h9v4h-9zM203 370h9v4h-9zM257 370h9v4h-9zM276 370h9v4h-9zM312 370h14v4h-14zM344 370h5v4h-5zM358 370h4v4h-4zM381 370h4v4h-4zM390 370h4v4h-4zM408 370h5v4h-5zM440 370h5v4h-5zM531 370h5v4h-5zM541 370h4v4h-4zM636 370h5v4h-5zM646 370h4v4h-4zM659 370h5v4h-5zM668 370h5v4h-5zM97 374h10v5h-10zM129 374h5v5h-5zM143 374h5v5h-5zM157 374h4v5h-4zM216 374h9v5h-9zM248 374h5v5h-5zM276 374h9v5h-9zM308 374h9v5h-9zM349 374h4v5h-4zM404 374h4v5h-4zM531 374h14v5h-14zM577 374h5v5h-5zM655 374h9v5h-9zM668 374h5v5h-5zM102 379h5v4h-5zM129 379h5v4h-5zM184 379h9v4h-9zM207 379h9v4h-9zM239 379h5v4h-5zM394 379h5v4h-5zM531 379h10v4h-10zM573 379h4v4h-4zM659 379h5v4h-5zM668 379h5v4h-5zM682 379h5v4h-5zM97 383h5v5h-5zM107 383h13v5h-13zM129 383h5v5h-5zM139 383h4v5h-4zM166 383h5v5h-5zM184 383h5v5h-5zM212 383h4v5h-4zM248 383h5v5h-5zM262 383h4v5h-4zM276 383h4v5h-4zM303 383h5v5h-5zM321 383h5v5h-5zM367 383h9v5h-9zM394 383h5v5h-5zM404 383h9v5h-9zM486 383h4v5h-4zM577 383h9v5h-9zM614 383h4v5h-4zM623 383h4v5h-4zM664 383h4v5h-4zM32 388h6v5h-6zM97 388h5v5h-5zM107 388h13v5h-13zM148 388h9v5h-9zM161 388h5v5h-5zM175 388h5v5h-5zM216 388h5v5h-5zM234 388h5v5h-5zM244 388h4v5h-4zM257 388h9v5h-9zM271 388h14v5h-14zM303 388h5v5h-5zM394 388h19v5h-19zM472 388h5v5h-5zM509 388h4v5h-4zM527 388h4v5h-4zM568 388h9v5h-9zM582 388h13v5h-13zM627 388h5v5h-5zM56 393h5v4h-5zM93 393h4v4h-4zM134 393h9v4h-9zM180 393h4v4h-4zM216 393h5v4h-5zM262 393h4v4h-4zM271 393h14v4h-14zM326 393h4v4h-4zM358 393h4v4h-4zM367 393h5v4h-5zM408 393h5v4h-5zM417 393h9v4h-9zM467 393h5v4h-5zM477 393h4v4h-4zM490 393h5v4h-5zM582 393h9v4h-9zM614 393h4v4h-4zM627 393h23v4h-23zM668 393h5v4h-5zM116 397h9v5h-9zM134 397h9v5h-9zM216 397h5v5h-5zM234 397h5v5h-5zM317 397h4v5h-4zM362 397h10v5h-10zM376 397h5v5h-5zM399 397h9v5h-9zM413 397h9v5h-9zM481 397h5v5h-5zM490 397h5v5h-5zM573 397h4v5h-4zM586 397h9v5h-9zM614 397h4v5h-4zM632 397h4v5h-4zM646 397h4v5h-4zM673 397h5v5h-5zM52 402h4v4h-4zM61 402h9v4h-9zM139 402h13v4h-13zM212 402h4v4h-4zM285 402h4v4h-4zM312 402h5v4h-5zM330 402h5v4h-5zM340 402h13v4h-13zM362 402h19v4h-19zM404 402h4v4h-4zM413 402h13v4h-13zM490 402h5v4h-5zM513 402h9v4h-9zM573 402h13v4h-13zM627 402h5v4h-5zM636 402h14v4h-14zM682 402h5v4h-5zM32 406h11v5h-11zM61 406h9v5h-9zM79 406h9v5h-9zM129 406h14v5h-14zM280 406h9v5h-9zM294 406h14v5h-14zM321 406h5v5h-5zM353 406h19v5h-19zM381 406h4v5h-4zM404 406h9v5h-9zM477 406h4v5h-4zM490 406h9v5h-9zM554 406h5v5h-5zM582 406h9v5h-9zM32 411h11v4h-11zM203 411h4v4h-4zM212 411h4v4h-4zM280 411h5v4h-5zM298 411h10v4h-10zM367 411h14v4h-14zM404 411h9v4h-9zM477 411h22v4h-22zM573 411h4v4h-4zM623 411h9v4h-9zM79 415h9v5h-9zM248 415h5v5h-5zM257 415h5v5h-5zM312 415h5v5h-5zM358 415h18v5h-18zM431 415h4v5h-4zM445 415h9v5h-9zM573 415h4v5h-4zM614 415h4v5h-4zM627 415h5v5h-5zM79 420h9v5h-9zM248 420h5v5h-5zM362 420h10v5h-10zM426 420h5v5h-5zM440 420h5v5h-5zM449 420h5v5h-5zM554 420h5v5h-5zM573 420h4v5h-4zM627 420h5v5h-5zM664 420h4v5h-4zM79 425h5v4h-5zM93 425h4v4h-4zM253 425h4v4h-4zM367 425h5v4h-5zM445 425h4v4h-4zM531 425h5v4h-5zM554 425h5v4h-5zM568 425h9v4h-9zM93 429h4v5h-4zM253 429h4v5h-4zM326 429h9v5h-9zM454 429h4v5h-4zM522 429h14v5h-14zM563 429h14v5h-14zM673 429h5v5h-5zM47 434h5v4h-5zM84 434h9v4h-9zM193 434h5v4h-5zM463 434h4v4h-4zM527 434h14v4h-14zM545 434h9v4h-9zM678 434h4v4h-4zM43 438h4v5h-4zM70 438h5v5h-5zM79 438h14v5h-14zM193 438h10v5h-10zM289 438h5v5h-5zM321 438h5v5h-5zM330 438h5v5h-5zM367 438h5v5h-5zM435 438h10v5h-10zM467 438h5v5h-5zM541 438h4v5h-4zM550 438h9v5h-9zM577 438h5v5h-5zM586 438h5v5h-5zM673 438h9v5h-9zM43 443h4v4h-4zM65 443h5v4h-5zM75 443h4v4h-4zM84 443h4v4h-4zM93 443h4v4h-4zM180 443h18v4h-18zM244 443h4v4h-4zM253 443h4v4h-4zM326 443h4v4h-4zM367 443h5v4h-5zM376 443h5v4h-5zM467 443h5v4h-5zM531 443h5v4h-5zM559 443h4v4h-4zM577 443h14v4h-14zM636 443h5v4h-5zM664 443h4v4h-4zM61 447h9v5h-9zM93 447h9v5h-9zM107 447h9v5h-9zM180 447h13v5h-13zM244 447h4v5h-4zM253 447h27v5h-27zM349 447h4v5h-4zM362 447h5v5h-5zM522 447h5v5h-5zM531 447h10v5h-10zM545 447h14v5h-14zM573 447h18v5h-18zM646 447h4v5h-4zM682 447h6v5h-6zM56 452h5v4h-5zM65 452h5v4h-5zM93 452h4v4h-4zM107 452h4v4h-4zM116 452h9v4h-9zM180 452h4v4h-4zM189 452h4v4h-4zM244 452h4v4h-4zM276 452h4v4h-4zM340 452h4v4h-4zM362 452h5v4h-5zM381 452h13v4h-13zM678 452h9v4h-9zM52 456h4v5h-4zM65 456h5v5h-5zM107 456h4v5h-4zM125 456h4v5h-4zM134 456h5v5h-5zM193 456h5v5h-5zM221 456h4v5h-4zM230 456h4v5h-4zM253 456h9v5h-9zM266 456h5v5h-5zM353 456h14v5h-14zM481 456h9v5h-9zM682 456h6v5h-6zM52 461h4v5h-4zM125 461h4v5h-4zM134 461h9v5h-9zM148 461h4v5h-4zM221 461h4v5h-4zM266 461h10v5h-10zM353 461h5v5h-5zM362 461h5v5h-5zM481 461h9v5h-9zM495 461h4v5h-4zM541 461h9v5h-9zM554 461h5v5h-5zM673 461h5v5h-5zM682 461h5v5h-5zM111 466h5v4h-5zM120 466h5v4h-5zM143 466h9v4h-9zM216 466h9v4h-9zM262 466h9v4h-9zM276 466h4v4h-4zM353 466h14v4h-14zM422 466h4v4h-4zM435 466h5v4h-5zM458 466h5v4h-5zM481 466h9v4h-9zM495 466h9v4h-9zM509 466h22v4h-22zM545 466h5v4h-5zM668 466h10v4h-10zM70 470h5v5h-5zM107 470h4v5h-4zM139 470h9v5h-9zM157 470h4v5h-4zM212 470h13v5h-13zM266 470h5v5h-5zM276 470h4v5h-4zM317 470h4v5h-4zM330 470h5v5h-5zM353 470h5v5h-5zM367 470h5v5h-5zM417 470h5v5h-5zM431 470h14v5h-14zM486 470h4v5h-4zM504 470h9v5h-9zM527 470h4v5h-4zM536 470h5v5h-5zM545 470h9v5h-9zM61 475h4v4h-4zM116 475h4v4h-4zM143 475h5v4h-5zM189 475h4v4h-4zM207 475h18v4h-18zM262 475h9v4h-9zM317 475h9v4h-9zM376 475h5v4h-5zM431 475h4v4h-4zM445 475h22v4h-22zM504 475h5v4h-5zM513 475h5v4h-5zM522 475h5v4h-5zM541 475h4v4h-4zM32 479h6v3h-6zM43 479h13v3h-13zM65 479h5v3h-5zM120 479h5v3h-5zM139 479h4v3h-4zM148 479h4v3h-4zM161 479h5v3h-5zM184 479h9v3h-9zM198 479h9v3h-9zM271 479h5v3h-5zM312 479h14v3h-14zM353 479h5v3h-5zM431 479h4v3h-4zM440 479h18v3h-18zM499 479h5v3h-5zM513 479h9v3h-9zM554 479h5v3h-5zM568 479h5v3h-5zM655 479h4v3h-4z"/><path fill="#ffeb9c" d="M32 26h11v1h-11zM75 26h4v1h-4zM88 26h5v1h-5zM116 26h4v1h-4zM129 26h5v1h-5zM198 26h5v1h-5zM216 26h9v1h-9zM230 26h4v1h-4zM248 26h5v1h-5zM276 26h4v1h-4zM317 26h4v1h-4zM376 26h9v1h-9zM522 26h5v1h-5zM568 26h5v1h-5zM591 26h4v1h-4zM600 26h4v1h-4zM609 26h5v1h-5zM668 26h10v1h-10zM32 27h11v5h-11zM79 27h9v5h-9zM175 27h5v5h-5zM203 27h4v5h-4zM221 27h13v5h-13zM262 27h4v5h-4zM326 27h4v5h-4zM372 27h13v5h-13zM449 27h5v5h-5zM463 27h9v5h-9zM486 27h4v5h-4zM518 27h9v5h-9zM595 27h19v5h-19zM32 32h6v4h-6zM157 32h4v4h-4zM198 32h5v4h-5zM257 32h9v4h-9zM276 32h4v4h-4zM335 32h9v4h-9zM367 32h5v4h-5zM376 32h9v4h-9zM486 32h9v4h-9zM518 32h9v4h-9zM531 32h10v4h-10zM550 32h4v4h-4zM600 32h4v4h-4zM646 32h4v4h-4zM52 36h9v5h-9zM102 36h5v5h-5zM175 36h5v5h-5zM198 36h5v5h-5zM257 36h5v5h-5zM280 36h18v5h-18zM321 36h5v5h-5zM340 36h9v5h-9zM367 36h5v5h-5zM385 36h5v5h-5zM458 36h9v5h-9zM486 36h9v5h-9zM595 36h5v5h-5zM614 36h22v5h-22zM646 36h4v5h-4zM687 36h1v5h-1zM32 41h6v4h-6zM43 41h4v4h-4zM61 41h4v4h-4zM93 41h4v4h-4zM129 41h5v4h-5zM143 41h14v4h-14zM161 41h5v4h-5zM171 41h4v4h-4zM221 41h4v4h-4zM262 41h4v4h-4zM289 41h5v4h-5zM321 41h9v4h-9zM376 41h9v4h-9zM394 41h5v4h-5zM458 41h9v4h-9zM477 41h13v4h-13zM495 41h9v4h-9zM541 41h9v4h-9zM591 41h9v4h-9zM614 41h9v4h-9zM641 41h9v4h-9zM38 45h5v5h-5zM61 45h4v5h-4zM93 45h4v5h-4zM120 45h5v5h-5zM129 45h5v5h-5zM166 45h5v5h-5zM180 45h4v5h-4zM203 45h4v5h-4zM221 45h9v5h-9zM262 45h4v5h-4zM271 45h5v5h-5zM294 45h4v5h-4zM317 45h4v5h-4zM358 45h9v5h-9zM372 45h4v5h-4zM404 45h4v5h-4zM426 45h5v5h-5zM435 45h10v5h-10zM481 45h9v5h-9zM499 45h5v5h-5zM545 45h5v5h-5zM554 45h9v5h-9zM595 45h19v5h-19zM632 45h4v5h-4zM655 45h9v5h-9zM32 50h6v5h-6zM61 50h4v5h-4zM88 50h5v5h-5zM111 50h5v5h-5zM129 50h10v5h-10zM175 50h5v5h-5zM317 50h9v5h-9zM344 50h5v5h-5zM358 50h4v5h-4zM367 50h5v5h-5zM385 50h5v5h-5zM404 50h4v5h-4zM435 50h10v5h-10zM477 50h4v5h-4zM527 50h4v5h-4zM559 50h4v5h-4zM573 50h4v5h-4zM595 50h23v5h-23zM632 50h4v5h-4zM659 50h5v5h-5zM61 55h9v4h-9zM79 55h9v4h-9zM97 55h5v4h-5zM171 55h9v4h-9zM203 55h4v4h-4zM212 55h4v4h-4zM262 55h4v4h-4zM312 55h5v4h-5zM362 55h5v4h-5zM445 55h4v4h-4zM454 55h4v4h-4zM472 55h5v4h-5zM504 55h5v4h-5zM559 55h9v4h-9zM573 55h4v4h-4zM614 55h13v4h-13zM632 55h4v4h-4zM655 55h4v4h-4zM70 59h5v5h-5zM79 59h9v5h-9zM97 59h10v5h-10zM166 59h5v5h-5zM175 59h9v5h-9zM203 59h4v5h-4zM271 59h5v5h-5zM289 59h14v5h-14zM399 59h14v5h-14zM440 59h5v5h-5zM458 59h5v5h-5zM467 59h5v5h-5zM504 59h5v5h-5zM522 59h5v5h-5zM550 59h4v5h-4zM627 59h5v5h-5zM673 59h5v5h-5zM56 64h5v4h-5zM65 64h5v4h-5zM79 64h5v4h-5zM129 64h5v4h-5zM171 64h4v4h-4zM184 64h5v4h-5zM193 64h5v4h-5zM203 64h4v4h-4zM271 64h5v4h-5zM285 64h13v4h-13zM426 64h14v4h-14zM445 64h4v4h-4zM463 64h4v4h-4zM490 64h9v4h-9zM509 64h4v4h-4zM518 64h9v4h-9zM614 64h4v4h-4zM627 64h5v4h-5zM636 64h5v4h-5zM659 64h9v4h-9zM32 68h6v5h-6zM52 68h4v5h-4zM84 68h4v5h-4zM120 68h5v5h-5zM134 68h5v5h-5zM143 68h5v5h-5zM152 68h5v5h-5zM166 68h9v5h-9zM189 68h4v5h-4zM203 68h4v5h-4zM262 68h4v5h-4zM271 68h14v5h-14zM367 68h5v5h-5zM404 68h4v5h-4zM445 68h9v5h-9zM467 68h10v5h-10zM527 68h4v5h-4zM541 68h4v5h-4zM563 68h5v5h-5zM577 68h5v5h-5zM627 68h9v5h-9zM659 68h9v5h-9zM61 73h4v4h-4zM70 73h9v4h-9zM143 73h5v4h-5zM157 73h4v4h-4zM166 73h14v4h-14zM189 73h14v4h-14zM276 73h4v4h-4zM376 73h5v4h-5zM449 73h5v4h-5zM499 73h10v4h-10zM527 73h9v4h-9zM614 73h4v4h-4zM641 73h9v4h-9zM659 73h5v4h-5zM678 73h10v4h-10zM79 77h9v5h-9zM129 77h5v5h-5zM143 77h5v5h-5zM171 77h4v5h-4zM312 77h5v5h-5zM385 77h9v5h-9zM445 77h13v5h-13zM499 77h5v5h-5zM531 77h5v5h-5zM577 77h5v5h-5zM632 77h4v5h-4zM646 77h13v5h-13zM668 77h5v5h-5zM93 82h4v4h-4zM157 82h14v4h-14zM207 82h5v4h-5zM244 82h4v4h-4zM385 82h5v4h-5zM394 82h5v4h-5zM522 82h5v4h-5zM609 82h9v4h-9zM636 82h28v4h-28zM32 86h6v5h-6zM93 86h4v5h-4zM120 86h5v5h-5zM184 86h5v5h-5zM225 86h9v5h-9zM244 86h4v5h-4zM390 86h4v5h-4zM445 86h4v5h-4zM454 86h4v5h-4zM504 86h5v5h-5zM577 86h5v5h-5zM614 86h4v5h-4zM646 86h4v5h-4zM678 86h4v5h-4zM32 91h11v5h-11zM93 91h4v5h-4zM143 91h5v5h-5zM171 91h4v5h-4zM184 91h5v5h-5zM221 91h4v5h-4zM244 91h9v5h-9zM435 91h5v5h-5zM454 91h4v5h-4zM486 91h4v5h-4zM504 91h14v5h-14zM568 91h5v5h-5zM577 91h5v5h-5zM604 91h5v5h-5zM623 91h9v5h-9zM673 91h9v5h-9zM32 96h11v4h-11zM171 96h4v4h-4zM198 96h5v4h-5zM207 96h5v4h-5zM221 96h9v4h-9zM257 96h5v4h-5zM422 96h13v4h-13zM472 96h5v4h-5zM573 96h9v4h-9zM614 96h13v4h-13zM641 96h5v4h-5zM650 96h5v4h-5zM673 96h5v4h-5zM61 100h9v5h-9zM93 100h4v5h-4zM139 100h9v5h-9zM203 100h4v5h-4zM225 100h5v5h-5zM257 100h5v5h-5zM426 100h9v5h-9zM467 100h5v5h-5zM632 100h4v5h-4zM678 100h4v5h-4zM38 105h5v4h-5zM88 105h5v4h-5zM139 105h4v4h-4zM152 105h5v4h-5zM198 105h9v4h-9zM431 105h4v4h-4zM463 105h4v4h-4zM486 105h4v4h-4zM509 105h4v4h-4zM627 105h5v4h-5zM47 109h5v5h-5zM75 109h4v5h-4zM139 109h4v5h-4zM152 109h5v5h-5zM203 109h4v5h-4zM458 109h5v5h-5zM481 109h9v5h-9zM513 109h5v5h-5zM52 114h4v4h-4zM152 114h5v4h-5zM193 114h5v4h-5zM230 114h4v4h-4zM431 114h4v4h-4zM440 114h9v4h-9zM477 114h4v4h-4zM486 114h4v4h-4zM545 114h5v4h-5zM554 114h5v4h-5zM595 114h5v4h-5zM32 118h6v5h-6zM56 118h5v5h-5zM125 118h4v5h-4zM175 118h9v5h-9zM221 118h4v5h-4zM230 118h4v5h-4zM417 118h5v5h-5zM435 118h10v5h-10zM454 118h4v5h-4zM481 118h5v5h-5zM509 118h4v5h-4zM522 118h5v5h-5zM550 118h4v5h-4zM595 118h5v5h-5zM604 118h5v5h-5zM43 123h9v5h-9zM125 123h9v5h-9zM148 123h4v5h-4zM193 123h5v5h-5zM390 123h4v5h-4zM408 123h14v5h-14zM458 123h5v5h-5zM490 123h5v5h-5zM545 123h9v5h-9zM43 128h4v4h-4zM129 128h5v4h-5zM139 128h9v4h-9zM180 128h4v4h-4zM481 128h18v4h-18zM509 128h4v4h-4zM527 128h4v4h-4zM536 128h5v4h-5zM559 128h4v4h-4zM668 128h10v4h-10zM125 132h9v5h-9zM148 132h4v5h-4zM467 132h5v5h-5zM486 132h4v5h-4zM531 132h10v5h-10zM664 132h4v5h-4zM678 132h9v5h-9zM32 137h6v4h-6zM43 137h4v4h-4zM52 137h4v4h-4zM171 137h4v4h-4zM472 137h5v4h-5zM531 137h10v4h-10zM554 137h9v4h-9zM664 137h4v4h-4zM61 141h4v5h-4zM171 141h4v5h-4zM477 141h4v5h-4zM531 141h10v5h-10zM545 141h5v5h-5zM559 141h4v5h-4zM595 141h5v5h-5zM678 141h4v5h-4zM88 146h9v4h-9zM157 146h9v4h-9zM445 146h4v4h-4zM454 146h4v4h-4zM527 146h4v4h-4zM536 146h5v4h-5zM563 146h5v4h-5zM595 146h5v4h-5zM673 146h5v4h-5zM65 150h10v5h-10zM166 150h5v5h-5zM435 150h10v5h-10zM454 150h4v5h-4zM472 150h5v5h-5zM504 150h5v5h-5zM541 150h4v5h-4zM627 150h9v5h-9zM61 155h9v5h-9zM171 155h4v5h-4zM180 155h4v5h-4zM198 155h5v5h-5zM435 155h19v5h-19zM467 155h5v5h-5zM499 155h5v5h-5zM623 155h23v5h-23zM650 155h9v5h-9zM70 160h5v4h-5zM97 160h10v4h-10zM171 160h4v4h-4zM184 160h5v4h-5zM193 160h5v4h-5zM221 160h4v4h-4zM394 160h10v4h-10zM426 160h5v4h-5zM435 160h5v4h-5zM445 160h4v4h-4zM467 160h10v4h-10zM499 160h5v4h-5zM614 160h9v4h-9zM627 160h5v4h-5zM636 160h5v4h-5zM646 160h13v4h-13zM56 164h5v5h-5zM70 164h18v5h-18zM97 164h10v5h-10zM120 164h9v5h-9zM175 164h5v5h-5zM184 164h9v5h-9zM225 164h5v5h-5zM390 164h4v5h-4zM440 164h9v5h-9zM463 164h4v5h-4zM614 164h4v5h-4zM636 164h5v5h-5zM646 164h4v5h-4zM655 164h9v5h-9zM65 169h5v4h-5zM79 169h5v4h-5zM125 169h4v4h-4zM171 169h4v4h-4zM221 169h13v4h-13zM244 169h4v4h-4zM394 169h10v4h-10zM440 169h9v4h-9zM458 169h9v4h-9zM472 169h5v4h-5zM646 169h4v4h-4zM65 173h14v5h-14zM203 173h4v5h-4zM358 173h4v5h-4zM372 173h9v5h-9zM413 173h4v5h-4zM458 173h14v5h-14zM61 178h14v4h-14zM203 178h13v4h-13zM248 178h5v4h-5zM317 178h4v4h-4zM381 178h9v4h-9zM404 178h9v4h-9zM417 178h5v4h-5zM445 178h18v4h-18zM472 178h5v4h-5zM490 178h9v4h-9zM504 178h14v4h-14zM527 178h9v4h-9zM545 178h5v4h-5zM554 178h5v4h-5zM568 178h5v4h-5zM641 178h5v4h-5zM32 182h6v5h-6zM65 182h5v5h-5zM75 182h4v5h-4zM157 182h9v5h-9zM225 182h5v5h-5zM239 182h5v5h-5zM253 182h4v5h-4zM372 182h4v5h-4zM390 182h4v5h-4zM399 182h5v5h-5zM408 182h5v5h-5zM440 182h5v5h-5zM449 182h5v5h-5zM463 182h4v5h-4zM486 182h32v5h-32zM522 182h14v5h-14zM550 182h4v5h-4zM573 182h4v5h-4zM641 182h5v5h-5zM152 187h9v5h-9zM230 187h4v5h-4zM257 187h9v5h-9zM317 187h4v5h-4zM358 187h4v5h-4zM390 187h4v5h-4zM399 187h9v5h-9zM431 187h4v5h-4zM522 187h9v5h-9zM550 187h4v5h-4zM646 187h4v5h-4zM129 192h5v4h-5zM248 192h9v4h-9zM303 192h14v4h-14zM330 192h5v4h-5zM340 192h4v4h-4zM353 192h5v4h-5zM449 192h5v4h-5zM458 192h5v4h-5zM486 192h4v4h-4zM509 192h4v4h-4zM527 192h9v4h-9zM545 192h9v4h-9zM559 192h4v4h-4zM641 192h9v4h-9zM125 196h9v5h-9zM257 196h9v5h-9zM271 196h9v5h-9zM294 196h4v5h-4zM303 196h5v5h-5zM353 196h5v5h-5zM390 196h4v5h-4zM404 196h4v5h-4zM518 196h9v5h-9zM536 196h5v5h-5zM545 196h5v5h-5zM554 196h5v5h-5zM641 196h9v5h-9zM32 201h6v4h-6zM56 201h5v4h-5zM129 201h5v4h-5zM175 201h5v4h-5zM225 201h5v4h-5zM294 201h4v4h-4zM303 201h5v4h-5zM372 201h4v4h-4zM385 201h5v4h-5zM404 201h4v4h-4zM550 201h9v4h-9zM586 201h5v4h-5zM614 201h4v4h-4zM646 201h4v4h-4zM32 205h15v5h-15zM257 205h5v5h-5zM303 205h14v5h-14zM326 205h14v5h-14zM349 205h4v5h-4zM390 205h4v5h-4zM454 205h4v5h-4zM513 205h5v5h-5zM573 205h4v5h-4zM609 205h5v5h-5zM623 205h4v5h-4zM239 210h5v4h-5zM253 210h9v4h-9zM312 210h9v4h-9zM330 210h10v4h-10zM349 210h4v4h-4zM358 210h14v4h-14zM467 210h5v4h-5zM490 210h9v4h-9zM573 210h4v4h-4zM614 210h13v4h-13zM32 214h6v5h-6zM262 214h4v5h-4zM303 214h5v5h-5zM312 214h5v5h-5zM321 214h5v5h-5zM349 214h4v5h-4zM362 214h5v5h-5zM440 214h14v5h-14zM472 214h5v5h-5zM490 214h9v5h-9zM591 214h4v5h-4zM614 214h4v5h-4zM623 214h4v5h-4zM308 219h9v5h-9zM321 219h5v5h-5zM340 219h4v5h-4zM435 219h5v5h-5zM449 219h5v5h-5zM499 219h5v5h-5zM522 219h5v5h-5zM614 219h4v5h-4zM623 219h4v5h-4zM326 224h4v4h-4zM509 224h13v4h-13zM582 224h4v4h-4zM595 224h5v4h-5zM618 224h9v4h-9zM641 224h9v4h-9zM408 228h5v5h-5zM531 228h5v5h-5zM563 228h5v5h-5zM604 228h10v5h-10zM623 228h4v5h-4zM32 233h6v4h-6zM129 233h5v4h-5zM225 233h5v4h-5zM404 233h9v4h-9zM417 233h5v4h-5zM445 233h4v4h-4zM454 233h4v4h-4zM463 233h4v4h-4zM531 233h5v4h-5zM573 233h4v4h-4zM595 233h5v4h-5zM604 233h14v4h-14zM32 237h6v5h-6zM152 237h9v5h-9zM216 237h5v5h-5zM285 237h4v5h-4zM367 237h9v5h-9zM408 237h5v5h-5zM435 237h5v5h-5zM504 237h5v5h-5zM536 237h5v5h-5zM577 237h5v5h-5zM600 237h4v5h-4zM659 237h5v5h-5zM673 237h5v5h-5zM79 242h5v4h-5zM93 242h4v4h-4zM157 242h4v4h-4zM166 242h5v4h-5zM276 242h4v4h-4zM349 242h9v4h-9zM376 242h14v4h-14zM394 242h5v4h-5zM404 242h13v4h-13zM435 242h5v4h-5zM463 242h4v4h-4zM513 242h5v4h-5zM522 242h9v4h-9zM541 242h4v4h-4zM586 242h9v4h-9zM618 242h5v4h-5zM627 242h5v4h-5zM650 242h5v4h-5zM38 246h9v5h-9zM79 246h5v5h-5zM93 246h9v5h-9zM157 246h14v5h-14zM349 246h9v5h-9zM385 246h9v5h-9zM404 246h4v5h-4zM440 246h5v5h-5zM449 246h9v5h-9zM527 246h4v5h-4zM536 246h5v5h-5zM623 246h4v5h-4zM646 246h4v5h-4zM32 251h15v4h-15zM79 251h5v4h-5zM349 251h9v4h-9zM385 251h9v4h-9zM404 251h4v4h-4zM659 251h5v4h-5zM43 255h13v5h-13zM79 255h5v5h-5zM102 255h5v5h-5zM148 255h4v5h-4zM394 255h10v5h-10zM499 255h10v5h-10zM609 255h5v5h-5zM650 255h5v5h-5zM43 260h9v5h-9zM88 260h5v5h-5zM139 260h4v5h-4zM280 260h5v5h-5zM495 260h4v5h-4zM513 260h5v5h-5zM614 260h4v5h-4zM659 260h5v5h-5zM687 260h1v5h-1zM38 265h5v4h-5zM47 265h5v4h-5zM93 265h23v4h-23zM139 265h4v4h-4zM184 265h9v4h-9zM276 265h4v4h-4zM294 265h9v4h-9zM390 265h4v4h-4zM458 265h5v4h-5zM509 265h4v4h-4zM591 265h4v4h-4zM682 265h6v4h-6zM97 269h10v5h-10zM116 269h4v5h-4zM143 269h9v5h-9zM239 269h14v5h-14zM271 269h9v5h-9zM294 269h4v5h-4zM381 269h4v5h-4zM495 269h4v5h-4zM586 269h9v5h-9zM32 274h6v4h-6zM107 274h4v4h-4zM148 274h4v4h-4zM189 274h9v4h-9zM239 274h5v4h-5zM248 274h5v4h-5zM271 274h5v4h-5zM285 274h4v4h-4zM385 274h5v4h-5zM404 274h4v4h-4zM417 274h23v4h-23zM504 274h9v4h-9zM582 274h9v4h-9zM641 274h5v4h-5zM682 274h5v4h-5zM193 278h10v5h-10zM390 278h9v5h-9zM445 278h4v5h-4zM454 278h4v5h-4zM499 278h14v5h-14zM568 278h9v5h-9zM582 278h9v5h-9zM646 278h4v5h-4zM668 278h14v5h-14zM38 283h9v4h-9zM166 283h9v4h-9zM198 283h5v4h-5zM207 283h5v4h-5zM289 283h5v4h-5zM394 283h5v4h-5zM449 283h5v4h-5zM458 283h9v4h-9zM518 283h13v4h-13zM550 283h4v4h-4zM577 283h9v4h-9zM591 283h4v4h-4zM646 283h9v4h-9zM664 283h18v4h-18zM43 287h4v5h-4zM56 287h9v5h-9zM180 287h4v5h-4zM289 287h14v5h-14zM326 287h9v5h-9zM394 287h5v5h-5zM431 287h4v5h-4zM440 287h5v5h-5zM449 287h5v5h-5zM513 287h5v5h-5zM527 287h9v5h-9zM550 287h4v5h-4zM559 287h4v5h-4zM573 287h9v5h-9zM586 287h9v5h-9zM659 287h5v5h-5zM668 287h5v5h-5zM687 287h1v5h-1zM38 292h5v5h-5zM61 292h4v5h-4zM88 292h5v5h-5zM180 292h4v5h-4zM408 292h5v5h-5zM463 292h4v5h-4zM518 292h4v5h-4zM582 292h4v5h-4zM591 292h4v5h-4zM655 292h9v5h-9zM687 292h1v5h-1zM32 297h11v4h-11zM166 297h5v4h-5zM175 297h5v4h-5zM303 297h5v4h-5zM477 297h4v4h-4zM486 297h4v4h-4zM527 297h14v4h-14zM591 297h9v4h-9zM659 297h9v4h-9zM70 301h5v5h-5zM180 301h4v5h-4zM454 301h4v5h-4zM477 301h4v5h-4zM531 301h5v5h-5zM56 306h14v4h-14zM175 306h5v4h-5zM449 306h5v4h-5zM481 306h5v4h-5zM600 306h4v4h-4zM646 306h4v4h-4zM687 306h1v4h-1zM61 310h4v5h-4zM125 310h4v5h-4zM234 310h5v5h-5zM244 310h4v5h-4zM367 310h5v5h-5zM431 310h9v5h-9zM454 310h4v5h-4zM641 310h5v5h-5zM650 310h5v5h-5zM659 310h5v5h-5zM668 310h5v5h-5zM682 310h5v5h-5zM120 315h5v4h-5zM248 315h9v4h-9zM266 315h5v4h-5zM312 315h5v4h-5zM362 315h5v4h-5zM381 315h4v4h-4zM390 315h4v4h-4zM431 315h4v4h-4zM449 315h5v4h-5zM477 315h4v4h-4zM504 315h5v4h-5zM632 315h14v4h-14zM655 315h4v4h-4zM664 315h9v4h-9zM682 315h5v4h-5zM47 319h5v5h-5zM125 319h9v5h-9zM225 319h5v5h-5zM239 319h18v5h-18zM308 319h9v5h-9zM335 319h5v5h-5zM381 319h4v5h-4zM440 319h5v5h-5zM477 319h4v5h-4zM490 319h5v5h-5zM504 319h9v5h-9zM632 319h14v5h-14zM650 319h5v5h-5zM678 319h4v5h-4zM79 324h14v5h-14zM134 324h5v5h-5zM266 324h5v5h-5zM490 324h14v5h-14zM632 324h9v5h-9zM668 324h5v5h-5zM682 324h6v5h-6zM32 329h6v4h-6zM79 329h5v4h-5zM125 329h4v4h-4zM221 329h4v4h-4zM257 329h9v4h-9zM280 329h5v4h-5zM312 329h5v4h-5zM372 329h4v4h-4zM445 329h4v4h-4zM495 329h9v4h-9zM148 333h9v5h-9zM198 333h5v5h-5zM216 333h5v5h-5zM367 333h9v5h-9zM399 333h18v5h-18zM426 333h9v5h-9zM440 333h14v5h-14zM97 338h5v4h-5zM148 338h9v4h-9zM308 338h4v4h-4zM344 338h9v4h-9zM362 338h5v4h-5zM372 338h4v4h-4zM404 338h4v4h-4zM449 338h5v4h-5zM541 338h4v4h-4zM102 342h5v5h-5zM143 342h14v5h-14zM335 342h5v5h-5zM344 342h9v5h-9zM390 342h4v5h-4zM445 342h9v5h-9zM609 342h5v5h-5zM303 347h5v4h-5zM335 347h18v4h-18zM413 347h9v4h-9zM435 347h10v4h-10zM499 347h5v4h-5zM614 347h9v4h-9zM687 347h1v4h-1zM116 351h4v5h-4zM125 351h4v5h-4zM148 351h4v5h-4zM253 351h9v5h-9zM289 351h23v5h-23zM335 351h9v5h-9zM349 351h4v5h-4zM413 351h9v5h-9zM431 351h14v5h-14zM481 351h5v5h-5zM504 351h5v5h-5zM609 351h5v5h-5zM623 351h4v5h-4zM687 351h1v5h-1zM84 356h9v5h-9zM116 356h9v5h-9zM152 356h5v5h-5zM244 356h22v5h-22zM298 356h14v5h-14zM353 356h5v5h-5zM413 356h22v5h-22zM440 356h5v5h-5zM614 356h4v5h-4zM627 356h14v5h-14zM687 356h1v5h-1zM79 361h5v4h-5zM294 361h4v4h-4zM335 361h5v4h-5zM381 361h4v4h-4zM394 361h10v4h-10zM413 361h4v4h-4zM431 361h9v4h-9zM623 361h18v4h-18zM134 365h9v5h-9zM212 365h13v5h-13zM344 365h5v5h-5zM358 365h4v5h-4zM381 365h4v5h-4zM394 365h5v5h-5zM404 365h9v5h-9zM417 365h5v5h-5zM541 365h4v5h-4zM673 365h5v5h-5zM134 370h5v4h-5zM212 370h4v4h-4zM221 370h4v4h-4zM394 370h5v4h-5zM404 370h4v4h-4zM458 370h5v4h-5zM536 370h5v4h-5zM678 370h4v4h-4zM207 374h9v5h-9zM394 374h10v5h-10zM664 374h4v5h-4zM673 374h9v5h-9zM399 379h9v4h-9zM632 379h4v4h-4zM673 379h9v4h-9zM125 383h4v5h-4zM189 383h4v5h-4zM207 383h5v5h-5zM216 383h5v5h-5zM234 383h14v5h-14zM399 383h5v5h-5zM573 383h4v5h-4zM618 383h5v5h-5zM673 383h5v5h-5zM682 383h5v5h-5zM125 388h9v5h-9zM143 388h5v5h-5zM157 388h4v5h-4zM184 388h5v5h-5zM239 388h5v5h-5zM362 388h19v5h-19zM490 388h5v5h-5zM577 388h5v5h-5zM614 388h4v5h-4zM623 388h4v5h-4zM668 388h10v5h-10zM687 388h1v5h-1zM116 393h9v4h-9zM129 393h5v4h-5zM143 393h5v4h-5zM184 393h9v4h-9zM198 393h5v4h-5zM362 393h5v4h-5zM372 393h13v4h-13zM399 393h9v4h-9zM413 393h4v4h-4zM481 393h9v4h-9zM568 393h5v4h-5zM618 393h5v4h-5zM125 397h9v5h-9zM152 397h5v5h-5zM184 397h14v5h-14zM321 397h5v5h-5zM408 397h5v5h-5zM422 397h9v5h-9zM486 397h4v5h-4zM582 397h4v5h-4zM618 397h14v5h-14zM636 397h10v5h-10zM678 397h4v5h-4zM120 402h14v4h-14zM189 402h9v4h-9zM207 402h5v4h-5zM262 402h4v4h-4zM321 402h5v4h-5zM408 402h5v4h-5zM481 402h5v4h-5zM559 402h4v4h-4zM614 402h13v4h-13zM632 402h4v4h-4zM687 402h1v4h-1zM120 406h9v5h-9zM189 406h4v5h-4zM203 406h4v5h-4zM372 406h9v5h-9zM481 406h9v5h-9zM559 406h4v5h-4zM573 406h9v5h-9zM627 406h5v5h-5zM84 411h9v4h-9zM193 411h10v4h-10zM568 411h5v4h-5zM614 411h4v4h-4zM253 415h4v5h-4zM440 415h5v5h-5zM568 415h5v5h-5zM623 415h4v5h-4zM88 420h5v5h-5zM253 420h9v5h-9zM445 420h4v5h-4zM568 420h5v5h-5zM84 425h4v4h-4zM257 425h5v4h-5zM449 425h5v4h-5zM527 425h4v4h-4zM559 425h9v4h-9zM79 429h14v5h-14zM257 429h5v5h-5zM79 434h5v4h-5zM326 438h4v5h-4zM372 443h4v4h-4zM545 443h14v4h-14zM111 452h5v4h-5zM257 452h14v4h-14zM367 452h5v4h-5zM376 452h5v4h-5zM139 456h4v5h-4zM262 456h4v5h-4zM367 456h9v5h-9zM678 456h4v5h-4zM107 461h9v5h-9zM367 461h5v5h-5zM490 461h5v5h-5zM550 461h4v5h-4zM678 461h4v5h-4zM687 461h1v5h-1zM116 466h4v4h-4zM152 466h5v4h-5zM367 466h5v4h-5zM440 466h5v4h-5zM477 466h4v4h-4zM490 466h5v4h-5zM536 466h9v4h-9zM678 466h4v4h-4zM148 470h4v5h-4zM358 470h9v5h-9zM413 470h4v5h-4zM445 470h4v5h-4zM490 470h14v5h-14zM513 470h14v5h-14zM541 470h4v5h-4zM65 475h5v4h-5zM148 475h13v4h-13zM358 475h18v4h-18zM435 475h10v4h-10zM486 475h4v4h-4zM499 475h5v4h-5zM518 475h4v4h-4zM550 475h4v4h-4zM38 479h5v3h-5zM61 479h4v3h-4zM152 479h9v3h-9zM358 479h4v3h-4zM367 479h14v3h-14zM435 479h5v3h-5zM458 479h9v3h-9zM541 479h4v3h-4z"/><path fill="#ffe794" d="M175 26h5v1h-5zM225 26h5v1h-5zM253 26h4v1h-4zM262 26h4v1h-4zM271 26h5v1h-5zM449 26h23v1h-23zM486 26h4v1h-4zM527 26h4v1h-4zM595 26h5v1h-5zM604 26h5v1h-5zM641 26h5v1h-5zM120 27h9v5h-9zM198 27h5v5h-5zM271 27h9v5h-9zM435 27h10v5h-10zM458 27h5v5h-5zM490 27h5v5h-5zM536 27h5v5h-5zM545 27h5v5h-5zM554 27h5v5h-5zM636 27h5v5h-5zM111 32h5v4h-5zM120 32h5v4h-5zM161 32h10v4h-10zM207 32h9v4h-9zM248 32h5v4h-5zM271 32h5v4h-5zM321 32h5v4h-5zM344 32h5v4h-5zM372 32h4v4h-4zM390 32h4v4h-4zM408 32h5v4h-5zM527 32h4v4h-4zM545 32h5v4h-5zM595 32h5v4h-5zM604 32h5v4h-5zM107 36h4v5h-4zM120 36h5v5h-5zM157 36h9v5h-9zM212 36h9v5h-9zM262 36h14v5h-14zM330 36h5v5h-5zM381 36h4v5h-4zM541 36h9v5h-9zM600 36h9v5h-9zM641 36h5v5h-5zM97 41h5v4h-5zM116 41h4v4h-4zM134 41h5v4h-5zM180 41h9v4h-9zM203 41h9v4h-9zM216 41h5v4h-5zM271 41h5v4h-5zM367 41h9v4h-9zM390 41h4v4h-4zM467 41h10v4h-10zM490 41h5v4h-5zM609 41h5v4h-5zM682 41h5v4h-5zM43 45h4v5h-4zM56 45h5v5h-5zM116 45h4v5h-4zM134 45h5v5h-5zM157 45h9v5h-9zM171 45h9v5h-9zM207 45h5v5h-5zM367 45h5v5h-5zM399 45h5v5h-5zM431 45h4v5h-4zM445 45h13v5h-13zM477 45h4v5h-4zM541 45h4v5h-4zM618 45h5v5h-5zM627 45h5v5h-5zM38 50h5v5h-5zM97 50h5v5h-5zM152 50h5v5h-5zM171 50h4v5h-4zM207 50h9v5h-9zM221 50h4v5h-4zM262 50h14v5h-14zM362 50h5v5h-5zM426 50h5v5h-5zM449 50h5v5h-5zM481 50h14v5h-14zM499 50h5v5h-5zM531 50h28v5h-28zM618 50h9v5h-9zM32 55h11v4h-11zM102 55h9v4h-9zM134 55h9v4h-9zM180 55h4v4h-4zM207 55h5v4h-5zM266 55h19v4h-19zM394 55h5v4h-5zM404 55h4v4h-4zM435 55h10v4h-10zM477 55h4v4h-4zM550 55h9v4h-9zM600 55h4v4h-4zM627 55h5v4h-5zM659 55h5v4h-5zM32 59h6v5h-6zM61 59h4v5h-4zM75 59h4v5h-4zM107 59h4v5h-4zM116 59h4v5h-4zM139 59h9v5h-9zM276 59h9v5h-9zM431 59h9v5h-9zM445 59h13v5h-13zM472 59h5v5h-5zM527 59h4v5h-4zM545 59h5v5h-5zM554 59h14v5h-14zM609 59h5v5h-5zM632 59h4v5h-4zM659 59h9v5h-9zM32 64h6v4h-6zM84 64h4v4h-4zM102 64h5v4h-5zM134 64h18v4h-18zM180 64h4v4h-4zM276 64h9v4h-9zM449 64h14v4h-14zM467 64h14v4h-14zM486 64h4v4h-4zM499 64h5v4h-5zM609 64h5v4h-5zM632 64h4v4h-4zM668 64h5v4h-5zM682 64h6v4h-6zM38 68h14v5h-14zM139 68h4v5h-4zM175 68h14v5h-14zM198 68h5v5h-5zM372 68h4v5h-4zM454 68h4v5h-4zM504 68h5v5h-5zM522 68h5v5h-5zM531 68h10v5h-10zM609 68h9v5h-9zM636 68h5v5h-5zM682 68h5v5h-5zM139 73h4v4h-4zM161 73h5v4h-5zM180 73h4v4h-4zM522 73h5v4h-5zM563 73h14v4h-14zM627 73h14v4h-14zM61 77h4v5h-4zM75 77h4v5h-4zM134 77h9v5h-9zM157 77h14v5h-14zM280 77h5v5h-5zM623 77h4v5h-4zM636 77h10v5h-10zM61 82h4v4h-4zM79 82h5v4h-5zM88 82h5v4h-5zM143 82h5v4h-5zM248 82h5v4h-5zM390 82h4v4h-4zM449 82h9v4h-9zM499 82h10v4h-10zM143 86h5v5h-5zM248 86h5v5h-5zM330 86h5v5h-5zM518 86h4v5h-4zM563 86h5v5h-5zM604 86h10v5h-10zM636 86h10v5h-10zM650 86h5v5h-5zM61 91h9v5h-9zM88 91h5v5h-5zM134 91h9v5h-9zM175 91h9v5h-9zM189 91h4v5h-4zM440 91h9v5h-9zM573 91h4v5h-4zM609 91h9v5h-9zM632 91h14v5h-14zM650 91h5v5h-5zM56 96h14v4h-14zM143 96h9v4h-9zM180 96h18v4h-18zM435 96h5v4h-5zM477 96h13v4h-13zM627 96h14v4h-14zM678 96h9v4h-9zM32 100h11v5h-11zM56 100h5v5h-5zM111 100h5v5h-5zM148 100h4v5h-4zM198 100h5v5h-5zM472 100h5v5h-5zM481 100h9v5h-9zM623 100h9v5h-9zM673 100h5v5h-5zM75 105h13v4h-13zM143 105h9v4h-9zM175 105h5v4h-5zM184 105h5v4h-5zM481 105h5v4h-5zM38 109h5v5h-5zM52 109h9v5h-9zM143 109h9v5h-9zM184 109h5v5h-5zM193 109h5v5h-5zM477 109h4v5h-4zM518 109h4v5h-4zM32 114h11v4h-11zM56 114h5v4h-5zM458 114h5v4h-5zM513 114h5v4h-5zM550 114h4v4h-4zM38 118h9v5h-9zM52 118h4v5h-4zM317 118h4v5h-4zM458 118h5v5h-5zM477 118h4v5h-4zM513 118h9v5h-9zM38 123h5v5h-5zM481 123h5v5h-5zM554 123h5v5h-5zM38 128h5v4h-5zM467 128h5v4h-5zM545 128h5v4h-5zM554 128h5v4h-5zM38 132h5v5h-5zM139 132h4v5h-4zM152 132h19v5h-19zM527 132h4v5h-4zM541 132h4v5h-4zM559 132h4v5h-4zM668 132h5v5h-5zM152 137h5v4h-5zM166 137h5v4h-5zM481 137h5v4h-5zM541 137h9v4h-9zM678 137h4v4h-4zM152 141h5v5h-5zM166 141h5v5h-5zM668 141h10v5h-10zM166 146h5v4h-5zM449 146h5v4h-5zM531 146h5v4h-5zM171 150h4v5h-4zM449 150h5v5h-5zM531 150h10v5h-10zM175 155h5v5h-5zM184 155h14v5h-14zM504 155h5v5h-5zM531 155h5v5h-5zM79 160h5v4h-5zM175 160h9v4h-9zM189 160h4v4h-4zM385 160h5v4h-5zM440 160h5v4h-5zM171 164h4v5h-4zM180 164h4v5h-4zM221 164h4v5h-4zM230 164h4v5h-4zM239 164h5v5h-5zM394 164h10v5h-10zM449 164h5v5h-5zM467 164h10v5h-10zM559 164h4v5h-4zM641 164h5v5h-5zM650 164h5v5h-5zM234 169h10v4h-10zM426 169h5v4h-5zM449 169h9v4h-9zM641 169h5v4h-5zM234 173h5v5h-5zM244 173h9v5h-9zM454 173h4v5h-4zM234 178h10v4h-10zM372 178h9v4h-9zM390 178h4v4h-4zM499 178h5v4h-5zM385 182h5v5h-5zM413 182h4v5h-4zM422 182h4v5h-4zM445 182h4v5h-4zM454 182h9v5h-9zM467 182h14v5h-14zM554 182h19v5h-19zM248 187h9v5h-9zM276 187h4v5h-4zM362 187h10v5h-10zM385 187h5v5h-5zM394 187h5v5h-5zM440 187h5v5h-5zM463 187h9v5h-9zM531 187h5v5h-5zM554 187h9v5h-9zM298 192h5v4h-5zM321 192h9v4h-9zM454 192h4v4h-4zM463 192h4v4h-4zM495 192h4v4h-4zM239 196h5v5h-5zM248 196h5v5h-5zM308 196h4v5h-4zM349 196h4v5h-4zM367 196h5v5h-5zM394 196h5v5h-5zM413 196h9v5h-9zM454 196h4v5h-4zM467 196h5v5h-5zM486 196h4v5h-4zM550 196h4v5h-4zM308 201h13v4h-13zM394 201h10v4h-10zM422 201h4v4h-4zM513 201h5v4h-5zM536 201h5v4h-5zM641 201h5v4h-5zM253 205h4v5h-4zM353 205h9v5h-9zM458 205h5v5h-5zM477 205h4v5h-4zM499 205h5v5h-5zM518 205h9v5h-9zM550 205h9v5h-9zM577 205h14v5h-14zM32 210h11v4h-11zM303 210h5v4h-5zM326 210h4v4h-4zM344 210h5v4h-5zM353 210h5v4h-5zM504 210h5v4h-5zM559 210h4v4h-4zM308 214h4v5h-4zM335 214h5v5h-5zM499 214h5v5h-5zM522 214h9v5h-9zM541 214h9v5h-9zM568 214h5v5h-5zM618 214h5v5h-5zM271 219h5v5h-5zM326 219h9v5h-9zM586 219h5v5h-5zM330 224h10v4h-10zM550 224h4v4h-4zM568 224h5v4h-5zM577 224h5v4h-5zM614 224h4v4h-4zM554 228h9v5h-9zM595 228h9v5h-9zM614 228h9v5h-9zM148 233h4v4h-4zM413 233h4v4h-4zM449 233h5v4h-5zM458 233h5v4h-5zM504 233h5v4h-5zM527 233h4v4h-4zM600 233h4v4h-4zM623 233h4v4h-4zM161 237h5v5h-5zM376 237h5v5h-5zM413 237h4v5h-4zM440 237h9v5h-9zM454 237h13v5h-13zM522 237h5v5h-5zM618 237h5v5h-5zM32 242h11v4h-11zM88 242h5v4h-5zM161 242h5v4h-5zM171 242h4v4h-4zM390 242h4v4h-4zM399 242h5v4h-5zM449 242h14v4h-14zM531 242h10v4h-10zM623 242h4v4h-4zM659 242h5v4h-5zM32 246h6v5h-6zM636 246h5v5h-5zM650 246h9v5h-9zM93 251h4v4h-4zM234 251h5v4h-5zM399 251h5v4h-5zM650 251h9v4h-9zM84 255h4v5h-4zM655 255h4v5h-4zM93 260h14v5h-14zM509 260h4v5h-4zM143 265h5v4h-5zM495 265h4v4h-4zM518 265h4v4h-4zM139 269h4v5h-4zM184 269h5v5h-5zM390 269h4v5h-4zM687 269h1v5h-1zM143 274h5v4h-5zM244 274h4v4h-4zM390 274h9v4h-9zM408 274h9v4h-9zM499 274h5v4h-5zM541 274h4v4h-4zM591 274h4v4h-4zM203 278h4v5h-4zM399 278h9v5h-9zM417 278h5v5h-5zM426 278h19v5h-19zM536 278h5v5h-5zM32 283h6v4h-6zM203 283h4v4h-4zM294 283h4v4h-4zM422 283h9v4h-9zM435 283h14v4h-14zM554 283h9v4h-9zM586 283h5v4h-5zM655 283h9v4h-9zM32 287h11v5h-11zM175 287h5v5h-5zM221 287h4v5h-4zM518 287h4v5h-4zM582 287h4v5h-4zM650 287h9v5h-9zM664 287h4v5h-4zM32 292h6v5h-6zM65 292h5v5h-5zM166 292h5v5h-5zM248 292h5v5h-5zM399 292h5v5h-5zM527 292h9v5h-9zM577 292h5v5h-5zM586 292h5v5h-5zM595 292h5v5h-5zM61 297h4v4h-4zM171 297h4v4h-4zM180 297h4v4h-4zM687 297h1v4h-1zM61 301h9v5h-9zM481 301h9v5h-9zM687 301h1v5h-1zM230 306h4v4h-4zM120 310h5v5h-5zM440 310h14v5h-14zM646 310h4v5h-4zM239 315h5v4h-5zM257 315h5v4h-5zM344 315h5v4h-5zM440 315h5v4h-5zM646 315h9v4h-9zM234 319h5v5h-5zM266 319h5v5h-5zM340 319h4v5h-4zM376 319h5v5h-5zM472 319h5v5h-5zM495 319h9v5h-9zM682 319h6v5h-6zM225 324h14v5h-14zM253 324h13v5h-13zM664 324h4v5h-4zM230 329h9v4h-9zM431 329h9v4h-9zM435 333h5v5h-5zM340 338h4v4h-4zM445 338h4v4h-4zM308 342h4v5h-4zM340 342h4v5h-4zM408 342h5v5h-5zM308 347h4v4h-4zM504 347h5v4h-5zM344 351h5v5h-5zM614 351h9v5h-9zM340 356h4v5h-4zM349 356h4v5h-4zM435 356h5v5h-5zM623 356h4v5h-4zM257 361h5v4h-5zM349 361h9v4h-9zM367 361h5v4h-5zM417 361h5v4h-5zM88 365h5v5h-5zM349 365h9v5h-9zM399 365h5v5h-5zM216 370h5v4h-5zM349 370h9v4h-9zM399 370h5v4h-5zM673 370h5v4h-5zM120 383h5v5h-5zM193 383h14v5h-14zM678 383h4v5h-4zM120 388h5v5h-5zM189 388h18v5h-18zM212 388h4v5h-4zM618 388h5v5h-5zM678 388h9v5h-9zM125 393h4v4h-4zM152 393h14v4h-14zM193 393h5v4h-5zM203 393h4v4h-4zM212 393h4v4h-4zM623 393h4v4h-4zM678 393h4v4h-4zM687 393h1v4h-1zM143 397h9v5h-9zM203 397h13v5h-13zM563 397h10v5h-10zM682 397h6v5h-6zM203 402h4v4h-4zM486 402h4v4h-4zM563 402h10v4h-10zM586 402h9v4h-9zM193 406h5v5h-5zM563 406h10v5h-10zM614 406h13v5h-13zM559 411h9v4h-9zM559 415h9v5h-9zM559 420h9v5h-9zM88 425h5v4h-5zM326 434h4v4h-4zM545 438h5v5h-5zM367 447h18v5h-18zM372 452h4v4h-4zM111 456h5v5h-5zM120 456h5v5h-5zM116 461h4v5h-4zM152 470h5v5h-5zM495 475h4v4h-4zM545 475h5v4h-5zM362 479h5v3h-5zM486 479h9v3h-9zM545 479h5v3h-5z"/><path fill="#fee38b" d="M84 26h4v1h-4zM125 26h4v1h-4zM157 26h4v1h-4zM180 26h4v1h-4zM266 26h5v1h-5zM431 26h4v1h-4zM440 26h9v1h-9zM536 26h9v1h-9zM550 26h4v1h-4zM559 26h9v1h-9zM157 27h4v5h-4zM266 27h5v5h-5zM431 27h4v5h-4zM527 27h9v5h-9zM541 27h4v5h-4zM550 27h4v5h-4zM641 27h5v5h-5zM203 32h4v4h-4zM266 32h5v4h-5zM326 32h9v4h-9zM541 32h4v4h-4zM641 32h5v4h-5zM88 36h5v5h-5zM111 36h9v5h-9zM171 36h4v5h-4zM207 36h5v5h-5zM326 36h4v5h-4zM372 36h9v5h-9zM609 36h5v5h-5zM47 41h5v4h-5zM56 41h5v4h-5zM102 41h5v4h-5zM139 41h4v4h-4zM157 41h4v4h-4zM175 41h5v4h-5zM212 41h4v4h-4zM266 41h5v4h-5zM385 41h5v4h-5zM600 41h4v4h-4zM627 41h5v4h-5zM97 45h5v5h-5zM111 45h5v5h-5zM139 45h18v5h-18zM216 45h5v5h-5zM266 45h5v5h-5zM340 45h4v5h-4zM385 45h5v5h-5zM490 45h9v5h-9zM623 45h4v5h-4zM682 45h5v5h-5zM56 50h5v5h-5zM102 50h9v5h-9zM139 50h13v5h-13zM157 50h9v5h-9zM216 50h5v5h-5zM390 50h4v5h-4zM399 50h5v5h-5zM495 50h4v5h-4zM687 50h1v5h-1zM143 55h9v4h-9zM161 55h5v4h-5zM390 55h4v4h-4zM399 55h5v4h-5zM431 55h4v4h-4zM481 55h14v4h-14zM527 55h9v4h-9zM545 55h5v4h-5zM604 55h10v4h-10zM636 55h5v4h-5zM678 55h4v4h-4zM38 59h5v5h-5zM56 59h5v5h-5zM134 59h5v5h-5zM148 59h4v5h-4zM161 59h5v5h-5zM477 59h4v5h-4zM490 59h14v5h-14zM531 59h10v5h-10zM604 59h5v5h-5zM38 64h9v4h-9zM152 64h5v4h-5zM404 64h4v4h-4zM481 64h5v4h-5zM504 64h5v4h-5zM527 64h9v4h-9zM541 64h4v4h-4zM604 64h5v4h-5zM161 68h5v5h-5zM431 68h4v5h-4zM513 68h9v5h-9zM65 73h5v4h-5zM97 73h5v4h-5zM509 73h4v4h-4zM65 77h10v5h-10zM504 77h5v5h-5zM563 77h5v5h-5zM75 82h4v4h-4zM134 82h9v4h-9zM563 82h5v4h-5zM65 86h5v5h-5zM79 86h5v5h-5zM134 86h9v5h-9zM449 86h5v5h-5zM349 91h4v5h-4zM646 91h4v5h-4zM88 96h5v4h-5zM175 96h5v4h-5zM317 96h4v4h-4zM563 96h5v4h-5zM88 100h5v5h-5zM152 100h5v5h-5zM175 100h18v5h-18zM477 100h4v5h-4zM32 105h6v4h-6zM180 105h4v4h-4zM189 105h9v4h-9zM472 105h9v4h-9zM32 109h6v5h-6zM189 109h4v5h-4zM417 109h5v5h-5zM449 109h5v5h-5zM43 114h9v4h-9zM463 114h4v4h-4zM522 114h5v4h-5zM47 118h5v5h-5zM463 123h4v5h-4zM472 123h9v5h-9zM550 128h4v4h-4zM32 132h6v5h-6zM481 132h5v5h-5zM673 132h5v5h-5zM161 137h5v4h-5zM477 137h4v4h-4zM550 137h4v4h-4zM161 141h5v5h-5zM97 146h5v4h-5zM102 150h5v5h-5zM70 155h9v5h-9zM75 160h4v4h-4zM641 160h5v4h-5zM376 164h5v5h-5zM285 169h4v4h-4zM239 173h5v5h-5zM244 178h4v4h-4zM413 178h4v4h-4zM234 182h5v5h-5zM244 182h9v5h-9zM376 182h9v5h-9zM417 182h5v5h-5zM234 187h5v5h-5zM244 187h4v5h-4zM372 187h13v5h-13zM408 187h5v5h-5zM422 187h9v5h-9zM454 187h9v5h-9zM472 187h9v5h-9zM239 192h9v4h-9zM257 192h5v4h-5zM271 192h5v4h-5zM285 192h4v4h-4zM317 192h4v4h-4zM358 192h4v4h-4zM390 192h4v4h-4zM399 192h5v4h-5zM408 192h5v4h-5zM431 192h4v4h-4zM467 192h5v4h-5zM477 192h4v4h-4zM554 192h5v4h-5zM577 192h5v4h-5zM225 196h5v5h-5zM253 196h4v5h-4zM289 196h5v5h-5zM298 196h5v5h-5zM358 196h9v5h-9zM372 196h4v5h-4zM399 196h5v5h-5zM435 196h5v5h-5zM472 196h5v5h-5zM481 196h5v5h-5zM495 196h4v5h-4zM509 196h4v5h-4zM531 196h5v5h-5zM289 201h5v4h-5zM321 201h5v4h-5zM353 201h5v4h-5zM362 201h10v4h-10zM381 201h4v4h-4zM390 201h4v4h-4zM435 201h5v4h-5zM490 201h5v4h-5zM509 201h4v4h-4zM518 201h9v4h-9zM472 205h5v5h-5zM481 205h9v5h-9zM545 205h5v5h-5zM513 210h5v4h-5zM536 210h5v4h-5zM550 210h4v4h-4zM563 210h5v4h-5zM577 210h5v4h-5zM586 210h5v4h-5zM326 214h9v5h-9zM573 214h4v5h-4zM586 214h5v5h-5zM335 219h5v5h-5zM577 219h5v5h-5zM618 219h5v5h-5zM554 224h5v4h-5zM573 224h4v4h-4zM509 228h4v5h-4zM518 228h4v5h-4zM472 233h5v4h-5zM522 233h5v4h-5zM417 237h5v5h-5zM449 237h5v5h-5zM509 237h4v5h-4zM527 237h9v5h-9zM623 237h4v5h-4zM61 242h4v4h-4zM84 242h4v4h-4zM257 242h5v4h-5zM440 242h9v4h-9zM84 246h9v5h-9zM84 251h9v4h-9zM394 251h5v4h-5zM88 255h9v5h-9zM504 260h5v5h-5zM212 265h4v4h-4zM435 265h5v4h-5zM499 265h5v4h-5zM504 269h5v5h-5zM70 278h5v5h-5zM239 278h5v5h-5zM408 278h9v5h-9zM422 278h4v5h-4zM413 283h9v4h-9zM431 283h4v4h-4zM166 287h9v5h-9zM408 287h5v5h-5zM522 287h5v5h-5zM554 287h5v5h-5zM171 292h9v5h-9zM404 292h4v5h-4zM65 297h5v4h-5zM481 297h5v4h-5zM646 297h4v4h-4zM234 301h5v5h-5zM335 310h5v5h-5zM262 315h4v4h-4zM445 315h4v4h-4zM687 315h1v4h-1zM230 319h4v5h-4zM257 319h9v5h-9zM636 338h5v4h-5zM404 351h4v5h-4zM38 356h5v5h-5zM344 356h5v5h-5zM372 356h4v5h-4zM618 356h5v5h-5zM344 361h5v4h-5zM618 370h5v4h-5zM157 379h4v4h-4zM207 388h5v5h-5zM148 393h4v4h-4zM207 393h5v4h-5zM682 393h5v4h-5zM198 402h5v4h-5zM198 406h5v5h-5zM618 411h5v4h-5zM618 415h5v5h-5zM116 456h4v5h-4zM120 461h5v5h-5zM490 475h5v4h-5zM495 479h4v3h-4zM550 479h4v3h-4z"/><path fill="#fedf83" d="M120 26h5v1h-5zM545 26h5v1h-5zM554 26h5v1h-5zM171 27h4v5h-4zM317 27h4v5h-4zM203 36h4v5h-4zM682 36h5v5h-5zM111 41h5v4h-5zM52 45h4v5h-4zM102 45h9v5h-9zM390 45h9v5h-9zM43 50h4v5h-4zM230 50h4v5h-4zM43 55h4v4h-4zM56 55h5v4h-5zM152 55h9v4h-9zM495 55h9v4h-9zM536 55h9v4h-9zM152 59h5v5h-5zM349 59h4v5h-4zM481 59h9v5h-9zM541 59h4v5h-4zM618 59h5v5h-5zM52 64h4v4h-4zM157 64h4v4h-4zM362 64h5v4h-5zM687 68h1v5h-1zM513 73h9v4h-9zM591 73h4v4h-4zM518 77h4v5h-4zM568 77h9v5h-9zM65 82h10v4h-10zM84 82h4v4h-4zM408 82h5v4h-5zM518 82h4v4h-4zM573 82h4v4h-4zM70 86h9v5h-9zM84 86h9v5h-9zM161 86h5v5h-5zM509 86h9v5h-9zM568 86h9v5h-9zM84 91h4v5h-4zM75 100h4v5h-4zM84 100h4v5h-4zM193 100h5v5h-5zM467 105h5v4h-5zM673 105h5v4h-5zM358 109h4v5h-4zM472 109h5v5h-5zM518 114h4v4h-4zM431 118h4v5h-4zM463 118h4v5h-4zM472 118h5v5h-5zM32 123h6v5h-6zM467 123h5v5h-5zM499 123h5v5h-5zM32 128h6v4h-6zM472 128h9v4h-9zM111 132h5v5h-5zM477 132h4v5h-4zM545 132h14v5h-14zM157 137h4v4h-4zM668 137h10v4h-10zM157 141h4v5h-4zM458 160h5v4h-5zM148 164h4v5h-4zM184 173h5v5h-5zM266 187h5v5h-5zM413 187h9v5h-9zM563 187h5v5h-5zM225 192h5v4h-5zM266 192h5v4h-5zM276 192h4v4h-4zM289 192h9v4h-9zM367 192h5v4h-5zM376 192h5v4h-5zM394 192h5v4h-5zM404 192h4v4h-4zM234 196h5v5h-5zM244 196h4v5h-4zM344 196h5v5h-5zM477 196h4v5h-4zM298 201h5v4h-5zM326 201h4v4h-4zM335 201h9v4h-9zM349 201h4v4h-4zM358 201h4v4h-4zM376 201h5v4h-5zM431 201h4v4h-4zM445 201h9v4h-9zM458 201h5v4h-5zM467 201h10v4h-10zM495 201h14v4h-14zM527 201h9v4h-9zM541 201h9v4h-9zM422 205h4v5h-4zM531 205h5v5h-5zM541 205h4v5h-4zM518 210h4v4h-4zM577 214h5v5h-5zM582 219h4v5h-4zM563 224h5v4h-5zM513 228h5v5h-5zM573 228h4v5h-4zM435 233h5v4h-5zM326 237h4v5h-4zM513 237h9v5h-9zM394 246h10v5h-10zM349 255h4v5h-4zM504 265h5v4h-5zM38 269h9v5h-9zM358 269h4v5h-4zM499 269h5v5h-5zM664 269h4v5h-4zM399 283h14v4h-14zM399 287h9v5h-9zM230 301h4v5h-4zM362 306h5v4h-5zM422 319h4v5h-4zM152 324h5v5h-5zM573 333h4v5h-4zM659 333h5v5h-5zM161 338h5v4h-5zM394 351h5v5h-5zM193 356h5v5h-5zM376 356h5v5h-5zM431 370h4v4h-4zM641 370h5v4h-5zM198 397h5v5h-5zM266 402h5v4h-5zM399 411h5v4h-5zM367 434h5v4h-5zM573 443h4v4h-4zM340 475h4v4h-4z"/><path fill="#fedb7b" d="M536 36h5v5h-5zM52 41h4v4h-4zM285 41h4v4h-4zM687 41h1v4h-1zM32 45h6v5h-6zM47 45h5v5h-5zM47 50h5v5h-5zM394 50h5v5h-5zM431 50h4v5h-4zM454 50h4v5h-4zM129 55h5v4h-5zM449 55h5v4h-5zM157 59h4v5h-4zM509 77h4v5h-4zM495 82h4v4h-4zM509 82h9v4h-9zM70 91h9v5h-9zM203 91h4v5h-4zM449 91h5v5h-5zM75 96h4v4h-4zM84 96h4v4h-4zM308 96h4v4h-4zM79 100h5v5h-5zM111 105h5v4h-5zM490 105h5v4h-5zM467 109h5v5h-5zM349 114h4v4h-4zM467 114h10v4h-10zM531 114h5v4h-5zM650 114h5v4h-5zM467 118h5v5h-5zM531 123h5v5h-5zM134 132h5v5h-5zM623 132h4v5h-4zM32 141h6v5h-6zM568 155h5v5h-5zM330 169h5v4h-5zM477 169h4v4h-4zM449 173h5v5h-5zM554 173h5v5h-5zM573 178h4v4h-4zM636 182h5v5h-5zM239 187h5v5h-5zM234 192h5v4h-5zM362 192h5v4h-5zM385 192h5v4h-5zM413 192h9v4h-9zM445 192h4v4h-4zM230 196h4v5h-4zM326 196h4v5h-4zM340 196h4v5h-4zM376 196h14v5h-14zM431 196h4v5h-4zM440 196h5v5h-5zM490 196h5v5h-5zM627 196h5v5h-5zM330 201h5v4h-5zM344 201h5v4h-5zM426 201h5v4h-5zM440 201h5v4h-5zM463 201h4v4h-4zM477 201h4v4h-4zM490 205h5v5h-5zM504 205h9v5h-9zM509 210h4v4h-4zM541 210h4v4h-4zM582 210h4v4h-4zM340 214h4v5h-4zM536 214h5v5h-5zM582 214h4v5h-4zM298 219h5v5h-5zM166 224h5v4h-5zM568 228h5v5h-5zM509 233h13v4h-13zM367 246h5v5h-5zM445 246h4v5h-4zM659 246h5v5h-5zM499 251h5v4h-5zM298 255h5v5h-5zM499 260h5v5h-5zM527 260h4v5h-4zM394 269h5v5h-5zM376 274h5v4h-5zM472 278h5v5h-5zM102 283h5v4h-5zM372 287h4v5h-4zM111 292h5v5h-5zM75 306h4v4h-4zM239 310h5v5h-5zM271 342h5v5h-5zM120 351h5v5h-5zM317 447h4v5h-4zM463 452h4v4h-4zM522 456h5v5h-5z"/><path fill="#fed572" d="M171 26h4v1h-4zM531 26h5v1h-5zM161 27h10v5h-10zM193 27h5v5h-5zM116 32h4v4h-4zM509 32h4v4h-4zM440 41h5v4h-5zM678 45h4v5h-4zM47 55h5v4h-5zM43 59h13v5h-13zM111 59h5v5h-5zM668 59h5v5h-5zM157 68h4v5h-4zM230 68h4v5h-4zM189 77h4v5h-4zM513 77h5v5h-5zM604 82h5v4h-5zM490 86h5v5h-5zM161 91h5v5h-5zM541 91h4v5h-4zM79 96h5v4h-5zM664 100h4v5h-4zM221 105h4v4h-4zM289 118h5v5h-5zM522 123h5v5h-5zM623 123h4v5h-4zM522 150h5v5h-5zM422 169h4v4h-4zM440 178h5v4h-5zM435 187h5v5h-5zM230 192h4v4h-4zM381 192h4v4h-4zM422 192h4v4h-4zM330 196h10v5h-10zM422 196h4v5h-4zM449 196h5v5h-5zM458 196h9v5h-9zM408 201h5v4h-5zM481 201h9v4h-9zM582 201h4v4h-4zM463 205h9v5h-9zM495 205h4v5h-4zM499 210h5v4h-5zM545 210h5v4h-5zM408 214h5v5h-5zM550 214h18v5h-18zM550 219h9v5h-9zM563 219h5v5h-5zM499 224h5v4h-5zM385 233h5v4h-5zM166 237h5v5h-5zM545 246h5v5h-5zM678 251h4v4h-4zM604 260h5v5h-5zM171 265h4v4h-4zM458 269h5v5h-5zM646 269h4v5h-4zM189 292h4v5h-4zM184 297h5v4h-5zM216 301h5v5h-5zM591 315h4v4h-4zM518 319h4v5h-4zM440 329h5v4h-5zM673 329h5v4h-5zM271 374h5v5h-5zM394 397h5v5h-5zM203 420h4v5h-4zM586 456h5v5h-5z"/><path fill="#fece6a" d="M422 26h4v1h-4zM573 26h4v1h-4zM189 32h4v4h-4zM467 32h5v4h-5zM636 32h5v4h-5zM623 41h4v4h-4zM381 45h4v5h-4zM687 45h1v5h-1zM52 50h4v5h-4zM166 55h5v4h-5zM673 64h5v4h-5zM655 68h4v5h-4zM650 73h5v4h-5zM445 82h4v4h-4zM623 105h4v4h-4zM43 109h4v5h-4zM463 109h4v5h-4zM139 114h4v4h-4zM472 132h5v5h-5zM125 141h4v5h-4zM253 150h4v5h-4zM56 155h5v5h-5zM358 169h4v4h-4zM445 196h4v5h-4zM504 196h5v5h-5zM527 205h4v5h-4zM536 205h5v5h-5zM522 210h14v4h-14zM152 214h5v5h-5zM559 219h4v5h-4zM568 219h9v5h-9zM559 224h4v4h-4zM171 251h4v4h-4zM481 255h5v5h-5zM682 260h5v5h-5zM531 278h5v5h-5zM394 292h5v5h-5zM682 292h5v5h-5zM440 301h5v5h-5zM298 306h5v4h-5zM467 319h5v5h-5zM627 319h5v5h-5zM408 338h5v4h-5zM70 356h5v5h-5zM559 397h4v5h-4zM582 438h4v5h-4z"/><path fill="#fec561" d="M161 26h5v1h-5zM212 45h4v5h-4zM408 64h5v4h-5zM655 64h4v4h-4zM509 68h4v5h-4zM600 68h4v5h-4zM32 73h6v4h-6zM56 73h5v4h-5zM577 73h5v4h-5zM646 96h4v4h-4zM458 105h5v4h-5zM531 109h5v5h-5zM61 114h4v4h-4zM70 123h5v5h-5zM97 150h5v5h-5zM335 192h5v4h-5zM426 192h5v4h-5zM426 196h5v5h-5zM171 205h4v5h-4zM340 205h4v5h-4zM554 210h5v4h-5zM618 233h5v4h-5zM289 237h5v5h-5zM655 242h4v4h-4zM234 315h5v4h-5zM472 315h5v4h-5zM376 329h5v4h-5zM56 456h5v5h-5z"/><path fill="#febe59" d="M166 26h5v1h-5zM171 32h4v4h-4zM285 32h4v4h-4zM107 41h4v4h-4zM604 41h5v4h-5zM129 59h5v5h-5zM184 59h5v5h-5zM161 64h5v4h-5zM198 64h5v4h-5zM536 64h5v4h-5zM70 68h5v5h-5zM193 68h5v5h-5zM527 150h4v5h-4zM509 160h4v4h-4zM467 169h5v4h-5zM449 187h5v5h-5zM435 192h10v4h-10zM472 192h5v4h-5zM481 192h5v4h-5zM499 196h5v5h-5zM568 210h5v4h-5zM97 255h5v5h-5zM111 260h5v5h-5zM472 324h5v5h-5zM435 365h5v5h-5z"/><path fill="#feb651" d="M445 50h4v5h-4zM627 50h5v5h-5zM385 55h5v4h-5zM632 86h4v5h-4zM79 91h5v5h-5zM70 96h5v4h-5zM445 150h4v5h-4zM454 201h4v4h-4zM308 210h4v4h-4zM673 393h5v4h-5z"/><path fill="#feae4a" d="M79 26h5v1h-5zM435 26h5v1h-5zM52 55h4v4h-4zM47 64h5v4h-5zM445 187h4v5h-4z"/><path fill="#fd9f44" d="M568 82h5v4h-5zM372 192h4v4h-4z"/><rect x="152" y="78" width="9" height="8" fill="#fd863a"/><rect x="46" y="92" width="5" height="8" fill="#fea747"/><rect x="129" y="118" width="5" height="10" fill="#fd9f44"/><rect x="156" y="142" width="5" height="4" fill="#feae4a"/><rect x="215" y="25" width="5" height="6" fill="#fc6c33"/><rect x="82" y="60" width="7" height="4" fill="#feb651"/><rect x="170" y="54" width="8" height="8" fill="#febe59"/><rect x="405" y="78" width="7" height="4" fill="#fea747"/><rect x="491" y="192" width="9" height="13" fill="#fc552c"/><rect x="440" y="188" width="9" height="12" fill="#fd9f44"/><rect x="560" y="195" width="12" height="10" fill="#feb651"/><rect x="572" y="200" width="13" height="10" fill="#feae4a"/><rect x="645" y="210" width="11" height="10" fill="#fea747"/><rect x="656" y="210" width="11" height="6" fill="#feb651"/><rect x="675" y="185" width="7" height="13" fill="#feae4a"/><rect x="579" y="184" width="9" height="9" fill="#fd9841"/><rect x="633" y="201" width="12" height="10" fill="#feb651"/><rect x="506" y="175" width="7" height="7" fill="#feb651"/><rect x="383" y="156" width="9" height="10" fill="#feae4a"/><rect x="417" y="175" width="9" height="9" fill="#feb651"/><rect x="645" y="166" width="7" height="9" fill="#feae4a"/><rect x="51" y="283" width="9" height="5" fill="#fd913e"/><rect x="47" y="270" width="3" height="3" fill="#fea747"/><rect x="44" y="288" width="8" height="8" fill="#fece6a"/><rect x="175" y="252" width="9" height="4" fill="#feae4a"/><rect x="165" y="265" width="10" height="5" fill="#fd9f44"/><rect x="155" y="282" width="9" height="6" fill="#febe59"/><rect x="203" y="334" width="11" height="9" fill="#febe59"/><rect x="214" y="330" width="10" height="8" fill="#fec561"/></g><polygon points="229.5,37.0 239.0,37.0 239.0,41.2 234.0,41.2 234.0,50.5 220.2,50.5 220.2,41.2 229.5,41.2" fill="#808080" /><polygon points="234.2,91.7 234.2,83.0 252.5,83.0 252.5,78.3 265.8,78.3 265.8,69.2 275.0,69.2 275.0,64.2 283.0,64.2 283.0,60.0 302.0,60.0 302.0,52.0 306.7,52.0 306.7,55.0 311.7,55.0 311.7,51.4 315.3,51.4 315.3,45.8 334.0,45.8 334.0,41.0 340.3,41.0 340.3,31.9 344.4,31.9 344.4,45.8 338.9,45.8 338.9,51.4 329.9,51.4 329.9,54.9 312.0,54.9 311.7,72.5 306.7,72.5 306.7,69.2 302.5,69.2 302.5,73.3 289.2,73.3 289.2,78.3 280.0,78.3 280.0,83.0 265.8,83.0 265.8,86.7 251.7,86.7 251.7,91.7" fill="#808080" /><rect x="353.0" y="32.5" width="4.0" height="4.5" fill="#808080"/><rect x="357.0" y="27.5" width="5.0" height="5.0" fill="#808080"/><rect x="362.0" y="26.0" width="4.0" height="1.5" fill="#808080"/><polygon points="375.0,63.8 380.0,63.8 380.0,68.8 384.5,68.8 384.5,72.5 375.0,72.5" fill="#808080" /><polygon points="421.0,26.0 452.0,26.0 452.0,27.5 450.0,27.5 450.0,31.8 435.5,31.8 435.5,46.0 434.4,46.0 434.4,50.7 430.0,50.7 430.0,46.0 426.7,46.0 426.7,31.8 421.0,31.8" fill="#808080" /><polygon points="567.4,25.8 599.5,25.8 599.5,36.6 594.9,36.6 594.9,54.9 585.7,54.9 585.7,50.4 581.1,50.4 581.1,45.8 575.4,45.8 575.4,51.5 567.4,51.5 567.4,54.9 549.1,54.9 549.1,68.7 544.5,68.7 544.5,64.1 530.7,64.1 530.7,54.9 539.9,54.9 539.9,45.8 554.8,45.8 554.8,36.6 567.4,36.6" fill="#808080" /><rect x="575.4" y="54.9" width="5.7" height="4.6" fill="#808080"/><rect x="599.5" y="59.5" width="4.5" height="4.6" fill="#808080"/><rect x="562.8" y="77.8" width="4.6" height="9.2" fill="#808080"/><rect x="645.3" y="50.4" width="4.6" height="4.5" fill="#808080"/><polygon points="668.2,36.6 677.4,36.6 677.4,50.4 663.6,50.4 663.6,54.9 659.0,54.9 659.0,50.4 654.5,50.4 654.5,45.8 663.6,45.8 663.6,41.2 668.2,41.2" fill="#808080" /><rect x="677.4" y="25.8" width="9.1" height="6.2" fill="#808080"/><rect x="613.0" y="25.8" width="8.0" height="1.6" fill="#808080"/><rect x="265.8" y="192.0" width="4.2" height="4.7" fill="#808080"/><rect x="325.6" y="197.5" width="8.3" height="3.3" fill="#808080"/><rect x="390.8" y="197.2" width="6.9" height="3.7" fill="#808080"/><rect x="454.9" y="201.8" width="6.1" height="6.1" fill="#808080"/><rect x="467.0" y="203.3" width="13.8" height="6.1" fill="#808080"/><rect x="496.0" y="204.9" width="6.0" height="6.1" fill="#808080"/><rect x="534.3" y="209.4" width="4.6" height="4.6" fill="#808080"/><rect x="581.7" y="246.7" width="5.0" height="5.8" fill="#808080"/><polygon points="102.0,255.8 105.7,255.8 105.7,260.8 110.3,260.8 110.3,270.0 114.5,270.0 114.5,274.2 123.7,274.2 123.7,282.5 115.3,282.5 115.3,277.5 111.2,277.5 111.2,273.7 92.0,273.7 92.0,269.2 82.8,269.2 82.8,265.0 102.0,265.0" fill="#808080" /><polygon points="65.3,315.0 78.7,315.0 78.7,320.0 82.8,320.0 82.8,324.7 59.5,324.7 59.5,328.3 51.2,328.3 51.2,325.0 56.2,325.0 56.2,320.0 65.3,320.0" fill="#808080" /><rect x="87.8" y="315.0" width="9.2" height="5.0" fill="#808080"/><rect x="70.0" y="297.0" width="3.7" height="4.7" fill="#808080"/><polygon points="53.7,288.3 58.7,285.8 72.8,285.8 77.0,292.5 72.0,295.8 66.2,301.7 58.7,300.0 52.0,295.0" fill="#cccccc" /><polygon points="226.0,199.0 260.0,199.0 260.0,323.0 235.0,323.0 235.0,330.0 224.3,330.4 211.3,330.4 211.3,306.7 219.7,306.7 219.7,283.0 215.9,283.0 215.9,288.3 211.3,288.3 211.3,292.9 206.7,292.9 206.7,297.5 196.8,297.5 196.8,302.1 179.2,302.1 179.2,306.7 175.4,306.7 174.7,288.0 170.1,288.0 170.1,296.7 165.5,296.7 165.5,306.7 170.1,306.7 170.1,310.5 160.9,310.5 160.9,314.6 129.6,314.6 129.6,310.3 133.1,310.3 133.1,305.9 138.4,305.9 138.4,301.5 142.8,301.5 142.8,297.1 152.4,297.1 152.4,292.8 157.6,292.8 157.6,287.5 162.0,287.5 162.0,283.1 166.4,283.1 166.4,274.4 170.8,274.4 170.8,270.0 175.1,270.0 175.1,260.4 179.5,260.4 179.5,252.2 183.9,252.2 183.9,242.2 187.8,242.2 187.8,237.8 193.3,237.8 193.3,233.3 197.2,233.3 197.2,229.4 207.2,229.4 207.2,224.4 216.7,224.4 216.7,220.0 226.0,220.0" fill="#808080" /><rect x="192.5" y="337.5" width="12.5" height="13.5" fill="#808080"/><polygon points="215.0,300.0 226.0,300.0 280.0,300.0 280.0,337.5 275.0,337.5 275.0,342.5 260.0,342.5 260.0,337.5 242.5,337.5 242.5,334.0 226.0,334.0 226.0,332.0 220.0,332.0 220.0,332.0" fill="#808080" /><rect x="340.0" y="316.0" width="35.0" height="18.0" fill="#808080"/><rect x="375.0" y="334.0" width="5.0" height="5.0" fill="#808080"/><polygon points="490.3,312.0 537.0,312.0 560.0,290.0 576.0,274.0 585.8,265.0 630.8,265.0 630.8,252.5 640.0,252.5 640.0,233.3 647.0,233.3 654.0,234.0 676.7,241.7 686.7,246.7 688.0,246.7 688.0,482.0 320.8,482.0 320.8,475.0 312.5,465.3 312.5,452.8 325.0,452.8 325.0,457.0 344.4,457.0 344.4,448.6 350.0,448.6 350.0,441.7 357.0,441.7 357.0,419.4 350.0,419.4 350.0,411.0 344.4,411.0 344.4,402.8 350.0,402.8 350.0,395.8 357.0,395.8 357.0,400.0 365.3,400.0 365.3,393.0 407.0,393.0 407.0,407.0 416.7,407.0 416.7,401.4 422.2,401.4 422.2,397.2 438.9,397.2 438.9,384.4 443.3,384.4 443.3,373.3 448.9,373.3 448.9,364.4 466.7,364.4 466.7,356.7 471.2,356.7 471.2,347.0 475.8,347.0 475.8,343.3 480.0,343.3 480.0,338.3 485.0,338.3 485.0,326.0" fill="#808080" /><clipPath id="yisl"><polygon points="536.7,314.2 536.7,304.7 547.9,287.1 555.8,277.5 562.2,272.7 576.0,272.7 576.0,296.7 565.4,304.7 546.3,312.7" fill="#ffeea6" /><polygon points="476.0,360.8 490.0,360.8 490.0,338.3 508.3,338.3 508.3,342.5 521.7,342.5 521.7,338.3 530.3,338.3 530.3,344.6 536.7,344.6 536.7,343.0 544.7,343.0 544.7,338.2 555.8,328.6 559.0,335.0 559.0,357.4 567.0,357.4 567.0,365.4 555.8,365.4 555.8,387.7 547.9,387.7 547.9,394.1 533.5,394.1 533.5,402.1 538.3,402.1 538.3,410.1 528.7,410.1 528.7,427.7 523.9,427.7 523.9,419.7 512.7,419.7 512.7,424.5 498.3,424.5 498.3,421.3 476.0,421.3 476.0,411.7 487.2,411.7 487.2,398.9 480.8,398.9 480.8,379.7 476.0,379.7" fill="#ffeea6" /><rect x="594.0" y="397.0" width="10.0" height="13.0" fill="#ffeea6"/><polygon points="672.4,337.5 682.0,337.5 682.0,341.9 686.4,341.9 686.4,351.5 676.8,351.5 676.8,346.3 672.4,346.3" fill="#ffeea6" /><polygon points="622.5,320.0 626.9,320.0 626.9,314.8 631.3,314.8 631.3,301.6 649.6,301.6 649.6,297.3 672.4,297.3 672.4,282.4 676.8,282.4 676.8,278.9 685.5,278.9 685.5,264.9 688.0,264.9 688.0,328.8 662.8,328.8 662.8,324.4 658.4,324.4 658.4,320.0 636.5,320.0 636.5,324.4 622.5,324.4" fill="#ffeea6" /><polygon points="604.1,302.5 612.0,302.5 612.0,297.3 617.3,297.3 617.3,302.5 621.6,302.5 621.6,306.0 617.3,306.0 617.3,310.4 612.0,310.4 612.0,314.8 607.6,314.8 607.6,320.0 604.1,320.0" fill="#ffeea6" /><rect x="490.0" y="325.0" width="12.9" height="9.2" fill="#ffeea6"/><rect x="494.2" y="334.0" width="4.6" height="3.9" fill="#ffeea6"/><rect x="586.7" y="273.3" width="12.5" height="13.4" fill="#ffeea6"/><rect x="603.3" y="269.2" width="10.0" height="10.8" fill="#ffeea6"/><rect x="616.7" y="265.0" width="10.8" height="8.3" fill="#ffeea6"/></clipPath><use href="#cells" clip-path="url(#yisl)"/><polygon points="229.7,200.3 243.6,196.1 261.7,197.5 278.3,199.4 295.0,201.7 311.7,201.1 325.6,203.0 339.4,202.2 356.1,201.1 372.8,202.2 392.2,203.3 407.5,200.9 422.8,202.7 441.1,203.3 456.4,204.9 468.6,207.9 483.9,206.4 502.2,209.4 517.5,211.0 532.8,212.5 545.0,217.1 557.2,221.7 566.4,226.2 575.5,229.3 584.2,225.0 581.7,236.7 581.7,250.0 590.0,261.7 585.0,265.0 578.0,268.0 572.5,267.5 563.3,270.5 557.2,273.6 551.1,279.7 548.0,287.4 545.0,298.0 535.8,305.7 523.6,313.3 508.3,319.4 496.1,321.0 480.8,322.5 465.5,325.5 450.3,327.1 431.9,327.1 416.7,324.0 401.4,322.5 386.1,319.4 377.5,321.0 365.0,323.8 352.5,318.8 340.0,321.0 325.0,318.0 320.0,315.0 315.0,318.8 310.0,325.0 297.5,326.0 286.0,327.5 280.0,331.0 272.5,323.8 260.0,321.0 250.0,322.5 226.0,323.8 218.6,323.9 225.6,312.8 221.4,307.2 225.6,296.1 226.9,276.7 232.5,266.9 224.2,248.9 214.4,246.1 207.5,230.8 229.7,221.1" fill="#cccccc" shape-rendering="geometricPrecision"/><polygon points="594.5,286.8 600.6,284.1 610.3,281.5 620.8,279.8 629.5,277.1 636.5,276.3 647.0,277.1 657.5,278.9 664.5,282.4 661.0,284.1 650.5,285.0 647.0,287.6 643.5,285.0 640.0,288.5 631.3,290.3 622.5,293.8 612.0,293.8 603.3,295.5 596.3,292.0" fill="#cccccc" shape-rendering="geometricPrecision"/><polygon points="647.5,233.3 652.0,237.0 660.0,236.5 666.0,236.0 671.0,239.5 675.5,242.0 669.0,243.5 664.0,246.0 660.8,250.0 657.0,246.5 652.0,245.5 649.0,241.0 647.5,236.0" fill="#cccccc" shape-rendering="geometricPrecision"/></g><rect x="31.5" y="25.5" width="657" height="457" fill="none" stroke="#000" stroke-width="1"/><path d="M40.5 483v6 M63.5 483v3 M86.5 483v3 M109.5 483v3 M131.5 483v3 M154.5 483v6 M177.5 483v3 M200.5 483v3 M223.5 483v3 M246.5 483v3 M268.5 483v6 M291.5 483v3 M314.5 483v3 M337.5 483v3 M360.5 483v3 M383.5 483v6 M405.5 483v3 M428.5 483v3 M451.5 483v3 M474.5 483v3 M497.5 483v6 M520.5 483v3 M542.5 483v3 M565.5 483v3 M588.5 483v3 M611.5 483v6 M634.5 483v3 M657.5 483v3 M680.5 483v3 M31 39.5h-3 M31 62.5h-3 M31 85.5h-6 M31 108.5h-3 M31 131.5h-3 M31 153.5h-3 M31 176.5h-3 M31 199.5h-6 M31 222.5h-3 M31 245.5h-3 M31 268.5h-3 M31 290.5h-3 M31 313.5h-6 M31 336.5h-3 M31 359.5h-3 M31 382.5h-3 M31 405.5h-3 M31 428.5h-6 M31 450.5h-3 M31 473.5h-3" stroke="#000" stroke-width="1" fill="none"/><text x="41.1" y="502" font-size="12.6" text-anchor="middle" textLength="27.5" lengthAdjust="spacingAndGlyphs">-68°</text><text x="155.29999999999998" y="502" font-size="12.6" text-anchor="middle" textLength="40.5" lengthAdjust="spacingAndGlyphs">-67.5°</text><text x="269.5" y="502" font-size="12.6" text-anchor="middle" textLength="27.5" lengthAdjust="spacingAndGlyphs">-67°</text><text x="383.70000000000005" y="502" font-size="12.6" text-anchor="middle" textLength="40.5" lengthAdjust="spacingAndGlyphs">-66.5°</text><text x="497.90000000000003" y="502" font-size="12.6" text-anchor="middle" textLength="27.5" lengthAdjust="spacingAndGlyphs">-66°</text><text x="612.1" y="502" font-size="12.6" text-anchor="middle" textLength="40.5" lengthAdjust="spacingAndGlyphs">-65.5°</text><text transform="translate(23,81.4) rotate(-90)" font-size="12.6" text-anchor="middle" textLength="21" lengthAdjust="spacingAndGlyphs">19°</text><text transform="translate(23,195.6) rotate(-90)" font-size="12.6" text-anchor="middle" textLength="33" lengthAdjust="spacingAndGlyphs">18.5°</text><text transform="translate(23,309.8) rotate(-90)" font-size="12.6" text-anchor="middle" textLength="21" lengthAdjust="spacingAndGlyphs">18°</text><text transform="translate(23,424.0) rotate(-90)" font-size="12.6" text-anchor="middle" textLength="33" lengthAdjust="spacingAndGlyphs">17.5°</text><rect x="0.5" y="513.5" width="719" height="124" fill="#ffffcc" stroke="#000" stroke-width="1"/><rect x="48" y="530" width="16" height="18" fill="#fffdc8"/><rect x="64" y="530" width="16" height="18" fill="#fffac0"/><rect x="80" y="530" width="16" height="18" fill="#fff6b6"/><rect x="96" y="530" width="16" height="18" fill="#fff3ae"/><rect x="112" y="530" width="16" height="18" fill="#ffefa5"/><rect x="128" y="530" width="16" height="18" fill="#ffeb9c"/><rect x="144" y="530" width="16" height="18" fill="#ffe794"/><rect x="160" y="530" width="16" height="18" fill="#fee38b"/><rect x="176" y="530" width="16" height="18" fill="#fedf83"/><rect x="192" y="530" width="16" height="18" fill="#fedb7b"/><rect x="208" y="530" width="16" height="18" fill="#fed572"/><rect x="224" y="530" width="16" height="18" fill="#fece6a"/><rect x="240" y="530" width="16" height="18" fill="#fec561"/><rect x="256" y="530" width="16" height="18" fill="#febe59"/><rect x="272" y="530" width="16" height="18" fill="#feb651"/><rect x="288" y="530" width="16" height="18" fill="#feae4a"/><rect x="304" y="530" width="16" height="18" fill="#fea747"/><rect x="320" y="530" width="16" height="18" fill="#fd9f44"/><rect x="336" y="530" width="16" height="18" fill="#fd9841"/><rect x="352" y="530" width="16" height="18" fill="#fd913e"/><rect x="368" y="530" width="16" height="18" fill="#fd863a"/><rect x="384" y="530" width="16" height="18" fill="#fd7a37"/><rect x="400" y="530" width="16" height="18" fill="#fc6c33"/><rect x="416" y="530" width="16" height="18" fill="#fc612f"/><rect x="432" y="530" width="16" height="18" fill="#fc552c"/><rect x="448" y="530" width="16" height="18" fill="#f94828"/><rect x="464" y="530" width="16" height="18" fill="#f43e26"/><rect x="480" y="530" width="16" height="18" fill="#ef3323"/><rect x="496" y="530" width="16" height="18" fill="#ea2920"/><rect x="512" y="530" width="16" height="18" fill="#e61f1d"/><rect x="528" y="530" width="16" height="18" fill="#df171d"/><rect x="544" y="530" width="16" height="18" fill="#d7121f"/><rect x="560" y="530" width="16" height="18" fill="#cf0c21"/><rect x="576" y="530" width="16" height="18" fill="#c80723"/><rect x="592" y="530" width="16" height="18" fill="#c10325"/><rect x="608" y="530" width="16" height="18" fill="#b60026"/><rect x="624" y="530" width="16" height="18" fill="#aa0026"/><rect x="640" y="530" width="16" height="18" fill="#9d0026"/><rect x="656" y="530" width="16" height="18" fill="#910026"/><rect x="672" y="530" width="17" height="18" fill="#860026"/><path d="M48.5 548v3 M64.5 548v3 M80.5 548v3 M96.5 548v3 M112.5 548v3 M128.5 548v3 M144.5 548v3 M160.5 548v3 M176.5 548v3 M192.5 548v3 M208.5 548v3 M224.5 548v3 M240.5 548v3 M256.5 548v3 M272.5 548v3 M288.5 548v3 M304.5 548v3 M320.5 548v3 M336.5 548v3 M352.5 548v3 M368.5 548v3 M384.5 548v3 M400.5 548v3 M416.5 548v3 M432.5 548v3 M448.5 548v3 M464.5 548v3 M480.5 548v3 M496.5 548v3 M512.5 548v3 M528.5 548v3 M544.5 548v3 M560.5 548v3 M576.5 548v3 M592.5 548v3 M608.5 548v3 M624.5 548v3 M640.5 548v3 M656.5 548v3 M672.5 548v3 M688.5 548v3" stroke="#000" stroke-width="1" fill="none"/><text x="46.9" y="563" font-size="12" text-anchor="middle">0</text><text x="110.9" y="563" font-size="12" text-anchor="middle" textLength="19.5" lengthAdjust="spacingAndGlyphs">0.1</text><text x="174.9" y="563" font-size="12" text-anchor="middle" textLength="19.5" lengthAdjust="spacingAndGlyphs">0.2</text><text x="238.9" y="563" font-size="12" text-anchor="middle" textLength="19.5" lengthAdjust="spacingAndGlyphs">0.3</text><text x="302.9" y="563" font-size="12" text-anchor="middle" textLength="19.5" lengthAdjust="spacingAndGlyphs">0.4</text><text x="366.9" y="563" font-size="12" text-anchor="middle" textLength="19.5" lengthAdjust="spacingAndGlyphs">0.5</text><text x="430.9" y="563" font-size="12" text-anchor="middle" textLength="19.5" lengthAdjust="spacingAndGlyphs">0.6</text><text x="494.9" y="563" font-size="12" text-anchor="middle" textLength="19.5" lengthAdjust="spacingAndGlyphs">0.7</text><text x="558.9" y="563" font-size="12" text-anchor="middle" textLength="19.5" lengthAdjust="spacingAndGlyphs">0.8</text><text x="622.9" y="563" font-size="12" text-anchor="middle" textLength="19.5" lengthAdjust="spacingAndGlyphs">0.9</text><text x="688.5" y="563" font-size="12" text-anchor="middle">1</text><text x="48" y="581" font-size="11.5" font-weight="bold" textLength="283" lengthAdjust="spacingAndGlyphs">ABI L2+ Aerosol Optical Depth at 550 nm (1)</text><text x="48" y="592.0" font-size="11.5" textLength="629" lengthAdjust="spacingAndGlyphs">Experimental NRT AOD 4 hour composite created from ABI L2 data from GOES-19. Fields generated by Atlantic</text><text x="48" y="602.9" font-size="11.5" textLength="186.5" lengthAdjust="spacingAndGlyphs">OceanWatch node at NOAA/AOML</text><text x="48" y="613.8" font-size="11.5" textLength="138.5" lengthAdjust="spacingAndGlyphs">(2026-02-18T22:00:00Z)</text><text x="48" y="624.7" font-size="11.5" textLength="272" lengthAdjust="spacingAndGlyphs">Data courtesy of USDOC/NOAA/OAR/AOML/PHOD</text></svg></body></html>
